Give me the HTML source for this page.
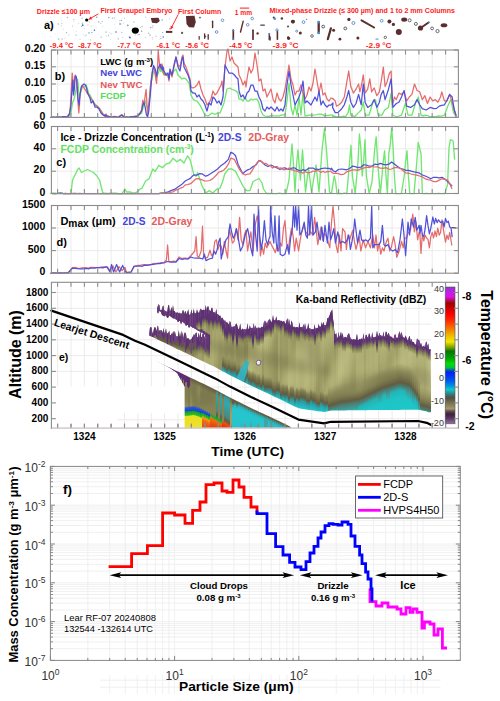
<!DOCTYPE html><html><head><meta charset="utf-8"><style>html,body{margin:0;padding:0;background:#fff;width:500px;height:701px;overflow:hidden}svg{display:block}text{font-family:"Liberation Sans",sans-serif}</style></head><body>
<svg width="500" height="701" viewBox="0 0 500 701">
<rect width="500" height="701" fill="#fff"/>
<text x="36.8" y="14.1" font-size="7.3" fill="#ff1a1a" font-weight="bold" textLength="53.2" lengthAdjust="spacingAndGlyphs" >Drizzle ≤100 µm</text>
<text x="100.4" y="13.3" font-size="7.6" fill="#ff1a1a" font-weight="bold" textLength="72.0" lengthAdjust="spacingAndGlyphs" >First Graupel Embryo</text>
<text x="178.1" y="13.5" font-size="7.5" fill="#ff1a1a" font-weight="bold" textLength="43.2" lengthAdjust="spacingAndGlyphs" >First Column</text>
<text x="234.8" y="14.9" font-size="7.6" fill="#ff1a1a" font-weight="bold" textLength="17.3" lengthAdjust="spacingAndGlyphs" >1 mm</text>
<line x1="239.8" y1="8.1" x2="249.2" y2="8.1" stroke="#ff1a1a" stroke-width="1"/>
<text x="269.4" y="13.4" font-size="7.3" fill="#ff1a1a" font-weight="bold" textLength="185.6" lengthAdjust="spacingAndGlyphs" >Mixed-phase Drizzle (≤ 300 µm) and 1 to 2 mm Columns</text>
<text x="49.8" y="47.6" font-size="7.4" fill="#ff1a1a" font-weight="bold" textLength="23.8" lengthAdjust="spacingAndGlyphs" >-9.4 °C</text>
<text x="78.0" y="47.6" font-size="7.4" fill="#ff1a1a" font-weight="bold" textLength="23.8" lengthAdjust="spacingAndGlyphs" >-8.7 °C</text>
<text x="117.6" y="47.6" font-size="7.4" fill="#ff1a1a" font-weight="bold" textLength="23.5" lengthAdjust="spacingAndGlyphs" >-7.7 °C</text>
<text x="156.6" y="47.6" font-size="7.4" fill="#ff1a1a" font-weight="bold" textLength="23.5" lengthAdjust="spacingAndGlyphs" >-6.1 °C</text>
<text x="185.2" y="47.6" font-size="7.4" fill="#ff1a1a" font-weight="bold" textLength="23.8" lengthAdjust="spacingAndGlyphs" >-5.6 °C</text>
<text x="229.2" y="47.6" font-size="7.4" fill="#ff1a1a" font-weight="bold" textLength="23.1" lengthAdjust="spacingAndGlyphs" >-4.5 °C</text>
<text x="272.6" y="47.6" font-size="7.4" fill="#ff1a1a" font-weight="bold" textLength="26.0" lengthAdjust="spacingAndGlyphs" >-3.9 °C</text>
<text x="365.8" y="47.6" font-size="7.4" fill="#ff1a1a" font-weight="bold" textLength="25.8" lengthAdjust="spacingAndGlyphs" >-2.9 °C</text>
<text x="44.0" y="28.8" font-size="11" fill="#000" font-weight="bold" >a)</text>
<line x1="98.5" y1="13.8" x2="88.6" y2="19.4" stroke="#ff1a1a" stroke-width="0.9"/>
<polygon points="88.6,19.4 90.6,16.4 92.2,19.2" fill="#ff1a1a"/>
<line x1="178.3" y1="14.3" x2="170.6" y2="29.3" stroke="#ff1a1a" stroke-width="0.9"/>
<polygon points="170.6,29.3 170.6,25.7 173.5,27.2" fill="#ff1a1a"/>
<circle cx="123.8" cy="17.6" r="0.46" fill="#c0c8d0" opacity="0.57"/>
<circle cx="55.1" cy="34.0" r="0.39" fill="#b0b8c0" opacity="0.71"/>
<circle cx="45.8" cy="22.0" r="0.62" fill="#b0b8c0" opacity="0.78"/>
<circle cx="133.7" cy="33.1" r="0.45" fill="#7fa0c8" opacity="0.79"/>
<circle cx="145.6" cy="17.1" r="0.66" fill="#9fb0c0" opacity="0.67"/>
<circle cx="61.9" cy="39.0" r="0.40" fill="#c0c8d0" opacity="0.69"/>
<circle cx="87.9" cy="24.9" r="0.71" fill="#c0c8d0" opacity="0.86"/>
<circle cx="110.6" cy="39.4" r="0.39" fill="#7fa0c8" opacity="0.65"/>
<circle cx="122.5" cy="37.4" r="0.61" fill="#c0c8d0" opacity="0.85"/>
<circle cx="47.9" cy="22.2" r="0.79" fill="#c0c8d0" opacity="0.93"/>
<circle cx="152.9" cy="25.7" r="0.64" fill="#7fa0c8" opacity="0.68"/>
<circle cx="89.4" cy="21.8" r="0.67" fill="#c0c8d0" opacity="0.84"/>
<circle cx="51.1" cy="31.6" r="0.68" fill="#b0b8c0" opacity="0.58"/>
<circle cx="90.6" cy="39.8" r="0.66" fill="#a0c0a0" opacity="0.61"/>
<circle cx="83.5" cy="34.7" r="0.45" fill="#6d8fb5" opacity="0.52"/>
<circle cx="82.4" cy="23.2" r="0.76" fill="#9fb0c0" opacity="0.78"/>
<circle cx="133.9" cy="21.9" r="0.53" fill="#7fa0c8" opacity="0.96"/>
<circle cx="100.7" cy="23.1" r="0.69" fill="#9fb0c0" opacity="0.77"/>
<circle cx="137.6" cy="26.9" r="0.53" fill="#b0b8c0" opacity="0.61"/>
<circle cx="169.7" cy="28.7" r="0.69" fill="#6d8fb5" opacity="0.93"/>
<circle cx="61.6" cy="20.7" r="0.54" fill="#a0c0a0" opacity="0.53"/>
<circle cx="90.8" cy="39.9" r="0.46" fill="#b0b8c0" opacity="0.78"/>
<circle cx="162.6" cy="32.6" r="0.66" fill="#6d8fb5" opacity="0.77"/>
<circle cx="76.2" cy="31.7" r="0.48" fill="#6d8fb5" opacity="0.58"/>
<circle cx="42.4" cy="33.6" r="0.47" fill="#a0c0a0" opacity="0.75"/>
<circle cx="64.9" cy="38.0" r="0.48" fill="#a0c0a0" opacity="0.82"/>
<circle cx="119.9" cy="20.5" r="0.59" fill="#9fb0c0" opacity="0.89"/>
<circle cx="109.9" cy="17.0" r="0.57" fill="#c0c8d0" opacity="0.56"/>
<circle cx="88.5" cy="39.7" r="0.46" fill="#c0c8d0" opacity="0.62"/>
<circle cx="114.6" cy="18.8" r="0.57" fill="#a0c0a0" opacity="0.53"/>
<circle cx="139.4" cy="34.6" r="0.65" fill="#9fb0c0" opacity="0.97"/>
<circle cx="63.1" cy="29.1" r="0.54" fill="#b0b8c0" opacity="0.61"/>
<circle cx="111.0" cy="33.8" r="0.67" fill="#9fb0c0" opacity="0.70"/>
<circle cx="128.0" cy="25.6" r="0.55" fill="#b0b8c0" opacity="0.62"/>
<circle cx="50.2" cy="17.5" r="0.45" fill="#b0b8c0" opacity="0.61"/>
<circle cx="51.1" cy="31.5" r="0.38" fill="#9fb0c0" opacity="0.52"/>
<circle cx="84.3" cy="28.8" r="0.65" fill="#c0c8d0" opacity="0.61"/>
<circle cx="58.9" cy="38.5" r="0.61" fill="#b0b8c0" opacity="0.62"/>
<circle cx="102.5" cy="26.4" r="0.39" fill="#6d8fb5" opacity="0.72"/>
<circle cx="96.2" cy="27.7" r="0.37" fill="#a0c0a0" opacity="0.83"/>
<circle cx="124.7" cy="18.4" r="0.50" fill="#a0c0a0" opacity="0.93"/>
<circle cx="73.8" cy="21.4" r="0.41" fill="#7fa0c8" opacity="0.59"/>
<circle cx="101.2" cy="37.1" r="0.55" fill="#6d8fb5" opacity="0.93"/>
<circle cx="112.4" cy="18.2" r="0.73" fill="#b0b8c0" opacity="0.98"/>
<circle cx="160.6" cy="36.5" r="0.53" fill="#9fb0c0" opacity="0.74"/>
<circle cx="152.7" cy="37.8" r="0.52" fill="#9fb0c0" opacity="0.99"/>
<circle cx="75.9" cy="35.0" r="0.48" fill="#7fa0c8" opacity="0.85"/>
<circle cx="135.5" cy="35.0" r="0.67" fill="#a0c0a0" opacity="0.58"/>
<circle cx="80.0" cy="39.3" r="0.68" fill="#b0b8c0" opacity="0.53"/>
<circle cx="82.1" cy="18.2" r="0.58" fill="#7fa0c8" opacity="0.93"/>
<circle cx="62.2" cy="39.1" r="0.73" fill="#6d8fb5" opacity="0.53"/>
<circle cx="50.7" cy="36.8" r="0.40" fill="#7fa0c8" opacity="0.95"/>
<circle cx="73.5" cy="30.7" r="0.39" fill="#b0b8c0" opacity="0.83"/>
<circle cx="114.3" cy="24.3" r="0.44" fill="#c0c8d0" opacity="0.86"/>
<circle cx="72.6" cy="26.1" r="0.64" fill="#a0c0a0" opacity="0.73"/>
<circle cx="160.9" cy="38.5" r="0.56" fill="#6d8fb5" opacity="1.00"/>
<circle cx="169.5" cy="18.7" r="0.58" fill="#9fb0c0" opacity="0.57"/>
<circle cx="86.7" cy="18.6" r="0.52" fill="#9fb0c0" opacity="0.58"/>
<circle cx="148.7" cy="33.2" r="0.79" fill="#b0b8c0" opacity="0.90"/>
<circle cx="109.7" cy="32.4" r="0.48" fill="#b0b8c0" opacity="0.83"/>
<circle cx="162.2" cy="20.1" r="0.75" fill="#6d8fb5" opacity="0.87"/>
<circle cx="61.9" cy="23.5" r="0.67" fill="#9fb0c0" opacity="0.60"/>
<circle cx="123.2" cy="23.1" r="0.46" fill="#7fa0c8" opacity="0.95"/>
<circle cx="48.5" cy="31.6" r="0.37" fill="#c0c8d0" opacity="0.67"/>
<circle cx="58.7" cy="39.5" r="0.68" fill="#9fb0c0" opacity="0.78"/>
<circle cx="96.7" cy="17.2" r="0.78" fill="#6d8fb5" opacity="0.85"/>
<circle cx="61.1" cy="17.8" r="0.61" fill="#c0c8d0" opacity="0.57"/>
<circle cx="58.3" cy="24.1" r="0.75" fill="#6d8fb5" opacity="0.61"/>
<circle cx="73.9" cy="19.4" r="0.75" fill="#b0b8c0" opacity="0.70"/>
<circle cx="121.4" cy="20.6" r="0.74" fill="#9fb0c0" opacity="0.99"/>
<circle cx="145.8" cy="37.3" r="0.43" fill="#6d8fb5" opacity="0.96"/>
<circle cx="142.1" cy="26.5" r="0.74" fill="#a0c0a0" opacity="0.91"/>
<circle cx="76.2" cy="35.1" r="0.52" fill="#6d8fb5" opacity="0.52"/>
<circle cx="102.2" cy="21.6" r="0.51" fill="#7fa0c8" opacity="0.91"/>
<circle cx="153.5" cy="22.1" r="0.44" fill="#a0c0a0" opacity="0.66"/>
<circle cx="152.6" cy="39.2" r="0.51" fill="#c0c8d0" opacity="0.75"/>
<circle cx="129.0" cy="36.4" r="0.77" fill="#c0c8d0" opacity="0.56"/>
<circle cx="166.2" cy="21.1" r="0.37" fill="#c0c8d0" opacity="0.80"/>
<circle cx="86.2" cy="35.1" r="0.62" fill="#7fa0c8" opacity="0.76"/>
<circle cx="91.3" cy="30.3" r="0.37" fill="#c0c8d0" opacity="0.72"/>
<circle cx="108.5" cy="35.5" r="0.67" fill="#a0c0a0" opacity="0.87"/>
<circle cx="127.8" cy="25.4" r="0.78" fill="#6d8fb5" opacity="0.96"/>
<circle cx="121.8" cy="32.3" r="0.67" fill="#6d8fb5" opacity="0.65"/>
<circle cx="81.6" cy="26.4" r="0.66" fill="#7fa0c8" opacity="0.78"/>
<circle cx="66.6" cy="32.3" r="0.65" fill="#7fa0c8" opacity="0.95"/>
<circle cx="120.8" cy="23.9" r="0.73" fill="#b0b8c0" opacity="0.65"/>
<circle cx="68.9" cy="35.1" r="0.64" fill="#b0b8c0" opacity="0.73"/>
<circle cx="98.6" cy="21.9" r="0.71" fill="#7fa0c8" opacity="0.98"/>
<circle cx="136.2" cy="32.2" r="0.58" fill="#c0c8d0" opacity="0.82"/>
<circle cx="84.9" cy="35.8" r="0.65" fill="#9fb0c0" opacity="0.61"/>
<circle cx="67.5" cy="17.6" r="0.79" fill="#9fb0c0" opacity="0.81"/>
<circle cx="140.4" cy="27.5" r="0.61" fill="#a0c0a0" opacity="0.86"/>
<circle cx="91.1" cy="26.2" r="0.65" fill="#9fb0c0" opacity="0.50"/>
<circle cx="138.1" cy="34.7" r="0.70" fill="#6d8fb5" opacity="0.61"/>
<circle cx="144.9" cy="33.0" r="0.37" fill="#7fa0c8" opacity="0.62"/>
<circle cx="150.6" cy="27.5" r="0.65" fill="#7fa0c8" opacity="0.99"/>
<circle cx="118.2" cy="38.9" r="0.63" fill="#7fa0c8" opacity="0.86"/>
<circle cx="106.6" cy="36.1" r="0.55" fill="#b0b8c0" opacity="0.58"/>
<circle cx="152.3" cy="27.4" r="0.73" fill="#9fb0c0" opacity="0.64"/>
<circle cx="141.5" cy="28.1" r="0.47" fill="#9fb0c0" opacity="0.54"/>
<circle cx="78.6" cy="23.2" r="0.75" fill="#c0c8d0" opacity="0.54"/>
<circle cx="61.3" cy="25.8" r="0.67" fill="#9fb0c0" opacity="0.53"/>
<circle cx="94.2" cy="29.5" r="0.38" fill="#7fa0c8" opacity="0.92"/>
<circle cx="91.9" cy="34.7" r="0.36" fill="#a0c0a0" opacity="0.94"/>
<circle cx="115.7" cy="28.0" r="0.48" fill="#c0c8d0" opacity="0.69"/>
<circle cx="156.1" cy="36.2" r="0.69" fill="#b0b8c0" opacity="0.77"/>
<circle cx="119.2" cy="22.1" r="0.47" fill="#9fb0c0" opacity="0.74"/>
<circle cx="91.8" cy="32.4" r="0.68" fill="#7fa0c8" opacity="0.92"/>
<circle cx="159.7" cy="39.6" r="0.36" fill="#b0b8c0" opacity="0.70"/>
<circle cx="114.2" cy="17.6" r="0.54" fill="#a0c0a0" opacity="0.93"/>
<circle cx="82.7" cy="25.2" r="0.9" fill="#4a7ab0"/>
<circle cx="94.4" cy="30.2" r="0.8" fill="#4a7ab0"/>
<circle cx="89" cy="32.9" r="0.7" fill="#4a7ab0"/>
<circle cx="116" cy="32" r="0.8" fill="#4a7ab0"/>
<circle cx="108.8" cy="17.6" r="0.6" fill="#4a7ab0"/>
<circle cx="106" cy="32" r="0.6" fill="#4a7ab0"/>
<circle cx="129.9" cy="37.4" r="1.0" fill="#4a7ab0"/>
<circle cx="141.6" cy="31.1" r="0.7" fill="#4a7ab0"/>
<circle cx="163.2" cy="37" r="0.8" fill="#4a7ab0"/>
<circle cx="120" cy="24" r="0.7" fill="#4a7ab0"/>
<circle cx="150" cy="35" r="0.6" fill="#4a7ab0"/>
<circle cx="86.7" cy="20" r="1.6" fill="#000"/>
<ellipse cx="135.3" cy="30.6" rx="3.6" ry="3.1" fill="#000"/>
<path d="M150.8,18 L158.5,17.8 L159.8,21 L157,23.2 L152,22.8 Z" fill="#5a2e2e"/>
<path d="M186,16 L194.5,15.8 L195.8,22 L194,27.5 L189,27.2 L186.5,24 Z" fill="#5a2e2e"/>
<rect x="165.9" y="30.9" width="6.4" height="2" fill="#5a2e2e"/>
<line x1="199.2" y1="36.5" x2="199.2" y2="39.2" stroke="#5a2e2e" stroke-width="1.2" stroke-linecap="round"/>
<line x1="204.6" y1="33.8" x2="204.6" y2="38.3" stroke="#5a2e2e" stroke-width="1.3" stroke-linecap="round"/>
<line x1="208.2" y1="34.7" x2="208.2" y2="39.2" stroke="#5a2e2e" stroke-width="1.3" stroke-linecap="round"/>
<circle cx="182.1" cy="32.9" r="1.1" fill="#555"/>
<circle cx="205.4" cy="36.5" r="0.9" fill="#555"/>
<circle cx="200" cy="17.6" r="0.9" fill="#555"/>
<line x1="212.6" y1="21.2" x2="212.6" y2="27.5" stroke="#5a2e2e" stroke-width="1.4" stroke-linecap="round"/>
<circle cx="222.5" cy="20.3" r="1.3" fill="none" stroke="#4a80c0" stroke-width="0.8"/>
<circle cx="216.6" cy="32" r="1.3" fill="none" stroke="#4a80c0" stroke-width="0.8"/>
<line x1="233.3" y1="30.2" x2="233.3" y2="39.2" stroke="#5a2e2e" stroke-width="1.7" stroke-linecap="round"/>
<circle cx="233.3" cy="30.2" r="1.0" fill="#4a90d0"/>
<circle cx="233.3" cy="39.2" r="1.0" fill="#4a90d0"/>
<line x1="243.2" y1="21.2" x2="240.5" y2="32" stroke="#5a2e2e" stroke-width="1.4" stroke-linecap="round"/>
<circle cx="247.7" cy="24.8" r="1.3" fill="none" stroke="#4a80c0" stroke-width="0.8"/>
<circle cx="252.2" cy="18.5" r="1.3" fill="none" stroke="#4a80c0" stroke-width="0.8"/>
<line x1="253" y1="30.2" x2="253" y2="39.2" stroke="#5a2e2e" stroke-width="1.7" stroke-linecap="round"/>
<rect x="260.3" y="24.4" width="4.5" height="1.6" fill="#607080"/>
<circle cx="257.6" cy="33.4" r="1.2" fill="#5a2e2e"/>
<line x1="269.3" y1="33.8" x2="269.3" y2="39.2" stroke="#5a2e2e" stroke-width="1.5" stroke-linecap="round"/>
<circle cx="269.3" cy="33.8" r="0.9" fill="#4a90d0"/>
<circle cx="269.3" cy="39.2" r="0.9" fill="#4a90d0"/>
<line x1="277.4" y1="31" x2="277.4" y2="39.2" stroke="#5a2e2e" stroke-width="1.6" stroke-linecap="round"/>
<circle cx="273.8" cy="17.6" r="1.1" fill="#444"/>
<circle cx="281.9" cy="18.5" r="1.2" fill="#444"/>
<circle cx="288.2" cy="37.4" r="1.2" fill="#5a2e2e"/>
<circle cx="293.1" cy="21.6" r="1.8" fill="#5a2e2e"/>
<circle cx="303.5" cy="22.1" r="1.4" fill="none" stroke="#4a80c0" stroke-width="0.8"/>
<circle cx="306.6" cy="19.4" r="0.7" fill="#6a8ab0"/>
<line x1="318.7" y1="22.1" x2="318.7" y2="32.9" stroke="#5a2e2e" stroke-width="2.3" stroke-linecap="round"/>
<circle cx="318.7" cy="22.1" r="1.4" fill="#4a90d0"/>
<circle cx="318.7" cy="32.9" r="1.4" fill="#4a90d0"/>
<circle cx="323.2" cy="26.6" r="1.4" fill="none" stroke="#334" stroke-width="0.8"/>
<line x1="330.9" y1="28.4" x2="327.8" y2="39.2" stroke="#5a2e2e" stroke-width="2.2" stroke-linecap="round"/>
<circle cx="333.6" cy="30.2" r="1.5" fill="#5a2e2e"/>
<circle cx="345.3" cy="28.4" r="1.4" fill="none" stroke="#334" stroke-width="0.8"/>
<circle cx="348.9" cy="19.4" r="1.6" fill="#5a2e2e"/>
<circle cx="353.4" cy="23" r="1.5" fill="none" stroke="#4a80c0" stroke-width="0.8"/>
<line x1="361.5" y1="20.3" x2="374.1" y2="27.5" stroke="#5a2e2e" stroke-width="2.0" stroke-linecap="round"/>
<circle cx="296.7" cy="31.1" r="1.0" fill="none" stroke="#4a80c0" stroke-width="0.8"/>
<circle cx="300.3" cy="32.9" r="1.5" fill="#5a2e2e"/>
<circle cx="288.6" cy="38.3" r="1.6" fill="#5a2e2e"/>
<circle cx="312" cy="36" r="1.3" fill="none" stroke="#4a4a6a" stroke-width="0.8"/>
<circle cx="339.9" cy="39.2" r="1.4" fill="#5a2e2e"/>
<circle cx="357.9" cy="37.9" r="1.5" fill="#5a2e2e"/>
<circle cx="381.7" cy="20.8" r="1.4" fill="none" stroke="#3a8ad0" stroke-width="0.8"/>
<circle cx="389.4" cy="21.6" r="2.0" fill="#5a2e2e"/>
<circle cx="393.4" cy="24.4" r="1.6" fill="#5a2e2e"/>
<ellipse cx="404.2" cy="19.6" rx="3" ry="2.2" fill="#5a2e2e"/>
<circle cx="409.6" cy="20.3" r="1.5" fill="none" stroke="#445" stroke-width="0.8"/>
<circle cx="415.9" cy="23.9" r="1.5" fill="none" stroke="#445" stroke-width="0.8"/>
<line x1="420" y1="28.5" x2="428.5" y2="22.5" stroke="#5a2e2e" stroke-width="2.0" stroke-linecap="round"/>
<circle cx="420.5" cy="28" r="2.6" fill="#5a2e2e"/>
<circle cx="429" cy="22.3" r="0.9" fill="#4a90d0"/>
<circle cx="398.8" cy="32" r="3.0" fill="#5a2e2e"/>
<circle cx="432.1" cy="28.4" r="1.4" fill="none" stroke="#445" stroke-width="0.8"/>
<circle cx="437.5" cy="31.1" r="1.6" fill="none" stroke="#445" stroke-width="0.8"/>
<ellipse cx="444" cy="25.2" rx="3.3" ry="2" fill="#5a2e2e"/>
<circle cx="385.3" cy="37.4" r="1.2" fill="none" stroke="#445" stroke-width="0.8"/>
<rect x="375.5" y="38.6" width="3" height="1" fill="#4a90d0"/>
<circle cx="274.8" cy="18.7" r="1.2" fill="#4a90d0"/>
<circle cx="292.8" cy="21.6" r="1.9" fill="#5a2e2e"/>
<circle cx="288" cy="26.4" r="1.0" fill="#444"/>
<line x1="270" y1="37" x2="270" y2="40" stroke="#5a2e2e" stroke-width="1.5" stroke-linecap="round"/>
<circle cx="277" cy="30" r="1.2" fill="none" stroke="#4a90d0" stroke-width="0.8"/>
<line x1="57.6" y1="50.0" x2="57.6" y2="117.4" stroke="#e6e6e6" stroke-width="0.8"/>
<line x1="71.0" y1="50.0" x2="71.0" y2="117.4" stroke="#e6e6e6" stroke-width="0.8"/>
<line x1="84.4" y1="50.0" x2="84.4" y2="117.4" stroke="#e6e6e6" stroke-width="0.8"/>
<line x1="97.7" y1="50.0" x2="97.7" y2="117.4" stroke="#e6e6e6" stroke-width="0.8"/>
<line x1="111.1" y1="50.0" x2="111.1" y2="117.4" stroke="#e6e6e6" stroke-width="0.8"/>
<line x1="124.5" y1="50.0" x2="124.5" y2="117.4" stroke="#e6e6e6" stroke-width="0.8"/>
<line x1="137.9" y1="50.0" x2="137.9" y2="117.4" stroke="#e6e6e6" stroke-width="0.8"/>
<line x1="151.3" y1="50.0" x2="151.3" y2="117.4" stroke="#e6e6e6" stroke-width="0.8"/>
<line x1="164.6" y1="50.0" x2="164.6" y2="117.4" stroke="#e6e6e6" stroke-width="0.8"/>
<line x1="178.0" y1="50.0" x2="178.0" y2="117.4" stroke="#e6e6e6" stroke-width="0.8"/>
<line x1="191.4" y1="50.0" x2="191.4" y2="117.4" stroke="#e6e6e6" stroke-width="0.8"/>
<line x1="204.8" y1="50.0" x2="204.8" y2="117.4" stroke="#e6e6e6" stroke-width="0.8"/>
<line x1="218.2" y1="50.0" x2="218.2" y2="117.4" stroke="#e6e6e6" stroke-width="0.8"/>
<line x1="231.5" y1="50.0" x2="231.5" y2="117.4" stroke="#e6e6e6" stroke-width="0.8"/>
<line x1="244.9" y1="50.0" x2="244.9" y2="117.4" stroke="#e6e6e6" stroke-width="0.8"/>
<line x1="258.3" y1="50.0" x2="258.3" y2="117.4" stroke="#e6e6e6" stroke-width="0.8"/>
<line x1="271.7" y1="50.0" x2="271.7" y2="117.4" stroke="#e6e6e6" stroke-width="0.8"/>
<line x1="285.1" y1="50.0" x2="285.1" y2="117.4" stroke="#e6e6e6" stroke-width="0.8"/>
<line x1="298.4" y1="50.0" x2="298.4" y2="117.4" stroke="#e6e6e6" stroke-width="0.8"/>
<line x1="311.8" y1="50.0" x2="311.8" y2="117.4" stroke="#e6e6e6" stroke-width="0.8"/>
<line x1="325.2" y1="50.0" x2="325.2" y2="117.4" stroke="#e6e6e6" stroke-width="0.8"/>
<line x1="338.6" y1="50.0" x2="338.6" y2="117.4" stroke="#e6e6e6" stroke-width="0.8"/>
<line x1="352.0" y1="50.0" x2="352.0" y2="117.4" stroke="#e6e6e6" stroke-width="0.8"/>
<line x1="365.3" y1="50.0" x2="365.3" y2="117.4" stroke="#e6e6e6" stroke-width="0.8"/>
<line x1="378.7" y1="50.0" x2="378.7" y2="117.4" stroke="#e6e6e6" stroke-width="0.8"/>
<line x1="392.1" y1="50.0" x2="392.1" y2="117.4" stroke="#e6e6e6" stroke-width="0.8"/>
<line x1="405.5" y1="50.0" x2="405.5" y2="117.4" stroke="#e6e6e6" stroke-width="0.8"/>
<line x1="418.9" y1="50.0" x2="418.9" y2="117.4" stroke="#e6e6e6" stroke-width="0.8"/>
<line x1="432.2" y1="50.0" x2="432.2" y2="117.4" stroke="#e6e6e6" stroke-width="0.8"/>
<line x1="445.6" y1="50.0" x2="445.6" y2="117.4" stroke="#e6e6e6" stroke-width="0.8"/>
<line x1="51.4" y1="66.8" x2="458.4" y2="66.8" stroke="#e6e6e6" stroke-width="0.8"/>
<line x1="51.4" y1="84.0" x2="458.4" y2="84.0" stroke="#e6e6e6" stroke-width="0.8"/>
<line x1="51.4" y1="100.9" x2="458.4" y2="100.9" stroke="#e6e6e6" stroke-width="0.8"/>
<polyline points="51.0,117.4 53.1,117.0 55.2,117.4 57.4,117.4 59.5,116.8 61.6,117.1 63.8,117.0 65.9,117.4 68.0,117.0 70.0,116.0 71.2,112.0 72.5,103.0 74.0,99.0 75.5,93.0 76.8,82.0 77.5,79.0 78.2,85.0 79.2,97.0 80.5,93.0 82.0,88.0 84.0,87.0 86.2,85.0 87.2,88.0 88.5,93.0 90.0,95.0 92.0,99.0 94.0,103.0 96.0,105.0 98.0,107.0 100.0,109.0 102.0,112.0 104.0,115.0 106.0,116.0 105.0,115.3 107.4,116.5 111.0,117.4 114.6,117.1 118.2,117.4 121.8,115.3 124.2,117.4 126.6,117.4 129.0,117.4 131.4,117.0 133.8,117.1 137.4,116.5 139.8,114.1 141.6,113.4 143.2,107.4 144.9,100.2 146.4,105.0 148.0,109.8 149.2,102.6 150.6,84.6 152.1,78.6 153.6,71.4 155.4,73.8 156.9,77.4 158.4,72.6 159.6,69.0 160.8,71.4 162.4,67.8 163.8,70.2 160.6,69.0 162.0,71.0 164.0,75.0 166.0,73.0 168.0,77.0 170.0,73.0 172.0,75.0 174.0,71.0 176.0,69.0 178.0,75.0 180.0,77.0 182.0,79.0 184.0,78.1 186.0,79.0 189.0,83.0 191.0,95.0 193.0,99.0 195.0,100.7 197.0,101.0 200.0,105.0 203.0,111.0 205.0,115.0 208.0,116.0 210.0,114.4 212.0,113.0 214.0,114.0 216.0,114.0 218.0,112.5 220.0,113.0 222.0,107.9 224.0,103.0 227.0,89.0 230.0,88.0 232.0,89.4 234.0,90.0 236.0,91.0 238.0,93.0 239.0,99.0 241.0,99.0 243.0,101.0 245.0,97.0 247.0,101.0 249.0,101.0 251.0,99.0 253.0,100.0 255.0,99.0 257.0,99.0 259.0,103.0 261.0,111.0 263.0,115.0 265.0,116.0 267.0,116.4 269.0,116.4 271.0,115.6 273.0,115.6 275.0,116.0 277.0,115.9 279.0,116.0 281.0,115.2 283.0,114.8 285.0,115.0 287.0,101.0 289.0,83.0 291.0,107.0 293.0,115.0 295.0,105.0 297.0,115.0 299.0,97.0 301.0,115.0 303.0,93.0 305.0,116.0 307.0,115.6 309.0,115.2 311.0,115.0 313.0,115.1 315.0,115.0 317.0,114.5 319.0,114.0 321.0,114.1 323.0,114.9 325.0,116.0 327.0,115.3 329.0,115.4 331.0,114.8 333.0,115.0 332.6,116.5 334.8,116.1 336.9,116.9 339.1,116.6 341.3,116.8 343.4,116.1 345.6,116.5 348.2,112.6 349.5,104.8 350.8,115.2 354.7,116.5 358.6,112.6 361.2,110.0 363.3,102.2 365.1,115.2 369.0,115.2 372.9,102.2 375.5,99.6 378.1,115.2 382.0,115.2 384.6,110.0 388.5,107.4 391.1,93.1 392.9,115.2 395.3,116.3 397.6,116.5 401.5,115.2 405.4,103.5 408.0,115.2 411.9,115.2 415.8,102.2 418.4,97.0 421.0,115.2 423.2,115.8 425.3,115.2 427.5,115.5 429.7,116.5 431.8,116.7 434.0,116.5 436.1,116.6 438.2,115.8 440.2,116.1 442.3,115.8 444.4,115.2 448.3,104.8 450.9,99.6 453.5,112.6 456.1,116.5" fill="none" stroke="#6ae46a" stroke-width="1.25" stroke-linejoin="round" stroke-linecap="round" opacity="1.0"/>
<polyline points="51.0,117.4 53.1,117.4 55.2,117.4 57.4,116.8 59.5,116.8 61.6,117.4 63.8,117.4 65.9,117.4 68.0,117.0 69.5,113.0 70.5,105.0 71.5,85.0 72.2,73.0 73.0,80.0 73.8,90.0 74.5,80.0 75.2,75.0 76.0,77.0 76.8,85.0 77.8,100.0 78.8,113.0 79.5,105.0 80.0,95.0 81.0,88.0 83.0,86.0 84.5,89.0 85.5,90.0 87.0,93.0 89.0,95.0 91.0,99.0 93.0,101.0 95.0,105.0 97.0,106.0 99.0,108.0 101.0,111.0 103.0,114.0 104.5,116.0 106.0,114.0 107.5,116.0 105.0,114.6 107.4,115.8 111.0,117.0 114.6,116.4 118.2,117.0 121.8,114.6 124.2,117.0 126.6,116.6 129.0,117.0 131.4,116.9 133.8,116.4 137.4,115.8 139.8,113.4 141.6,109.8 142.8,100.2 144.0,105.0 145.2,95.4 146.1,89.4 146.8,101.4 147.6,114.6 148.5,106.2 149.7,95.4 150.9,81.0 152.4,71.4 153.6,66.6 154.8,71.4 155.7,78.6 156.6,83.4 157.5,69.0 158.2,49.8 159.0,59.4 160.0,69.0 160.8,65.4 162.0,67.8 163.2,70.2 164.4,75.0 160.6,65.0 162.0,64.0 164.0,73.0 166.0,75.0 168.0,75.0 169.0,81.0 170.0,71.0 172.0,77.0 174.0,67.0 176.0,57.0 178.0,65.0 180.0,67.0 182.0,57.0 183.0,55.0 184.0,63.0 186.0,67.0 188.0,73.0 190.0,79.0 191.0,87.0 193.0,88.0 195.0,87.0 197.0,85.0 199.0,81.0 201.0,89.0 203.0,95.0 205.0,99.0 207.0,105.0 209.0,103.0 211.0,99.0 213.0,91.0 215.0,95.0 217.0,93.0 219.0,89.0 221.0,85.0 222.0,81.0 223.0,91.0 225.0,67.0 227.0,51.0 228.0,49.0 230.0,61.0 232.0,57.0 234.0,63.0 236.0,65.0 238.0,67.0 239.0,75.0 241.0,79.0 243.0,85.0 245.0,81.0 246.0,87.0 247.0,79.0 249.0,67.0 251.0,73.0 253.0,69.0 255.0,53.0 257.0,65.0 259.0,81.0 261.0,79.0 263.0,91.0 265.0,89.0 267.0,97.0 269.0,93.0 271.0,89.0 273.0,99.0 275.0,103.0 277.0,93.0 279.0,99.0 281.0,101.0 283.0,97.0 285.0,89.0 287.0,77.0 289.0,65.0 291.0,79.0 293.0,85.0 295.0,95.0 297.0,91.0 299.0,91.0 301.0,85.0 303.0,93.0 305.0,99.0 307.0,95.0 309.0,87.0 311.0,91.0 313.0,83.0 315.0,69.0 317.0,81.0 319.0,93.0 321.0,83.0 323.0,95.0 325.0,93.0 327.0,99.0 329.0,101.0 331.0,98.0 333.0,99.0 332.6,98.3 335.2,100.9 336.5,106.1 339.1,104.8 341.7,102.2 344.3,97.0 346.9,81.4 348.7,71.0 350.8,86.6 353.4,93.1 356.0,89.2 358.6,84.0 359.9,91.8 361.2,86.6 363.3,74.9 365.1,93.1 367.7,89.2 369.8,78.8 371.6,91.8 374.2,87.9 376.8,95.7 379.4,91.8 381.2,81.4 383.3,67.1 385.1,86.6 387.2,81.4 389.3,73.6 391.1,71.0 392.4,104.8 394.5,97.0 396.3,99.6 398.9,93.1 401.5,94.4 404.1,91.8 406.7,100.9 409.3,97.0 411.9,94.4 414.5,84.0 417.1,90.5 419.7,91.8 422.3,99.6 424.9,95.7 427.5,103.5 430.1,97.0 432.7,100.9 435.3,99.6 437.9,102.2 440.5,97.0 441.8,91.8 444.4,100.9 447.0,100.9 449.6,94.4 452.2,102.2 454.3,110.0 456.1,116.5" fill="none" stroke="#e46c6c" stroke-width="1.25" stroke-linejoin="round" stroke-linecap="round" opacity="1.0"/>
<polyline points="51.0,117.4 53.0,117.0 55.0,117.4 57.0,117.0 59.0,117.4 61.0,117.4 63.0,116.7 65.0,116.6 67.0,117.0 69.5,114.0 70.8,107.0 71.8,93.0 72.8,80.0 73.5,95.0 74.2,90.0 75.2,76.0 76.0,76.0 76.8,80.0 77.8,97.0 79.0,105.0 80.0,95.0 81.5,86.0 84.0,84.0 85.5,85.0 86.5,88.0 88.0,94.0 90.0,98.0 91.2,103.0 93.0,101.0 95.0,107.0 97.0,107.0 99.0,109.0 101.0,113.0 103.0,115.0 106.0,116.5 105.0,115.0 107.4,116.2 111.0,117.4 114.6,116.8 118.2,117.4 121.8,115.0 124.2,117.4 126.6,117.4 129.0,117.4 131.4,116.7 133.8,116.8 137.4,116.2 139.8,113.8 141.6,111.0 142.8,105.0 144.0,102.6 145.2,107.4 146.4,114.6 147.6,117.0 148.8,111.0 150.4,93.0 152.1,73.8 153.6,65.4 155.2,69.0 156.6,76.2 157.8,69.0 159.0,66.6 160.2,64.2 161.4,67.8 162.6,66.6 163.8,69.0 160.6,67.0 162.0,69.0 164.0,71.0 166.0,75.0 168.0,73.0 169.0,79.0 170.0,69.0 172.0,75.0 174.0,65.0 176.0,57.0 178.0,67.0 180.0,71.0 182.0,59.0 183.0,57.0 184.0,67.0 186.0,71.0 188.0,75.0 190.0,81.0 191.0,91.0 193.0,93.0 195.0,93.0 197.0,97.0 199.0,95.0 201.0,99.0 203.0,101.0 205.0,105.0 207.0,111.0 209.0,103.0 211.0,105.0 213.0,97.0 215.0,99.0 217.0,103.0 219.0,101.0 221.0,105.0 223.0,97.0 225.0,65.0 227.0,69.0 229.0,73.0 232.0,73.0 234.0,74.5 236.0,77.0 238.0,79.0 239.0,91.0 241.0,97.0 243.0,95.0 245.0,99.0 247.0,93.0 249.0,91.0 251.0,85.0 253.0,85.0 255.0,91.0 257.0,91.0 259.0,97.0 261.0,101.0 263.0,109.0 265.0,111.0 267.0,107.0 269.0,109.0 271.0,107.0 273.0,109.0 275.0,111.0 277.0,107.0 279.0,111.0 281.0,109.0 283.0,111.0 285.0,105.0 287.0,85.0 289.0,71.0 291.0,85.0 293.0,95.0 295.0,105.0 297.0,101.0 299.0,97.0 301.0,91.0 303.0,81.0 305.0,103.0 307.0,101.0 309.0,103.0 311.0,105.0 313.0,101.0 315.0,97.0 317.0,101.0 319.0,91.0 321.0,105.0 323.0,101.0 325.0,105.0 327.0,107.0 329.0,105.0 331.0,105.0 333.0,103.0 332.6,107.4 335.2,112.6 337.8,112.6 341.7,108.7 344.3,104.8 346.9,97.0 348.7,90.5 350.8,102.2 353.4,107.4 356.0,103.5 358.6,94.4 361.2,104.8 363.3,84.0 365.1,102.2 367.7,107.4 371.6,104.8 374.2,99.6 376.8,107.4 379.4,102.2 381.2,94.4 383.3,90.5 385.1,99.6 388.5,89.2 391.1,78.8 392.9,107.4 396.3,103.5 398.9,102.2 401.5,97.0 404.1,90.5 406.7,106.1 410.6,107.4 414.5,104.8 417.1,99.6 419.7,104.8 422.3,108.7 426.2,110.0 430.1,107.4 434.0,108.7 436.6,108.4 439.2,106.1 441.8,105.4 444.4,104.8 447.0,100.3 449.6,94.4 452.2,97.0 454.3,110.0 456.1,115.2" fill="none" stroke="#5050d8" stroke-width="1.25" stroke-linejoin="round" stroke-linecap="round" opacity="1.0"/>
<line x1="57.6" y1="50.0" x2="57.6" y2="54.5" stroke="#8c8c8c" stroke-width="1.1"/>
<line x1="57.6" y1="117.4" x2="57.6" y2="112.9" stroke="#8c8c8c" stroke-width="1.1"/>
<line x1="71.0" y1="50.0" x2="71.0" y2="54.5" stroke="#8c8c8c" stroke-width="1.1"/>
<line x1="71.0" y1="117.4" x2="71.0" y2="112.9" stroke="#8c8c8c" stroke-width="1.1"/>
<line x1="84.4" y1="50.0" x2="84.4" y2="54.5" stroke="#8c8c8c" stroke-width="1.1"/>
<line x1="84.4" y1="117.4" x2="84.4" y2="112.9" stroke="#8c8c8c" stroke-width="1.1"/>
<line x1="97.7" y1="50.0" x2="97.7" y2="54.5" stroke="#8c8c8c" stroke-width="1.1"/>
<line x1="97.7" y1="117.4" x2="97.7" y2="112.9" stroke="#8c8c8c" stroke-width="1.1"/>
<line x1="111.1" y1="50.0" x2="111.1" y2="54.5" stroke="#8c8c8c" stroke-width="1.1"/>
<line x1="111.1" y1="117.4" x2="111.1" y2="112.9" stroke="#8c8c8c" stroke-width="1.1"/>
<line x1="124.5" y1="50.0" x2="124.5" y2="54.5" stroke="#8c8c8c" stroke-width="1.1"/>
<line x1="124.5" y1="117.4" x2="124.5" y2="112.9" stroke="#8c8c8c" stroke-width="1.1"/>
<line x1="137.9" y1="50.0" x2="137.9" y2="54.5" stroke="#8c8c8c" stroke-width="1.1"/>
<line x1="137.9" y1="117.4" x2="137.9" y2="112.9" stroke="#8c8c8c" stroke-width="1.1"/>
<line x1="151.3" y1="50.0" x2="151.3" y2="54.5" stroke="#8c8c8c" stroke-width="1.1"/>
<line x1="151.3" y1="117.4" x2="151.3" y2="112.9" stroke="#8c8c8c" stroke-width="1.1"/>
<line x1="164.6" y1="50.0" x2="164.6" y2="54.5" stroke="#8c8c8c" stroke-width="1.1"/>
<line x1="164.6" y1="117.4" x2="164.6" y2="112.9" stroke="#8c8c8c" stroke-width="1.1"/>
<line x1="178.0" y1="50.0" x2="178.0" y2="54.5" stroke="#8c8c8c" stroke-width="1.1"/>
<line x1="178.0" y1="117.4" x2="178.0" y2="112.9" stroke="#8c8c8c" stroke-width="1.1"/>
<line x1="191.4" y1="50.0" x2="191.4" y2="54.5" stroke="#8c8c8c" stroke-width="1.1"/>
<line x1="191.4" y1="117.4" x2="191.4" y2="112.9" stroke="#8c8c8c" stroke-width="1.1"/>
<line x1="204.8" y1="50.0" x2="204.8" y2="54.5" stroke="#8c8c8c" stroke-width="1.1"/>
<line x1="204.8" y1="117.4" x2="204.8" y2="112.9" stroke="#8c8c8c" stroke-width="1.1"/>
<line x1="218.2" y1="50.0" x2="218.2" y2="54.5" stroke="#8c8c8c" stroke-width="1.1"/>
<line x1="218.2" y1="117.4" x2="218.2" y2="112.9" stroke="#8c8c8c" stroke-width="1.1"/>
<line x1="231.5" y1="50.0" x2="231.5" y2="54.5" stroke="#8c8c8c" stroke-width="1.1"/>
<line x1="231.5" y1="117.4" x2="231.5" y2="112.9" stroke="#8c8c8c" stroke-width="1.1"/>
<line x1="244.9" y1="50.0" x2="244.9" y2="54.5" stroke="#8c8c8c" stroke-width="1.1"/>
<line x1="244.9" y1="117.4" x2="244.9" y2="112.9" stroke="#8c8c8c" stroke-width="1.1"/>
<line x1="258.3" y1="50.0" x2="258.3" y2="54.5" stroke="#8c8c8c" stroke-width="1.1"/>
<line x1="258.3" y1="117.4" x2="258.3" y2="112.9" stroke="#8c8c8c" stroke-width="1.1"/>
<line x1="271.7" y1="50.0" x2="271.7" y2="54.5" stroke="#8c8c8c" stroke-width="1.1"/>
<line x1="271.7" y1="117.4" x2="271.7" y2="112.9" stroke="#8c8c8c" stroke-width="1.1"/>
<line x1="285.1" y1="50.0" x2="285.1" y2="54.5" stroke="#8c8c8c" stroke-width="1.1"/>
<line x1="285.1" y1="117.4" x2="285.1" y2="112.9" stroke="#8c8c8c" stroke-width="1.1"/>
<line x1="298.4" y1="50.0" x2="298.4" y2="54.5" stroke="#8c8c8c" stroke-width="1.1"/>
<line x1="298.4" y1="117.4" x2="298.4" y2="112.9" stroke="#8c8c8c" stroke-width="1.1"/>
<line x1="311.8" y1="50.0" x2="311.8" y2="54.5" stroke="#8c8c8c" stroke-width="1.1"/>
<line x1="311.8" y1="117.4" x2="311.8" y2="112.9" stroke="#8c8c8c" stroke-width="1.1"/>
<line x1="325.2" y1="50.0" x2="325.2" y2="54.5" stroke="#8c8c8c" stroke-width="1.1"/>
<line x1="325.2" y1="117.4" x2="325.2" y2="112.9" stroke="#8c8c8c" stroke-width="1.1"/>
<line x1="338.6" y1="50.0" x2="338.6" y2="54.5" stroke="#8c8c8c" stroke-width="1.1"/>
<line x1="338.6" y1="117.4" x2="338.6" y2="112.9" stroke="#8c8c8c" stroke-width="1.1"/>
<line x1="352.0" y1="50.0" x2="352.0" y2="54.5" stroke="#8c8c8c" stroke-width="1.1"/>
<line x1="352.0" y1="117.4" x2="352.0" y2="112.9" stroke="#8c8c8c" stroke-width="1.1"/>
<line x1="365.3" y1="50.0" x2="365.3" y2="54.5" stroke="#8c8c8c" stroke-width="1.1"/>
<line x1="365.3" y1="117.4" x2="365.3" y2="112.9" stroke="#8c8c8c" stroke-width="1.1"/>
<line x1="378.7" y1="50.0" x2="378.7" y2="54.5" stroke="#8c8c8c" stroke-width="1.1"/>
<line x1="378.7" y1="117.4" x2="378.7" y2="112.9" stroke="#8c8c8c" stroke-width="1.1"/>
<line x1="392.1" y1="50.0" x2="392.1" y2="54.5" stroke="#8c8c8c" stroke-width="1.1"/>
<line x1="392.1" y1="117.4" x2="392.1" y2="112.9" stroke="#8c8c8c" stroke-width="1.1"/>
<line x1="405.5" y1="50.0" x2="405.5" y2="54.5" stroke="#8c8c8c" stroke-width="1.1"/>
<line x1="405.5" y1="117.4" x2="405.5" y2="112.9" stroke="#8c8c8c" stroke-width="1.1"/>
<line x1="418.9" y1="50.0" x2="418.9" y2="54.5" stroke="#8c8c8c" stroke-width="1.1"/>
<line x1="418.9" y1="117.4" x2="418.9" y2="112.9" stroke="#8c8c8c" stroke-width="1.1"/>
<line x1="432.2" y1="50.0" x2="432.2" y2="54.5" stroke="#8c8c8c" stroke-width="1.1"/>
<line x1="432.2" y1="117.4" x2="432.2" y2="112.9" stroke="#8c8c8c" stroke-width="1.1"/>
<line x1="445.6" y1="50.0" x2="445.6" y2="54.5" stroke="#8c8c8c" stroke-width="1.1"/>
<line x1="445.6" y1="117.4" x2="445.6" y2="112.9" stroke="#8c8c8c" stroke-width="1.1"/>
<line x1="51.4" y1="50.0" x2="55.9" y2="50.0" stroke="#8c8c8c" stroke-width="1.1"/>
<line x1="458.4" y1="50.0" x2="453.9" y2="50.0" stroke="#8c8c8c" stroke-width="1.1"/>
<line x1="51.4" y1="66.8" x2="55.9" y2="66.8" stroke="#8c8c8c" stroke-width="1.1"/>
<line x1="458.4" y1="66.8" x2="453.9" y2="66.8" stroke="#8c8c8c" stroke-width="1.1"/>
<line x1="51.4" y1="84.0" x2="55.9" y2="84.0" stroke="#8c8c8c" stroke-width="1.1"/>
<line x1="458.4" y1="84.0" x2="453.9" y2="84.0" stroke="#8c8c8c" stroke-width="1.1"/>
<line x1="51.4" y1="100.9" x2="55.9" y2="100.9" stroke="#8c8c8c" stroke-width="1.1"/>
<line x1="458.4" y1="100.9" x2="453.9" y2="100.9" stroke="#8c8c8c" stroke-width="1.1"/>
<line x1="51.4" y1="117.4" x2="55.9" y2="117.4" stroke="#8c8c8c" stroke-width="1.1"/>
<line x1="458.4" y1="117.4" x2="453.9" y2="117.4" stroke="#8c8c8c" stroke-width="1.1"/>
<rect x="51.4" y="50.0" width="407.0" height="67.4" fill="none" stroke="#8c8c8c" stroke-width="1.1"/>
<text x="45.3" y="52.2" font-size="10.5" fill="#000" font-weight="bold" text-anchor="end" >0.20</text>
<text x="45.3" y="69.0" font-size="10.5" fill="#000" font-weight="bold" text-anchor="end" >0.15</text>
<text x="45.3" y="86.2" font-size="10.5" fill="#000" font-weight="bold" text-anchor="end" >0.10</text>
<text x="45.3" y="103.1" font-size="10.5" fill="#000" font-weight="bold" text-anchor="end" >0.05</text>
<text x="45.3" y="119.6" font-size="10.5" fill="#000" font-weight="bold" text-anchor="end" >0</text>
<text x="54.8" y="79.5" font-size="11" fill="#000" font-weight="bold" >b)</text>
<text x="100.2" y="64.5" font-size="9.6" fill="#000" font-weight="bold" >LWC (g m<tspan dy="-3" font-size="6.2">-3</tspan><tspan dy="3">)</tspan></text>
<text x="100.2" y="76.2" font-size="9" fill="#4545d8" font-weight="bold" textLength="41.8" lengthAdjust="spacingAndGlyphs" >Nev LWC</text>
<text x="100.2" y="88.3" font-size="9" fill="#e45c5c" font-weight="bold" textLength="42.2" lengthAdjust="spacingAndGlyphs" >Nev TWC</text>
<text x="100.2" y="99.3" font-size="9" fill="#55dd55" font-weight="bold" textLength="25.7" lengthAdjust="spacingAndGlyphs" >FCDP</text>
<line x1="57.6" y1="126.5" x2="57.6" y2="193.5" stroke="#e6e6e6" stroke-width="0.8"/>
<line x1="71.0" y1="126.5" x2="71.0" y2="193.5" stroke="#e6e6e6" stroke-width="0.8"/>
<line x1="84.4" y1="126.5" x2="84.4" y2="193.5" stroke="#e6e6e6" stroke-width="0.8"/>
<line x1="97.7" y1="126.5" x2="97.7" y2="193.5" stroke="#e6e6e6" stroke-width="0.8"/>
<line x1="111.1" y1="126.5" x2="111.1" y2="193.5" stroke="#e6e6e6" stroke-width="0.8"/>
<line x1="124.5" y1="126.5" x2="124.5" y2="193.5" stroke="#e6e6e6" stroke-width="0.8"/>
<line x1="137.9" y1="126.5" x2="137.9" y2="193.5" stroke="#e6e6e6" stroke-width="0.8"/>
<line x1="151.3" y1="126.5" x2="151.3" y2="193.5" stroke="#e6e6e6" stroke-width="0.8"/>
<line x1="164.6" y1="126.5" x2="164.6" y2="193.5" stroke="#e6e6e6" stroke-width="0.8"/>
<line x1="178.0" y1="126.5" x2="178.0" y2="193.5" stroke="#e6e6e6" stroke-width="0.8"/>
<line x1="191.4" y1="126.5" x2="191.4" y2="193.5" stroke="#e6e6e6" stroke-width="0.8"/>
<line x1="204.8" y1="126.5" x2="204.8" y2="193.5" stroke="#e6e6e6" stroke-width="0.8"/>
<line x1="218.2" y1="126.5" x2="218.2" y2="193.5" stroke="#e6e6e6" stroke-width="0.8"/>
<line x1="231.5" y1="126.5" x2="231.5" y2="193.5" stroke="#e6e6e6" stroke-width="0.8"/>
<line x1="244.9" y1="126.5" x2="244.9" y2="193.5" stroke="#e6e6e6" stroke-width="0.8"/>
<line x1="258.3" y1="126.5" x2="258.3" y2="193.5" stroke="#e6e6e6" stroke-width="0.8"/>
<line x1="271.7" y1="126.5" x2="271.7" y2="193.5" stroke="#e6e6e6" stroke-width="0.8"/>
<line x1="285.1" y1="126.5" x2="285.1" y2="193.5" stroke="#e6e6e6" stroke-width="0.8"/>
<line x1="298.4" y1="126.5" x2="298.4" y2="193.5" stroke="#e6e6e6" stroke-width="0.8"/>
<line x1="311.8" y1="126.5" x2="311.8" y2="193.5" stroke="#e6e6e6" stroke-width="0.8"/>
<line x1="325.2" y1="126.5" x2="325.2" y2="193.5" stroke="#e6e6e6" stroke-width="0.8"/>
<line x1="338.6" y1="126.5" x2="338.6" y2="193.5" stroke="#e6e6e6" stroke-width="0.8"/>
<line x1="352.0" y1="126.5" x2="352.0" y2="193.5" stroke="#e6e6e6" stroke-width="0.8"/>
<line x1="365.3" y1="126.5" x2="365.3" y2="193.5" stroke="#e6e6e6" stroke-width="0.8"/>
<line x1="378.7" y1="126.5" x2="378.7" y2="193.5" stroke="#e6e6e6" stroke-width="0.8"/>
<line x1="392.1" y1="126.5" x2="392.1" y2="193.5" stroke="#e6e6e6" stroke-width="0.8"/>
<line x1="405.5" y1="126.5" x2="405.5" y2="193.5" stroke="#e6e6e6" stroke-width="0.8"/>
<line x1="418.9" y1="126.5" x2="418.9" y2="193.5" stroke="#e6e6e6" stroke-width="0.8"/>
<line x1="432.2" y1="126.5" x2="432.2" y2="193.5" stroke="#e6e6e6" stroke-width="0.8"/>
<line x1="445.6" y1="126.5" x2="445.6" y2="193.5" stroke="#e6e6e6" stroke-width="0.8"/>
<line x1="51.4" y1="148.8" x2="458.4" y2="148.8" stroke="#e6e6e6" stroke-width="0.8"/>
<line x1="51.4" y1="171.2" x2="458.4" y2="171.2" stroke="#e6e6e6" stroke-width="0.8"/>
<polyline points="50.9,193.5 52.9,193.2 54.9,193.1 56.9,193.4 58.9,193.1 61.0,193.1 63.0,193.4 65.0,193.6 67.0,193.6 69.0,193.6 71.0,193.5 72.5,180.0 75.5,174.0 77.6,169.5 79.1,168.0 81.5,172.5 84.5,171.0 87.5,169.5 90.5,171.0 93.5,172.5 96.5,175.5 99.5,180.0 102.5,192.0 104.0,193.5 106.0,193.2 108.0,193.6 110.0,193.2 112.0,193.1 114.0,193.1 116.0,193.2 118.0,193.6 120.0,193.6 122.0,193.5 125.0,189.0 126.5,192.0 130.0,191.8 132.4,192.8 134.8,193.0 137.2,191.8 139.6,189.4 142.0,188.2 145.6,181.0 149.2,178.6 152.8,169.0 155.2,171.4 158.8,165.4 162.4,167.8 166.0,164.2 169.6,163.0 173.2,158.2 176.8,161.8 180.4,159.4 184.0,163.0 187.6,155.8 190.0,159.4 191.9,166.6 193.6,173.8 196.0,176.2 197.7,172.6 199.6,178.6 202.0,185.8 205.6,193.0 209.2,190.6 212.8,193.0 216.4,189.4 220.0,188.2 222.4,182.2 224.8,173.8 228.4,169.0 232.0,169.0 235.6,171.4 238.0,176.2 240.4,181.0 242.8,185.8 246.4,190.6 250.0,190.6 253.0,181.5 256.0,180.0 259.0,178.5 262.0,183.0 263.5,189.0 266.5,193.5 268.7,193.3 270.8,193.6 273.0,193.6 275.2,193.6 277.3,193.6 279.5,193.1 281.7,193.6 283.8,193.6 286.0,193.5 289.0,180.0 292.0,144.0 293.5,165.0 295.0,192.0 296.5,165.0 298.0,150.0 300.4,180.0 302.5,150.0 305.5,192.0 308.5,168.0 311.5,192.0 313.8,178.5 316.0,165.0 319.0,192.0 322.0,150.0 324.4,129.0 326.5,150.0 329.5,192.0 331.4,193.6 334.2,176.0 335.6,181.6 337.0,193.6 339.5,193.3 341.9,193.6 344.4,193.2 346.8,193.6 349.6,162.0 351.0,145.2 352.4,176.0 355.2,193.6 358.0,162.0 359.4,134.0 360.8,148.0 362.2,176.0 363.6,162.0 365.0,139.6 366.4,176.0 369.2,193.6 372.0,181.6 374.8,148.0 376.2,136.8 377.6,162.0 380.4,193.6 383.2,162.0 384.6,150.8 386.0,176.0 387.4,193.6 388.8,153.6 390.2,145.2 391.6,128.4 393.0,145.2 394.4,176.0 395.8,193.6 398.6,193.6 401.4,193.6 404.2,176.0 405.6,162.0 407.0,150.8 408.4,176.0 409.8,193.6 411.9,193.6 414.0,193.6 416.8,162.0 418.2,142.4 419.6,148.0 421.0,153.6 422.4,193.6 424.4,193.6 426.5,193.4 428.5,193.6 430.6,193.6 432.6,193.6 434.6,193.6 436.7,193.6 438.7,193.5 440.7,193.6 442.8,193.6 444.8,193.6 447.6,184.4 449.0,148.0 450.4,139.6 453.2,141.0 454.6,159.2" fill="none" stroke="#72e672" stroke-width="1.35" stroke-linejoin="round" stroke-linecap="round" opacity="1.0"/>
<polyline points="51.4,193.5 53.4,193.6 55.4,193.6 57.4,193.5 59.5,193.2 61.5,193.2 63.5,193.6 65.5,193.6 67.5,193.6 69.5,193.5 71.6,193.6 73.6,193.4 75.6,193.6 77.6,193.6 79.6,193.6 81.6,193.6 83.6,193.6 85.7,193.5 87.7,193.6 89.7,193.6 91.7,193.6 93.7,193.6 95.7,193.6 97.8,193.6 99.8,193.6 101.8,193.6 103.8,193.6 105.8,193.6 107.8,193.6 109.8,193.6 111.9,193.6 113.9,193.6 115.9,193.6 117.9,193.6 119.9,193.6 121.9,193.6 124.0,193.6 126.0,193.6 128.0,193.6 130.0,193.6 132.2,193.6 134.4,193.6 136.5,193.6 138.7,193.6 140.9,193.6 143.1,193.6 145.3,193.6 147.5,193.6 149.6,193.6 151.8,193.6 154.0,193.6 156.4,193.6 158.8,193.6 161.2,193.2 163.6,193.2 166.0,192.3 168.4,191.8 170.8,190.6 174.4,189.4 178.0,187.0 181.6,184.6 185.2,181.0 187.6,179.8 190.0,178.6 193.6,175.0 197.2,175.0 199.6,173.6 202.0,173.8 205.6,176.2 208.0,175.3 210.4,173.8 214.0,171.4 217.6,169.0 221.2,165.4 224.8,163.0 228.4,159.4 230.8,152.2 233.2,153.4 235.6,155.8 238.0,164.2 240.4,169.0 242.8,173.8 245.2,171.4 247.6,169.8 250.0,169.0 253.0,166.5 256.0,165.0 259.0,160.5 262.0,162.0 265.0,165.0 268.0,166.5 271.0,165.0 274.0,166.5 277.0,168.0 280.0,169.5 283.0,168.0 285.0,167.9 287.0,169.0 289.0,169.5 291.0,168.3 293.0,167.9 295.0,168.0 297.0,169.7 299.0,170.4 301.0,171.0 303.0,169.5 305.0,170.6 307.0,169.5 309.0,168.0 311.0,168.2 313.0,168.0 315.0,169.3 317.0,169.2 319.0,169.5 321.0,168.6 323.0,168.3 325.0,168.0 327.0,168.3 329.0,168.3 331.0,169.5 331.4,168.2 333.5,171.0 335.6,171.8 338.4,169.5 341.2,169.0 344.0,169.3 346.8,169.8 349.6,168.5 352.4,166.2 355.2,166.7 358.0,167.6 360.8,167.2 363.6,164.8 366.4,165.0 369.2,166.2 372.0,166.2 374.8,164.2 377.6,164.6 380.4,163.4 383.2,164.4 386.0,164.8 388.8,164.2 391.6,162.0 394.4,164.0 397.2,166.2 400.0,168.3 402.8,169.0 405.6,170.3 408.4,170.4 411.2,171.1 414.0,171.8 416.8,172.4 419.6,173.2 422.4,175.0 425.2,176.0 428.0,177.2 430.8,178.8 433.6,177.3 436.4,177.4 439.2,177.9 442.0,177.4 444.8,179.0 447.6,181.6 449.7,183.7 451.8,185.8" fill="none" stroke="#5050d8" stroke-width="1.25" stroke-linejoin="round" stroke-linecap="round" opacity="1.0"/>
<polyline points="51.4,193.5 53.4,193.6 55.4,193.6 57.4,193.6 59.5,193.6 61.5,193.6 63.5,193.6 65.5,193.3 67.5,193.6 69.5,193.6 71.6,193.6 73.6,193.6 75.6,193.4 77.6,193.6 79.6,193.4 81.6,193.6 83.6,193.6 85.7,193.5 87.7,193.5 89.7,193.6 91.7,193.6 93.7,193.6 95.7,193.6 97.8,193.6 99.8,193.6 101.8,193.6 103.8,193.6 105.8,193.6 107.8,193.6 109.8,193.6 111.9,193.6 113.9,193.6 115.9,193.6 117.9,193.6 119.9,193.6 121.9,193.6 124.0,193.6 126.0,193.6 128.0,193.6 130.0,193.6 132.2,193.6 134.4,193.6 136.5,193.6 138.7,193.6 140.9,193.6 143.1,193.6 145.3,193.6 147.5,193.6 149.6,193.6 151.8,193.6 154.0,193.6 156.4,193.6 158.8,193.6 161.2,193.2 163.6,192.9 166.0,193.0 168.4,193.0 170.8,192.2 173.2,191.8 175.6,190.2 178.0,189.4 180.4,188.2 182.8,187.4 185.2,184.9 187.6,184.6 190.6,183.7 193.6,181.0 196.0,178.8 198.4,178.6 202.0,179.8 204.4,180.9 206.8,181.0 209.8,180.5 212.8,178.6 216.4,175.0 218.8,172.2 221.2,171.4 223.6,170.2 226.0,167.8 228.4,164.2 230.8,158.2 234.4,159.4 236.8,164.2 239.2,169.0 242.8,173.8 245.2,175.0 247.6,174.1 250.0,173.8 252.2,170.3 254.5,166.5 257.5,162.0 260.5,160.5 263.5,163.5 265.8,163.3 268.0,165.0 270.3,165.6 272.5,168.0 274.8,166.6 277.0,166.5 279.0,168.4 281.0,167.9 283.0,169.5 285.0,169.5 287.0,169.4 289.0,168.0 291.0,169.9 293.0,169.7 295.0,171.0 297.0,171.2 299.0,172.1 301.0,172.5 303.0,173.1 305.0,171.7 307.0,172.5 309.0,172.5 311.0,172.1 313.0,171.0 315.0,171.7 317.0,170.1 319.0,171.0 321.0,172.4 323.0,171.2 325.0,172.5 327.0,171.7 329.0,171.7 331.0,171.0 331.4,172.1 333.5,173.5 335.6,173.2 338.4,173.6 341.2,174.6 344.0,174.1 346.8,171.8 349.6,170.9 352.4,169.8 355.2,169.8 358.0,170.4 360.8,168.9 363.6,168.2 366.4,167.2 369.2,167.6 372.0,166.5 374.8,167.0 377.6,166.9 380.4,168.2 383.2,168.3 386.0,167.6 388.8,169.3 391.6,169.0 394.4,167.6 397.2,167.6 400.0,168.1 402.8,170.4 405.6,172.8 408.4,173.2 411.2,174.0 414.0,174.6 416.8,175.1 419.6,176.0 422.4,176.9 425.2,178.8 428.0,179.7 430.8,180.2 433.6,181.6 436.4,181.6 439.2,180.1 442.0,178.8 444.8,179.4 447.6,180.2 449.7,183.5 451.8,188.6" fill="none" stroke="#e46c6c" stroke-width="1.25" stroke-linejoin="round" stroke-linecap="round" opacity="1.0"/>
<line x1="57.6" y1="126.5" x2="57.6" y2="131.0" stroke="#8c8c8c" stroke-width="1.1"/>
<line x1="57.6" y1="193.5" x2="57.6" y2="189.0" stroke="#8c8c8c" stroke-width="1.1"/>
<line x1="71.0" y1="126.5" x2="71.0" y2="131.0" stroke="#8c8c8c" stroke-width="1.1"/>
<line x1="71.0" y1="193.5" x2="71.0" y2="189.0" stroke="#8c8c8c" stroke-width="1.1"/>
<line x1="84.4" y1="126.5" x2="84.4" y2="131.0" stroke="#8c8c8c" stroke-width="1.1"/>
<line x1="84.4" y1="193.5" x2="84.4" y2="189.0" stroke="#8c8c8c" stroke-width="1.1"/>
<line x1="97.7" y1="126.5" x2="97.7" y2="131.0" stroke="#8c8c8c" stroke-width="1.1"/>
<line x1="97.7" y1="193.5" x2="97.7" y2="189.0" stroke="#8c8c8c" stroke-width="1.1"/>
<line x1="111.1" y1="126.5" x2="111.1" y2="131.0" stroke="#8c8c8c" stroke-width="1.1"/>
<line x1="111.1" y1="193.5" x2="111.1" y2="189.0" stroke="#8c8c8c" stroke-width="1.1"/>
<line x1="124.5" y1="126.5" x2="124.5" y2="131.0" stroke="#8c8c8c" stroke-width="1.1"/>
<line x1="124.5" y1="193.5" x2="124.5" y2="189.0" stroke="#8c8c8c" stroke-width="1.1"/>
<line x1="137.9" y1="126.5" x2="137.9" y2="131.0" stroke="#8c8c8c" stroke-width="1.1"/>
<line x1="137.9" y1="193.5" x2="137.9" y2="189.0" stroke="#8c8c8c" stroke-width="1.1"/>
<line x1="151.3" y1="126.5" x2="151.3" y2="131.0" stroke="#8c8c8c" stroke-width="1.1"/>
<line x1="151.3" y1="193.5" x2="151.3" y2="189.0" stroke="#8c8c8c" stroke-width="1.1"/>
<line x1="164.6" y1="126.5" x2="164.6" y2="131.0" stroke="#8c8c8c" stroke-width="1.1"/>
<line x1="164.6" y1="193.5" x2="164.6" y2="189.0" stroke="#8c8c8c" stroke-width="1.1"/>
<line x1="178.0" y1="126.5" x2="178.0" y2="131.0" stroke="#8c8c8c" stroke-width="1.1"/>
<line x1="178.0" y1="193.5" x2="178.0" y2="189.0" stroke="#8c8c8c" stroke-width="1.1"/>
<line x1="191.4" y1="126.5" x2="191.4" y2="131.0" stroke="#8c8c8c" stroke-width="1.1"/>
<line x1="191.4" y1="193.5" x2="191.4" y2="189.0" stroke="#8c8c8c" stroke-width="1.1"/>
<line x1="204.8" y1="126.5" x2="204.8" y2="131.0" stroke="#8c8c8c" stroke-width="1.1"/>
<line x1="204.8" y1="193.5" x2="204.8" y2="189.0" stroke="#8c8c8c" stroke-width="1.1"/>
<line x1="218.2" y1="126.5" x2="218.2" y2="131.0" stroke="#8c8c8c" stroke-width="1.1"/>
<line x1="218.2" y1="193.5" x2="218.2" y2="189.0" stroke="#8c8c8c" stroke-width="1.1"/>
<line x1="231.5" y1="126.5" x2="231.5" y2="131.0" stroke="#8c8c8c" stroke-width="1.1"/>
<line x1="231.5" y1="193.5" x2="231.5" y2="189.0" stroke="#8c8c8c" stroke-width="1.1"/>
<line x1="244.9" y1="126.5" x2="244.9" y2="131.0" stroke="#8c8c8c" stroke-width="1.1"/>
<line x1="244.9" y1="193.5" x2="244.9" y2="189.0" stroke="#8c8c8c" stroke-width="1.1"/>
<line x1="258.3" y1="126.5" x2="258.3" y2="131.0" stroke="#8c8c8c" stroke-width="1.1"/>
<line x1="258.3" y1="193.5" x2="258.3" y2="189.0" stroke="#8c8c8c" stroke-width="1.1"/>
<line x1="271.7" y1="126.5" x2="271.7" y2="131.0" stroke="#8c8c8c" stroke-width="1.1"/>
<line x1="271.7" y1="193.5" x2="271.7" y2="189.0" stroke="#8c8c8c" stroke-width="1.1"/>
<line x1="285.1" y1="126.5" x2="285.1" y2="131.0" stroke="#8c8c8c" stroke-width="1.1"/>
<line x1="285.1" y1="193.5" x2="285.1" y2="189.0" stroke="#8c8c8c" stroke-width="1.1"/>
<line x1="298.4" y1="126.5" x2="298.4" y2="131.0" stroke="#8c8c8c" stroke-width="1.1"/>
<line x1="298.4" y1="193.5" x2="298.4" y2="189.0" stroke="#8c8c8c" stroke-width="1.1"/>
<line x1="311.8" y1="126.5" x2="311.8" y2="131.0" stroke="#8c8c8c" stroke-width="1.1"/>
<line x1="311.8" y1="193.5" x2="311.8" y2="189.0" stroke="#8c8c8c" stroke-width="1.1"/>
<line x1="325.2" y1="126.5" x2="325.2" y2="131.0" stroke="#8c8c8c" stroke-width="1.1"/>
<line x1="325.2" y1="193.5" x2="325.2" y2="189.0" stroke="#8c8c8c" stroke-width="1.1"/>
<line x1="338.6" y1="126.5" x2="338.6" y2="131.0" stroke="#8c8c8c" stroke-width="1.1"/>
<line x1="338.6" y1="193.5" x2="338.6" y2="189.0" stroke="#8c8c8c" stroke-width="1.1"/>
<line x1="352.0" y1="126.5" x2="352.0" y2="131.0" stroke="#8c8c8c" stroke-width="1.1"/>
<line x1="352.0" y1="193.5" x2="352.0" y2="189.0" stroke="#8c8c8c" stroke-width="1.1"/>
<line x1="365.3" y1="126.5" x2="365.3" y2="131.0" stroke="#8c8c8c" stroke-width="1.1"/>
<line x1="365.3" y1="193.5" x2="365.3" y2="189.0" stroke="#8c8c8c" stroke-width="1.1"/>
<line x1="378.7" y1="126.5" x2="378.7" y2="131.0" stroke="#8c8c8c" stroke-width="1.1"/>
<line x1="378.7" y1="193.5" x2="378.7" y2="189.0" stroke="#8c8c8c" stroke-width="1.1"/>
<line x1="392.1" y1="126.5" x2="392.1" y2="131.0" stroke="#8c8c8c" stroke-width="1.1"/>
<line x1="392.1" y1="193.5" x2="392.1" y2="189.0" stroke="#8c8c8c" stroke-width="1.1"/>
<line x1="405.5" y1="126.5" x2="405.5" y2="131.0" stroke="#8c8c8c" stroke-width="1.1"/>
<line x1="405.5" y1="193.5" x2="405.5" y2="189.0" stroke="#8c8c8c" stroke-width="1.1"/>
<line x1="418.9" y1="126.5" x2="418.9" y2="131.0" stroke="#8c8c8c" stroke-width="1.1"/>
<line x1="418.9" y1="193.5" x2="418.9" y2="189.0" stroke="#8c8c8c" stroke-width="1.1"/>
<line x1="432.2" y1="126.5" x2="432.2" y2="131.0" stroke="#8c8c8c" stroke-width="1.1"/>
<line x1="432.2" y1="193.5" x2="432.2" y2="189.0" stroke="#8c8c8c" stroke-width="1.1"/>
<line x1="445.6" y1="126.5" x2="445.6" y2="131.0" stroke="#8c8c8c" stroke-width="1.1"/>
<line x1="445.6" y1="193.5" x2="445.6" y2="189.0" stroke="#8c8c8c" stroke-width="1.1"/>
<line x1="51.4" y1="126.5" x2="55.9" y2="126.5" stroke="#8c8c8c" stroke-width="1.1"/>
<line x1="458.4" y1="126.5" x2="453.9" y2="126.5" stroke="#8c8c8c" stroke-width="1.1"/>
<line x1="51.4" y1="148.8" x2="55.9" y2="148.8" stroke="#8c8c8c" stroke-width="1.1"/>
<line x1="458.4" y1="148.8" x2="453.9" y2="148.8" stroke="#8c8c8c" stroke-width="1.1"/>
<line x1="51.4" y1="171.2" x2="55.9" y2="171.2" stroke="#8c8c8c" stroke-width="1.1"/>
<line x1="458.4" y1="171.2" x2="453.9" y2="171.2" stroke="#8c8c8c" stroke-width="1.1"/>
<line x1="51.4" y1="193.5" x2="55.9" y2="193.5" stroke="#8c8c8c" stroke-width="1.1"/>
<line x1="458.4" y1="193.5" x2="453.9" y2="193.5" stroke="#8c8c8c" stroke-width="1.1"/>
<rect x="51.4" y="126.5" width="407.0" height="67.0" fill="none" stroke="#8c8c8c" stroke-width="1.1"/>
<text x="45.3" y="128.7" font-size="10.5" fill="#000" font-weight="bold" text-anchor="end" >60</text>
<text x="45.3" y="151.0" font-size="10.5" fill="#000" font-weight="bold" text-anchor="end" >40</text>
<text x="45.3" y="173.4" font-size="10.5" fill="#000" font-weight="bold" text-anchor="end" >20</text>
<text x="45.3" y="195.7" font-size="10.5" fill="#000" font-weight="bold" text-anchor="end" >0</text>
<text x="56.3" y="166.4" font-size="11" fill="#000" font-weight="bold" >c)</text>
<text x="60.4" y="140.5" font-size="10.5" fill="#000" font-weight="bold" >Ice - Drizzle Concentration (L<tspan dy="-3.5" font-size="6.5">-1</tspan><tspan dy="3.5">)</tspan></text>
<text x="218.1" y="140.5" font-size="10.5" fill="#4545d8" font-weight="bold" textLength="23.5" lengthAdjust="spacingAndGlyphs" >2D-S</text>
<text x="248.3" y="140.5" font-size="10.5" fill="#e45c5c" font-weight="bold" textLength="40.8" lengthAdjust="spacingAndGlyphs" >2D-Gray</text>
<text x="60.4" y="152.7" font-size="10.5" fill="#66e066" font-weight="bold" >FCDP Concentration (cm<tspan dy="-3.5" font-size="6.5">-3</tspan><tspan dy="3.5">)</tspan></text>
<line x1="57.6" y1="205.5" x2="57.6" y2="273.2" stroke="#e6e6e6" stroke-width="0.8"/>
<line x1="71.0" y1="205.5" x2="71.0" y2="273.2" stroke="#e6e6e6" stroke-width="0.8"/>
<line x1="84.4" y1="205.5" x2="84.4" y2="273.2" stroke="#e6e6e6" stroke-width="0.8"/>
<line x1="97.7" y1="205.5" x2="97.7" y2="273.2" stroke="#e6e6e6" stroke-width="0.8"/>
<line x1="111.1" y1="205.5" x2="111.1" y2="273.2" stroke="#e6e6e6" stroke-width="0.8"/>
<line x1="124.5" y1="205.5" x2="124.5" y2="273.2" stroke="#e6e6e6" stroke-width="0.8"/>
<line x1="137.9" y1="205.5" x2="137.9" y2="273.2" stroke="#e6e6e6" stroke-width="0.8"/>
<line x1="151.3" y1="205.5" x2="151.3" y2="273.2" stroke="#e6e6e6" stroke-width="0.8"/>
<line x1="164.6" y1="205.5" x2="164.6" y2="273.2" stroke="#e6e6e6" stroke-width="0.8"/>
<line x1="178.0" y1="205.5" x2="178.0" y2="273.2" stroke="#e6e6e6" stroke-width="0.8"/>
<line x1="191.4" y1="205.5" x2="191.4" y2="273.2" stroke="#e6e6e6" stroke-width="0.8"/>
<line x1="204.8" y1="205.5" x2="204.8" y2="273.2" stroke="#e6e6e6" stroke-width="0.8"/>
<line x1="218.2" y1="205.5" x2="218.2" y2="273.2" stroke="#e6e6e6" stroke-width="0.8"/>
<line x1="231.5" y1="205.5" x2="231.5" y2="273.2" stroke="#e6e6e6" stroke-width="0.8"/>
<line x1="244.9" y1="205.5" x2="244.9" y2="273.2" stroke="#e6e6e6" stroke-width="0.8"/>
<line x1="258.3" y1="205.5" x2="258.3" y2="273.2" stroke="#e6e6e6" stroke-width="0.8"/>
<line x1="271.7" y1="205.5" x2="271.7" y2="273.2" stroke="#e6e6e6" stroke-width="0.8"/>
<line x1="285.1" y1="205.5" x2="285.1" y2="273.2" stroke="#e6e6e6" stroke-width="0.8"/>
<line x1="298.4" y1="205.5" x2="298.4" y2="273.2" stroke="#e6e6e6" stroke-width="0.8"/>
<line x1="311.8" y1="205.5" x2="311.8" y2="273.2" stroke="#e6e6e6" stroke-width="0.8"/>
<line x1="325.2" y1="205.5" x2="325.2" y2="273.2" stroke="#e6e6e6" stroke-width="0.8"/>
<line x1="338.6" y1="205.5" x2="338.6" y2="273.2" stroke="#e6e6e6" stroke-width="0.8"/>
<line x1="352.0" y1="205.5" x2="352.0" y2="273.2" stroke="#e6e6e6" stroke-width="0.8"/>
<line x1="365.3" y1="205.5" x2="365.3" y2="273.2" stroke="#e6e6e6" stroke-width="0.8"/>
<line x1="378.7" y1="205.5" x2="378.7" y2="273.2" stroke="#e6e6e6" stroke-width="0.8"/>
<line x1="392.1" y1="205.5" x2="392.1" y2="273.2" stroke="#e6e6e6" stroke-width="0.8"/>
<line x1="405.5" y1="205.5" x2="405.5" y2="273.2" stroke="#e6e6e6" stroke-width="0.8"/>
<line x1="418.9" y1="205.5" x2="418.9" y2="273.2" stroke="#e6e6e6" stroke-width="0.8"/>
<line x1="432.2" y1="205.5" x2="432.2" y2="273.2" stroke="#e6e6e6" stroke-width="0.8"/>
<line x1="445.6" y1="205.5" x2="445.6" y2="273.2" stroke="#e6e6e6" stroke-width="0.8"/>
<line x1="51.4" y1="228.0" x2="458.4" y2="228.0" stroke="#e6e6e6" stroke-width="0.8"/>
<line x1="51.4" y1="250.6" x2="458.4" y2="250.6" stroke="#e6e6e6" stroke-width="0.8"/>
<polyline points="50.9,272.9 53.0,272.7 55.2,272.6 57.3,273.1 59.5,272.5 61.6,272.9 63.7,272.8 65.9,272.5 68.0,272.9 70.3,270.2 72.5,267.5 75.0,267.3 77.5,268.0 80.0,268.4 82.1,267.8 84.3,267.7 86.4,267.9 88.6,268.2 90.7,267.4 92.9,267.4 95.0,267.5 97.0,267.5 99.0,267.7 101.0,267.1 103.0,266.8 105.0,267.2 107.0,266.6 110.0,270.5 113.0,266.0 116.0,272.0 119.0,266.6 122.0,270.5 125.0,267.5 126.5,272.6 128.8,272.2 131.0,272.6 134.0,266.0 136.0,266.2 138.0,265.4 140.0,265.4 142.3,264.8 144.5,264.6 146.8,264.5 149.0,264.5 151.3,264.4 153.5,263.4 155.8,263.5 158.0,263.0 160.0,262.9 162.0,262.5 164.0,262.4 166.4,260.0 167.6,245.0 168.8,261.5 171.2,261.6 173.6,261.1 176.0,261.5 179.0,257.0 182.0,258.5 184.0,258.1 186.0,258.2 188.0,258.5 191.0,255.5 194.8,251.0 196.1,236.6 197.2,255.8 198.8,257.4 201.2,251.0 202.5,226.2 203.6,254.2 205.2,258.2 207.6,257.4 210.0,250.2 211.6,255.8 213.2,254.2 214.8,241.4 216.4,239.8 218.0,249.4 219.6,244.6 221.2,246.2 222.8,254.2 224.4,241.4 226.0,251.0 227.6,258.2 229.2,228.6 230.8,235.0 232.4,243.0 234.0,241.4 236.4,228.6 238.0,239.8 239.6,217.4 241.2,239.8 242.8,244.6 244.4,235.0 246.0,230.2 247.6,251.0 249.2,241.4 250.8,231.8 253.2,251.0 254.8,227.0 257.2,215.8 258.8,223.8 260.4,255.8 262.0,246.2 263.6,254.2 265.2,243.0 266.8,247.8 268.4,244.6 270.0,241.4 270.6,243.0 272.2,246.2 273.8,249.4 275.4,252.6 277.0,246.2 278.6,251.0 280.2,243.0 281.8,246.2 283.4,228.6 285.0,220.6 286.6,243.0 288.2,251.0 289.8,238.2 291.4,228.6 293.0,235.0 294.6,251.0 296.2,238.2 298.6,251.0 300.2,239.8 301.8,231.8 304.2,225.4 305.8,231.8 308.2,235.0 310.6,231.8 313.0,235.0 314.6,217.4 316.2,230.2 317.8,244.6 319.4,235.0 321.0,227.0 322.6,239.8 324.2,233.4 325.8,235.0 327.4,239.8 329.8,247.8 331.4,223.8 333.0,206.2 334.6,223.8 336.2,246.2 337.8,252.6 339.4,235.0 341.0,251.0 342.6,228.6 345.0,231.8 346.4,249.4 348.0,235.0 349.6,239.8 351.2,235.0 352.8,230.2 354.4,241.4 356.0,249.4 357.6,243.0 359.2,236.6 360.8,251.0 363.2,239.8 365.6,247.8 368.0,241.4 370.4,247.8 372.8,235.0 374.4,247.8 376.0,235.0 377.6,251.0 379.2,243.0 380.8,254.2 382.4,247.8 384.0,251.0 386.4,241.4 388.0,238.2 389.6,251.0 391.2,247.8 393.6,236.6 395.2,244.6 396.8,257.4 399.2,251.0 401.6,241.4 403.2,247.8 404.8,238.2 406.4,238.2 408.0,233.4 410.4,230.2 412.8,214.2 414.4,231.8 416.0,222.2 417.6,239.8 419.2,231.8 420.0,235.0 421.0,253.4 422.4,233.8 423.8,240.8 425.2,235.2 426.6,238.0 428.0,239.4 429.4,247.8 430.8,236.6 432.2,232.4 433.6,238.0 435.0,231.0 436.4,236.6 437.8,228.2 439.2,235.2 440.6,232.4 442.0,219.8 444.1,233.8 445.5,242.2 446.9,235.2 448.3,239.4 449.7,232.4 451.8,245.0" fill="none" stroke="#e46c6c" stroke-width="1.25" stroke-linejoin="round" stroke-linecap="round" opacity="1.0"/>
<polyline points="50.9,273.5 53.0,273.2 55.2,273.2 57.3,273.1 59.5,273.2 61.6,273.1 63.7,273.2 65.9,273.2 68.0,273.2 70.3,270.5 72.5,268.1 75.0,268.5 77.5,268.7 80.0,269.0 82.1,268.8 84.3,268.7 86.4,268.3 88.6,268.8 90.7,268.0 92.9,268.0 95.0,268.1 97.0,267.5 99.0,267.6 101.0,267.6 103.0,267.9 105.0,267.2 107.0,267.2 110.0,272.0 111.5,264.5 113.6,272.0 116.6,264.5 119.6,272.0 122.6,265.4 125.6,272.0 127.4,272.6 131.0,272.0 134.0,266.6 136.0,266.0 138.0,266.0 140.0,266.0 142.3,266.3 144.5,265.1 146.8,265.5 149.0,265.1 151.3,264.6 153.5,264.5 155.8,263.8 158.0,263.6 160.0,263.6 162.0,263.2 164.0,263.0 167.0,261.5 169.3,261.8 171.5,262.2 173.8,262.0 176.0,262.1 179.0,258.5 182.0,259.4 184.0,258.9 186.0,258.8 188.0,259.1 191.0,257.0 193.7,258.0 196.4,258.2 199.6,258.2 202.8,259.0 204.4,254.2 206.0,260.6 209.2,259.0 212.4,258.2 214.0,251.0 215.6,254.2 217.2,249.4 218.8,241.4 220.1,238.2 221.2,259.0 223.6,247.8 226.0,239.8 228.4,236.6 230.0,223.8 231.6,231.8 233.2,238.2 234.8,235.0 236.4,228.6 238.0,236.6 240.4,251.0 242.8,246.2 245.2,235.0 247.6,228.6 249.2,236.6 250.8,247.8 252.7,255.8 254.0,214.2 255.6,235.0 257.2,251.0 258.5,206.2 259.6,235.0 261.2,249.4 262.8,239.8 264.4,220.6 266.0,239.8 267.6,244.6 269.2,238.2 270.0,236.6 270.6,206.2 272.2,231.8 273.8,243.0 274.9,215.8 276.2,243.0 277.8,251.0 279.1,215.8 280.2,254.2 282.6,255.8 285.0,254.2 287.4,244.6 289.0,254.2 290.6,238.2 292.2,230.2 293.5,206.2 294.6,227.0 295.7,206.2 297.0,230.2 298.6,206.2 299.9,235.0 301.8,231.8 304.2,222.2 305.8,235.0 307.4,238.2 308.5,206.2 309.8,235.0 311.4,206.2 313.0,235.0 315.4,231.8 317.0,222.2 318.6,235.0 320.2,239.8 321.8,227.0 323.4,241.4 325.0,225.4 327.4,243.0 329.0,222.2 330.6,239.8 332.2,235.0 333.8,228.6 335.4,243.0 337.8,231.8 340.2,243.0 342.6,241.4 345.0,243.0 347.2,239.8 348.8,235.0 350.4,249.4 352.0,241.4 353.6,231.8 354.7,219.0 356.0,230.2 357.6,243.0 360.0,230.2 361.6,239.8 363.2,241.4 365.6,239.8 368.0,241.4 370.4,238.2 371.7,206.2 372.8,247.8 374.4,244.6 376.8,244.6 379.2,244.6 380.8,241.4 382.4,225.4 384.0,244.6 385.6,246.2 388.0,244.6 390.4,249.4 392.8,251.0 395.2,249.4 397.6,252.6 400.0,239.8 402.4,219.0 404.0,235.0 405.6,255.8 408.0,222.2 409.6,235.0 411.2,219.0 413.6,227.0 415.2,217.4 416.8,230.2 419.2,225.4 420.0,233.4 421.0,225.4 422.4,235.2 423.8,236.6 425.2,228.2 426.6,215.6 428.0,225.4 429.4,233.8 430.8,228.2 432.9,217.0 434.3,224.0 435.7,218.4 437.1,222.6 438.5,219.8 440.6,222.6 442.7,221.2 444.1,226.8 445.5,218.4 446.9,222.6 448.3,221.2 449.7,226.8 451.1,228.2 452.1,236.6" fill="none" stroke="#5050d8" stroke-width="1.25" stroke-linejoin="round" stroke-linecap="round" opacity="1.0"/>
<polyline points="452.0,227.6 455.5,227.8" fill="none" stroke="#603060" stroke-width="1.3" stroke-linejoin="round" stroke-linecap="round" opacity="1.0"/>
<line x1="57.6" y1="205.5" x2="57.6" y2="210.0" stroke="#8c8c8c" stroke-width="1.1"/>
<line x1="57.6" y1="273.2" x2="57.6" y2="268.7" stroke="#8c8c8c" stroke-width="1.1"/>
<line x1="71.0" y1="205.5" x2="71.0" y2="210.0" stroke="#8c8c8c" stroke-width="1.1"/>
<line x1="71.0" y1="273.2" x2="71.0" y2="268.7" stroke="#8c8c8c" stroke-width="1.1"/>
<line x1="84.4" y1="205.5" x2="84.4" y2="210.0" stroke="#8c8c8c" stroke-width="1.1"/>
<line x1="84.4" y1="273.2" x2="84.4" y2="268.7" stroke="#8c8c8c" stroke-width="1.1"/>
<line x1="97.7" y1="205.5" x2="97.7" y2="210.0" stroke="#8c8c8c" stroke-width="1.1"/>
<line x1="97.7" y1="273.2" x2="97.7" y2="268.7" stroke="#8c8c8c" stroke-width="1.1"/>
<line x1="111.1" y1="205.5" x2="111.1" y2="210.0" stroke="#8c8c8c" stroke-width="1.1"/>
<line x1="111.1" y1="273.2" x2="111.1" y2="268.7" stroke="#8c8c8c" stroke-width="1.1"/>
<line x1="124.5" y1="205.5" x2="124.5" y2="210.0" stroke="#8c8c8c" stroke-width="1.1"/>
<line x1="124.5" y1="273.2" x2="124.5" y2="268.7" stroke="#8c8c8c" stroke-width="1.1"/>
<line x1="137.9" y1="205.5" x2="137.9" y2="210.0" stroke="#8c8c8c" stroke-width="1.1"/>
<line x1="137.9" y1="273.2" x2="137.9" y2="268.7" stroke="#8c8c8c" stroke-width="1.1"/>
<line x1="151.3" y1="205.5" x2="151.3" y2="210.0" stroke="#8c8c8c" stroke-width="1.1"/>
<line x1="151.3" y1="273.2" x2="151.3" y2="268.7" stroke="#8c8c8c" stroke-width="1.1"/>
<line x1="164.6" y1="205.5" x2="164.6" y2="210.0" stroke="#8c8c8c" stroke-width="1.1"/>
<line x1="164.6" y1="273.2" x2="164.6" y2="268.7" stroke="#8c8c8c" stroke-width="1.1"/>
<line x1="178.0" y1="205.5" x2="178.0" y2="210.0" stroke="#8c8c8c" stroke-width="1.1"/>
<line x1="178.0" y1="273.2" x2="178.0" y2="268.7" stroke="#8c8c8c" stroke-width="1.1"/>
<line x1="191.4" y1="205.5" x2="191.4" y2="210.0" stroke="#8c8c8c" stroke-width="1.1"/>
<line x1="191.4" y1="273.2" x2="191.4" y2="268.7" stroke="#8c8c8c" stroke-width="1.1"/>
<line x1="204.8" y1="205.5" x2="204.8" y2="210.0" stroke="#8c8c8c" stroke-width="1.1"/>
<line x1="204.8" y1="273.2" x2="204.8" y2="268.7" stroke="#8c8c8c" stroke-width="1.1"/>
<line x1="218.2" y1="205.5" x2="218.2" y2="210.0" stroke="#8c8c8c" stroke-width="1.1"/>
<line x1="218.2" y1="273.2" x2="218.2" y2="268.7" stroke="#8c8c8c" stroke-width="1.1"/>
<line x1="231.5" y1="205.5" x2="231.5" y2="210.0" stroke="#8c8c8c" stroke-width="1.1"/>
<line x1="231.5" y1="273.2" x2="231.5" y2="268.7" stroke="#8c8c8c" stroke-width="1.1"/>
<line x1="244.9" y1="205.5" x2="244.9" y2="210.0" stroke="#8c8c8c" stroke-width="1.1"/>
<line x1="244.9" y1="273.2" x2="244.9" y2="268.7" stroke="#8c8c8c" stroke-width="1.1"/>
<line x1="258.3" y1="205.5" x2="258.3" y2="210.0" stroke="#8c8c8c" stroke-width="1.1"/>
<line x1="258.3" y1="273.2" x2="258.3" y2="268.7" stroke="#8c8c8c" stroke-width="1.1"/>
<line x1="271.7" y1="205.5" x2="271.7" y2="210.0" stroke="#8c8c8c" stroke-width="1.1"/>
<line x1="271.7" y1="273.2" x2="271.7" y2="268.7" stroke="#8c8c8c" stroke-width="1.1"/>
<line x1="285.1" y1="205.5" x2="285.1" y2="210.0" stroke="#8c8c8c" stroke-width="1.1"/>
<line x1="285.1" y1="273.2" x2="285.1" y2="268.7" stroke="#8c8c8c" stroke-width="1.1"/>
<line x1="298.4" y1="205.5" x2="298.4" y2="210.0" stroke="#8c8c8c" stroke-width="1.1"/>
<line x1="298.4" y1="273.2" x2="298.4" y2="268.7" stroke="#8c8c8c" stroke-width="1.1"/>
<line x1="311.8" y1="205.5" x2="311.8" y2="210.0" stroke="#8c8c8c" stroke-width="1.1"/>
<line x1="311.8" y1="273.2" x2="311.8" y2="268.7" stroke="#8c8c8c" stroke-width="1.1"/>
<line x1="325.2" y1="205.5" x2="325.2" y2="210.0" stroke="#8c8c8c" stroke-width="1.1"/>
<line x1="325.2" y1="273.2" x2="325.2" y2="268.7" stroke="#8c8c8c" stroke-width="1.1"/>
<line x1="338.6" y1="205.5" x2="338.6" y2="210.0" stroke="#8c8c8c" stroke-width="1.1"/>
<line x1="338.6" y1="273.2" x2="338.6" y2="268.7" stroke="#8c8c8c" stroke-width="1.1"/>
<line x1="352.0" y1="205.5" x2="352.0" y2="210.0" stroke="#8c8c8c" stroke-width="1.1"/>
<line x1="352.0" y1="273.2" x2="352.0" y2="268.7" stroke="#8c8c8c" stroke-width="1.1"/>
<line x1="365.3" y1="205.5" x2="365.3" y2="210.0" stroke="#8c8c8c" stroke-width="1.1"/>
<line x1="365.3" y1="273.2" x2="365.3" y2="268.7" stroke="#8c8c8c" stroke-width="1.1"/>
<line x1="378.7" y1="205.5" x2="378.7" y2="210.0" stroke="#8c8c8c" stroke-width="1.1"/>
<line x1="378.7" y1="273.2" x2="378.7" y2="268.7" stroke="#8c8c8c" stroke-width="1.1"/>
<line x1="392.1" y1="205.5" x2="392.1" y2="210.0" stroke="#8c8c8c" stroke-width="1.1"/>
<line x1="392.1" y1="273.2" x2="392.1" y2="268.7" stroke="#8c8c8c" stroke-width="1.1"/>
<line x1="405.5" y1="205.5" x2="405.5" y2="210.0" stroke="#8c8c8c" stroke-width="1.1"/>
<line x1="405.5" y1="273.2" x2="405.5" y2="268.7" stroke="#8c8c8c" stroke-width="1.1"/>
<line x1="418.9" y1="205.5" x2="418.9" y2="210.0" stroke="#8c8c8c" stroke-width="1.1"/>
<line x1="418.9" y1="273.2" x2="418.9" y2="268.7" stroke="#8c8c8c" stroke-width="1.1"/>
<line x1="432.2" y1="205.5" x2="432.2" y2="210.0" stroke="#8c8c8c" stroke-width="1.1"/>
<line x1="432.2" y1="273.2" x2="432.2" y2="268.7" stroke="#8c8c8c" stroke-width="1.1"/>
<line x1="445.6" y1="205.5" x2="445.6" y2="210.0" stroke="#8c8c8c" stroke-width="1.1"/>
<line x1="445.6" y1="273.2" x2="445.6" y2="268.7" stroke="#8c8c8c" stroke-width="1.1"/>
<line x1="51.4" y1="205.5" x2="55.9" y2="205.5" stroke="#8c8c8c" stroke-width="1.1"/>
<line x1="458.4" y1="205.5" x2="453.9" y2="205.5" stroke="#8c8c8c" stroke-width="1.1"/>
<line x1="51.4" y1="228.0" x2="55.9" y2="228.0" stroke="#8c8c8c" stroke-width="1.1"/>
<line x1="458.4" y1="228.0" x2="453.9" y2="228.0" stroke="#8c8c8c" stroke-width="1.1"/>
<line x1="51.4" y1="250.6" x2="55.9" y2="250.6" stroke="#8c8c8c" stroke-width="1.1"/>
<line x1="458.4" y1="250.6" x2="453.9" y2="250.6" stroke="#8c8c8c" stroke-width="1.1"/>
<line x1="51.4" y1="273.2" x2="55.9" y2="273.2" stroke="#8c8c8c" stroke-width="1.1"/>
<line x1="458.4" y1="273.2" x2="453.9" y2="273.2" stroke="#8c8c8c" stroke-width="1.1"/>
<rect x="51.4" y="205.5" width="407.0" height="67.7" fill="none" stroke="#8c8c8c" stroke-width="1.1"/>
<text x="45.3" y="207.7" font-size="10.5" fill="#000" font-weight="bold" text-anchor="end" >1500</text>
<text x="45.3" y="230.2" font-size="10.5" fill="#000" font-weight="bold" text-anchor="end" >1000</text>
<text x="45.3" y="252.8" font-size="10.5" fill="#000" font-weight="bold" text-anchor="end" >500</text>
<text x="45.3" y="275.4" font-size="10.5" fill="#000" font-weight="bold" text-anchor="end" >0</text>
<text x="56.5" y="246.4" font-size="11" fill="#000" font-weight="bold" >d)</text>
<text x="60.4" y="224.5" font-size="11" fill="#000" font-weight="bold" >D<tspan font-size="10.2" dy="2.2">max</tspan><tspan dy="-2.2"> (μm)</tspan></text>
<text x="122.5" y="224.5" font-size="10.5" fill="#4545d8" font-weight="bold" textLength="23.1" lengthAdjust="spacingAndGlyphs" >2D-S</text>
<text x="151.6" y="224.5" font-size="10.5" fill="#e45c5c" font-weight="bold" textLength="40.8" lengthAdjust="spacingAndGlyphs" >2D-Gray</text>
<line x1="57.6" y1="282.3" x2="57.6" y2="428.2" stroke="#e6e6e6" stroke-width="0.8"/>
<line x1="71.0" y1="282.3" x2="71.0" y2="428.2" stroke="#e6e6e6" stroke-width="0.8"/>
<line x1="84.4" y1="282.3" x2="84.4" y2="428.2" stroke="#e6e6e6" stroke-width="0.8"/>
<line x1="97.7" y1="282.3" x2="97.7" y2="428.2" stroke="#e6e6e6" stroke-width="0.8"/>
<line x1="111.1" y1="282.3" x2="111.1" y2="428.2" stroke="#e6e6e6" stroke-width="0.8"/>
<line x1="124.5" y1="282.3" x2="124.5" y2="428.2" stroke="#e6e6e6" stroke-width="0.8"/>
<line x1="137.9" y1="282.3" x2="137.9" y2="428.2" stroke="#e6e6e6" stroke-width="0.8"/>
<line x1="151.3" y1="282.3" x2="151.3" y2="428.2" stroke="#e6e6e6" stroke-width="0.8"/>
<line x1="164.6" y1="282.3" x2="164.6" y2="428.2" stroke="#e6e6e6" stroke-width="0.8"/>
<line x1="178.0" y1="282.3" x2="178.0" y2="428.2" stroke="#e6e6e6" stroke-width="0.8"/>
<line x1="191.4" y1="282.3" x2="191.4" y2="428.2" stroke="#e6e6e6" stroke-width="0.8"/>
<line x1="204.8" y1="282.3" x2="204.8" y2="428.2" stroke="#e6e6e6" stroke-width="0.8"/>
<line x1="218.2" y1="282.3" x2="218.2" y2="428.2" stroke="#e6e6e6" stroke-width="0.8"/>
<line x1="231.5" y1="282.3" x2="231.5" y2="428.2" stroke="#e6e6e6" stroke-width="0.8"/>
<line x1="244.9" y1="282.3" x2="244.9" y2="428.2" stroke="#e6e6e6" stroke-width="0.8"/>
<line x1="258.3" y1="282.3" x2="258.3" y2="428.2" stroke="#e6e6e6" stroke-width="0.8"/>
<line x1="271.7" y1="282.3" x2="271.7" y2="428.2" stroke="#e6e6e6" stroke-width="0.8"/>
<line x1="285.1" y1="282.3" x2="285.1" y2="428.2" stroke="#e6e6e6" stroke-width="0.8"/>
<line x1="298.4" y1="282.3" x2="298.4" y2="428.2" stroke="#e6e6e6" stroke-width="0.8"/>
<line x1="311.8" y1="282.3" x2="311.8" y2="428.2" stroke="#e6e6e6" stroke-width="0.8"/>
<line x1="325.2" y1="282.3" x2="325.2" y2="428.2" stroke="#e6e6e6" stroke-width="0.8"/>
<line x1="338.6" y1="282.3" x2="338.6" y2="428.2" stroke="#e6e6e6" stroke-width="0.8"/>
<line x1="352.0" y1="282.3" x2="352.0" y2="428.2" stroke="#e6e6e6" stroke-width="0.8"/>
<line x1="365.3" y1="282.3" x2="365.3" y2="428.2" stroke="#e6e6e6" stroke-width="0.8"/>
<line x1="378.7" y1="282.3" x2="378.7" y2="428.2" stroke="#e6e6e6" stroke-width="0.8"/>
<line x1="392.1" y1="282.3" x2="392.1" y2="428.2" stroke="#e6e6e6" stroke-width="0.8"/>
<line x1="405.5" y1="282.3" x2="405.5" y2="428.2" stroke="#e6e6e6" stroke-width="0.8"/>
<line x1="418.9" y1="282.3" x2="418.9" y2="428.2" stroke="#e6e6e6" stroke-width="0.8"/>
<line x1="432.2" y1="282.3" x2="432.2" y2="428.2" stroke="#e6e6e6" stroke-width="0.8"/>
<line x1="445.6" y1="282.3" x2="445.6" y2="428.2" stroke="#e6e6e6" stroke-width="0.8"/>
<line x1="51.4" y1="292.5" x2="458.4" y2="292.5" stroke="#e6e6e6" stroke-width="0.8"/>
<line x1="51.4" y1="308.3" x2="458.4" y2="308.3" stroke="#e6e6e6" stroke-width="0.8"/>
<line x1="51.4" y1="324.1" x2="458.4" y2="324.1" stroke="#e6e6e6" stroke-width="0.8"/>
<line x1="51.4" y1="339.8" x2="458.4" y2="339.8" stroke="#e6e6e6" stroke-width="0.8"/>
<line x1="51.4" y1="355.6" x2="458.4" y2="355.6" stroke="#e6e6e6" stroke-width="0.8"/>
<line x1="51.4" y1="371.4" x2="458.4" y2="371.4" stroke="#e6e6e6" stroke-width="0.8"/>
<line x1="51.4" y1="387.1" x2="458.4" y2="387.1" stroke="#e6e6e6" stroke-width="0.8"/>
<line x1="51.4" y1="402.9" x2="458.4" y2="402.9" stroke="#e6e6e6" stroke-width="0.8"/>
<line x1="51.4" y1="418.7" x2="458.4" y2="418.7" stroke="#e6e6e6" stroke-width="0.8"/>
<rect x="51.4" y="386.2" width="133" height="42" fill="#fff"/>
<line x1="124.5" y1="413" x2="124.5" y2="428" stroke="#e6e6e6" stroke-width="0.8"/>
<line x1="137.9" y1="413" x2="137.9" y2="428" stroke="#e6e6e6" stroke-width="0.8"/>
<line x1="151.3" y1="413" x2="151.3" y2="428" stroke="#e6e6e6" stroke-width="0.8"/>
<line x1="164.6" y1="413" x2="164.6" y2="428" stroke="#e6e6e6" stroke-width="0.8"/>
<line x1="178.0" y1="413" x2="178.0" y2="428" stroke="#e6e6e6" stroke-width="0.8"/>
<line x1="117" y1="419.8" x2="184.4" y2="419.8" stroke="#e6e6e6" stroke-width="0.8"/>
<defs>
<filter id="blur3" x="-20%" y="-20%" width="140%" height="140%"><feGaussianBlur stdDeviation="3"/></filter>
<mask id="bandmask"><rect x="0" y="0" width="500" height="701" fill="#fff"/><polygon points="51.0,299.3 54.0,300.2 57.0,301.2 60.0,302.2 63.0,303.2 66.0,304.2 69.0,305.3 72.0,306.3 75.0,307.3 78.0,308.3 81.0,309.3 84.0,310.3 87.0,311.4 90.0,312.4 93.0,313.4 96.0,314.4 99.0,315.4 102.0,316.4 105.0,317.5 108.0,318.5 111.0,319.5 114.0,320.5 117.0,321.5 120.0,322.5 123.0,323.6 126.0,325.0 129.0,326.5 132.0,328.0 135.0,329.5 138.0,330.7 141.0,331.9 144.0,333.1 147.0,334.5 150.0,335.9 153.0,337.3 156.0,338.8 159.0,340.2 162.0,341.7 165.0,343.1 168.0,344.5 171.0,346.0 174.0,347.4 177.0,348.9 180.0,350.3 183.0,351.7 186.0,353.2 189.0,354.6 192.0,356.1 195.0,357.5 198.0,358.9 201.0,360.4 204.0,361.8 207.0,363.3 210.0,364.7 213.0,366.1 216.0,367.6 219.0,369.3 222.0,370.9 225.0,372.6 228.0,374.2 231.0,375.8 234.0,377.3 237.0,378.8 240.0,380.3 243.0,381.7 246.0,383.2 249.0,384.7 252.0,386.2 255.0,387.5 258.0,388.9 261.0,390.3 264.0,391.7 267.0,393.1 270.0,394.5 273.0,395.9 276.0,397.4 279.0,398.8 282.0,400.3 285.0,401.8 288.0,403.2 291.0,404.7 294.0,406.2 297.0,407.6 300.0,408.5 303.0,409.0 306.0,409.4 309.0,409.9 312.0,410.3 315.0,410.7 318.0,411.2 321.0,411.6 324.0,412.1 327.0,411.4 330.0,410.7 333.0,410.5 336.0,410.5 339.0,410.4 342.0,410.4 345.0,410.4 348.0,410.3 351.0,410.3 354.0,410.3 357.0,410.3 360.0,410.2 363.0,410.2 366.0,410.2 369.0,410.1 372.0,410.1 375.0,410.1 378.0,410.1 381.0,410.0 384.0,410.0 387.0,410.0 390.0,410.0 393.0,409.9 396.0,409.9 399.0,409.9 402.0,409.8 405.0,409.8 408.0,409.8 411.0,409.8 414.0,409.7 417.0,409.7 420.0,410.1 423.0,410.7 426.0,411.3 429.0,412.6 432.0,411.8 432.0,430.0 431.0,430.0 428.0,430.0 425.0,430.0 422.0,430.0 419.0,430.0 416.0,430.0 413.0,430.0 410.0,430.0 407.0,430.0 404.0,430.0 401.0,430.0 398.0,430.0 395.0,430.0 392.0,430.0 389.0,430.0 386.0,430.0 383.0,430.0 380.0,430.0 377.0,430.0 374.0,430.0 371.0,430.0 368.0,430.0 365.0,430.0 362.0,430.0 359.0,430.0 356.0,430.0 353.0,430.0 350.0,430.0 347.0,430.0 344.0,430.0 341.0,430.0 338.0,430.0 335.0,430.0 332.0,430.0 329.0,430.0 326.0,430.0 323.0,430.0 320.0,430.0 317.0,430.0 314.0,430.0 311.0,430.0 308.0,430.0 305.0,430.0 302.0,430.0 299.0,430.0 296.0,430.0 293.0,430.0 290.0,426.5 287.0,425.0 284.0,423.6 281.0,422.1 278.0,420.6 275.0,419.2 272.0,417.7 269.0,416.3 266.0,414.9 263.0,413.5 260.0,412.2 257.0,410.8 254.0,409.4 251.0,408.0 248.0,406.5 245.0,405.0 242.0,403.5 239.0,402.1 236.0,400.6 233.0,399.1 230.0,397.6 227.0,396.0 224.0,394.3 221.0,392.7 218.0,391.0 215.0,389.4 212.0,388.0 209.0,386.5 206.0,385.1 203.0,383.6 200.0,382.2 197.0,380.8 194.0,379.3 191.0,377.9 188.0,376.4 185.0,375.0 182.0,373.6 179.0,372.1 176.0,370.7 173.0,369.2 170.0,367.8 167.0,366.4 164.0,364.9 161.0,363.5 158.0,362.0 155.0,360.6 152.0,359.2 149.0,357.7 146.0,356.3 143.0,355.0 140.0,353.8 137.0,352.6 134.0,351.3 131.0,349.8 128.0,348.3 125.0,346.8 122.0,345.5 119.0,344.5 116.0,343.5 113.0,342.5 110.0,341.5 107.0,340.4 104.0,339.4 101.0,338.4 98.0,337.4 95.0,336.4 92.0,335.4 89.0,334.3 86.0,333.3 83.0,332.3 80.0,331.3 77.0,330.3 74.0,329.3 71.0,328.2 68.0,327.2 65.0,326.2 62.0,325.2 59.0,324.2 56.0,323.2 53.0,322.1" fill="#000"/><rect x="431.2" y="282" width="40" height="150" fill="#000"/><rect x="51" y="386.2" width="133.4" height="45" fill="#000"/></mask>
<clipPath id="echoclip"><polygon points="157.0,305.3 157.8,308.6 158.6,304.0 159.4,305.3 160.2,310.4 161.0,309.8 161.8,310.0 162.6,306.4 163.4,305.4 164.2,310.6 165.0,310.5 165.8,311.6 166.6,311.8 167.4,310.4 168.2,305.6 169.0,304.8 169.8,311.3 170.6,310.4 171.4,307.1 172.2,311.6 173.0,305.0 173.8,311.4 174.6,310.7 175.4,312.7 176.2,312.7 177.0,312.8 177.8,312.2 178.6,313.7 179.4,312.4 180.2,313.8 181.0,313.2 181.8,313.9 182.6,310.5 183.4,310.2 184.2,314.2 185.0,311.5 185.8,311.2 186.6,314.8 187.4,312.2 188.2,309.3 189.0,315.3 189.8,314.6 190.6,313.7 191.4,309.2 192.2,313.5 193.0,313.3 193.8,308.8 194.6,313.4 195.4,313.3 196.2,313.5 197.0,309.3 197.8,312.6 198.6,312.8 199.4,312.4 200.2,308.5 201.0,310.0 201.8,309.6 202.6,310.6 203.4,309.7 204.2,309.8 205.0,310.4 205.8,305.0 206.6,310.6 207.4,307.0 208.2,306.0 209.0,309.5 209.8,310.8 210.6,311.4 211.4,308.1 212.2,307.7 213.0,311.7 213.8,312.8 214.6,312.1 215.4,313.9 216.2,308.7 217.0,314.2 217.8,314.2 218.6,315.0 219.4,316.1 220.2,315.5 221.0,317.5 221.8,318.8 222.6,317.6 223.4,319.8 224.2,320.9 225.0,320.3 225.8,322.0 226.6,322.6 227.4,322.5 228.2,323.8 229.0,325.0 229.8,321.1 230.6,322.5 231.4,326.9 232.2,327.3 233.0,326.4 233.8,326.8 234.6,326.5 235.4,325.0 236.2,323.4 237.0,324.5 237.8,328.0 238.6,329.5 239.4,328.2 240.2,323.4 241.0,330.3 241.8,329.4 242.6,328.6 243.4,329.7 244.2,329.2 245.0,328.9 245.8,329.7 246.6,329.6 247.4,323.2 248.2,328.8 249.0,329.3 249.8,325.2 250.6,327.9 251.4,328.3 252.2,327.4 253.0,328.9 253.8,323.0 254.6,329.0 255.4,325.3 256.2,328.7 257.0,327.3 257.8,328.9 258.6,327.2 259.4,327.9 260.2,327.8 261.0,328.1 261.8,326.5 262.6,327.4 263.4,325.6 264.2,320.3 265.0,324.1 265.8,320.4 266.6,323.8 267.4,323.5 268.2,319.4 269.0,321.8 269.8,318.6 270.6,321.1 271.4,321.9 272.2,321.6 273.0,315.1 273.8,320.8 274.6,320.0 275.4,320.8 276.2,316.3 277.0,319.7 277.8,321.1 278.6,319.9 279.4,320.4 280.2,320.8 281.0,321.0 281.8,320.7 282.6,321.9 283.4,321.3 284.2,321.2 285.0,322.7 285.8,323.8 286.6,320.6 287.4,318.0 288.2,324.8 289.0,318.6 289.8,324.2 290.6,326.2 291.4,320.5 292.2,322.3 293.0,327.0 293.8,326.7 294.6,326.8 295.4,327.8 296.2,326.9 297.0,327.6 297.8,327.0 298.6,328.3 299.4,322.2 300.2,327.6 301.0,326.9 301.8,327.2 302.6,327.6 303.4,324.0 304.2,327.9 305.0,323.2 305.8,327.8 306.6,329.3 307.4,328.5 308.2,323.1 309.0,328.2 309.8,328.5 310.6,328.7 311.4,329.4 312.2,329.1 313.0,329.6 313.8,329.2 314.6,324.3 315.4,328.9 316.2,328.0 317.0,328.6 317.8,327.9 318.6,323.9 319.4,326.4 320.2,326.7 321.0,326.4 321.8,322.1 322.6,325.6 323.4,321.7 324.2,325.1 325.0,325.4 325.8,325.2 326.6,322.9 327.4,317.7 328.2,319.1 329.0,316.4 329.8,315.1 330.6,312.2 331.4,311.1 332.2,309.3 333.0,318.7 333.8,324.1 334.6,334.6 335.4,334.6 336.2,333.1 337.0,337.5 337.8,337.4 338.6,332.0 339.4,337.2 340.2,335.3 341.0,331.5 341.8,337.1 342.6,332.8 343.4,337.8 344.2,337.4 345.0,337.3 345.8,336.7 346.6,338.1 347.4,335.6 348.2,333.9 349.0,333.3 349.8,335.9 350.6,338.5 351.4,339.0 352.2,339.9 353.0,338.9 353.8,339.0 354.6,339.8 355.4,340.0 356.2,338.5 357.0,333.4 357.8,339.9 358.6,339.9 359.4,338.7 360.2,340.0 361.0,338.5 361.8,338.7 362.6,339.6 363.4,333.0 364.2,339.1 365.0,338.8 365.8,334.7 366.6,334.9 367.4,337.5 368.2,337.2 369.0,333.3 369.8,334.7 370.6,338.0 371.4,338.4 372.2,332.1 373.0,337.9 373.8,336.9 374.6,336.9 375.4,337.3 376.2,335.9 377.0,330.8 377.8,335.8 378.6,336.2 379.4,332.6 380.2,335.4 381.0,335.2 381.8,336.3 382.6,336.8 383.4,331.4 384.2,336.6 385.0,336.3 385.8,331.4 386.6,331.9 387.4,336.0 388.2,332.8 389.0,333.7 389.8,336.8 390.6,336.5 391.4,336.7 392.2,337.6 393.0,338.3 393.8,338.3 394.6,334.8 395.4,334.3 396.2,338.1 397.0,337.4 397.8,338.0 398.6,334.2 399.4,330.9 400.2,336.3 401.0,332.6 401.8,332.7 402.6,336.7 403.4,337.0 404.2,338.0 405.0,337.4 405.8,335.6 406.6,338.5 407.4,339.9 408.2,340.1 409.0,336.7 409.8,336.1 410.6,341.8 411.4,338.7 412.2,341.7 413.0,341.9 413.8,342.1 414.6,343.7 415.4,344.6 416.2,344.4 417.0,338.3 417.8,339.8 418.6,340.1 419.4,340.5 420.2,345.3 421.0,342.4 421.8,346.2 422.6,346.7 423.4,346.1 424.2,345.5 425.0,347.2 425.8,342.6 426.6,341.6 427.4,346.6 428.2,343.3 429.0,349.9 429.8,349.1 430.6,349.4 431.2,412.0 431.2,428.0 184.4,428.0 184.4,386.2 181.0,380.0 177.2,373.0 170.0,368.0 157.0,361.0 149.2,336.0 149.2,333.9 150.0,327.4 150.8,327.3 151.6,327.5 152.4,333.3 153.2,332.6 154.0,328.6 154.8,327.0 155.6,327.7 156.4,331.5 157.2,326.9 158.0,325.5 158.8,331.8 159.6,330.3 160.4,330.6 161.2,330.3 162.0,330.8 162.8,333.3 163.6,327.9 164.4,333.2 165.2,332.2 166.0,328.2 166.8,334.2 167.6,332.9 168.4,332.9 169.2,330.6 170.0,335.5 170.8,335.0 171.6,333.4 172.4,334.1 173.2,331.0 174.0,334.4 174.8,330.7 175.6,334.8 176.4,336.6 177.2,336.5 178.0,336.6 178.8,330.2 179.6,336.6 180.4,336.5 181.2,330.6 182.0,337.1 182.8,332.1 183.6,338.7 184.4,333.0 185.2,332.5 186.0,334.1 186.8,339.7 187.6,338.0 188.4,338.3 189.2,339.4 190.0,339.9 190.8,339.5 191.6,339.1 192.4,336.9 193.2,336.3 194.0,334.1 194.8,335.6 195.6,333.2 196.4,332.4 197.2,337.3 198.0,337.8 198.8,332.8 199.6,337.9 200.4,331.5 201.2,337.5 202.0,336.8 202.8,333.5 203.6,333.5 204.4,337.6 205.2,339.6 206.0,334.4 206.8,340.1 207.6,336.3 208.4,337.0 209.0,339.6 208.0,338.4 207.0,336.8 206.0,338.9 205.0,334.7 204.0,333.7 203.0,332.7 202.0,332.5 201.0,332.2 200.0,331.4 199.0,330.9 198.0,330.4 197.0,330.0 196.0,329.2 195.0,328.7 194.0,328.0 193.0,327.7 192.0,327.0 191.0,326.3 190.0,326.0 189.0,328.0 188.0,325.1 187.0,324.4 186.0,326.0 185.0,323.4 184.0,322.9 183.0,322.1 182.0,322.1 181.0,324.1 180.0,320.9 179.0,320.7 178.0,322.2 177.0,319.9 176.0,319.4 175.0,318.5 174.0,318.3 173.0,318.2 172.0,317.4 171.0,316.5 170.0,316.1 169.0,315.8 168.0,317.7 167.0,317.7 166.0,314.5 165.0,316.0 164.0,316.2 163.0,315.4 162.0,314.9 161.0,311.5 160.0,311.6 159.0,310.5 158.0,313.8 157.0,310.9"/></clipPath>
<linearGradient id="c0" gradientUnits="userSpaceOnUse" x1="0" y1="300.0" x2="0" y2="430.0"><stop offset="0.036" stop-color="#625d42"/><stop offset="0.085" stop-color="#625d42"/><stop offset="0.217" stop-color="#625d42"/><stop offset="0.275" stop-color="#878454"/><stop offset="0.325" stop-color="#625d42"/><stop offset="0.363" stop-color="#878454"/></linearGradient>
<linearGradient id="c1" gradientUnits="userSpaceOnUse" x1="0" y1="300.0" x2="0" y2="430.0"><stop offset="0.036" stop-color="#625d42"/><stop offset="0.085" stop-color="#625d42"/><stop offset="0.213" stop-color="#625d42"/><stop offset="0.282" stop-color="#878454"/><stop offset="0.321" stop-color="#625d42"/><stop offset="0.359" stop-color="#878454"/><stop offset="0.451" stop-color="#62307a"/><stop offset="0.474" stop-color="#62307a"/><stop offset="0.498" stop-color="#878454"/><stop offset="0.498" stop-color="#8d8a59"/><stop offset="0.544" stop-color="#878454"/><stop offset="0.590" stop-color="#878454"/><stop offset="0.636" stop-color="#878454"/><stop offset="0.682" stop-color="#878454"/><stop offset="0.728" stop-color="#878454"/><stop offset="0.774" stop-color="#878454"/><stop offset="0.819" stop-color="#878454"/><stop offset="0.831" stop-color="#2a5ad8"/><stop offset="0.854" stop-color="#1a40e0"/><stop offset="0.862" stop-color="#10a030"/><stop offset="0.888" stop-color="#30c020"/><stop offset="0.896" stop-color="#e8e020"/><stop offset="0.992" stop-color="#f0e030"/></linearGradient>
<linearGradient id="c2" gradientUnits="userSpaceOnUse" x1="0" y1="300.0" x2="0" y2="430.0"><stop offset="0.036" stop-color="#625d42"/><stop offset="0.085" stop-color="#625d42"/><stop offset="0.209" stop-color="#625d42"/><stop offset="0.290" stop-color="#878454"/><stop offset="0.316" stop-color="#625d42"/><stop offset="0.355" stop-color="#878454"/><stop offset="0.459" stop-color="#62307a"/><stop offset="0.482" stop-color="#62307a"/><stop offset="0.505" stop-color="#878454"/><stop offset="0.505" stop-color="#878454"/><stop offset="0.551" stop-color="#878454"/><stop offset="0.597" stop-color="#878454"/><stop offset="0.643" stop-color="#878454"/><stop offset="0.690" stop-color="#878454"/><stop offset="0.736" stop-color="#878454"/><stop offset="0.782" stop-color="#878454"/><stop offset="0.819" stop-color="#878454"/><stop offset="0.831" stop-color="#2a5ad8"/><stop offset="0.854" stop-color="#1a40e0"/><stop offset="0.862" stop-color="#10a030"/><stop offset="0.888" stop-color="#30c020"/><stop offset="0.896" stop-color="#e8e020"/><stop offset="0.992" stop-color="#f0e030"/></linearGradient>
<linearGradient id="c3" gradientUnits="userSpaceOnUse" x1="0" y1="300.0" x2="0" y2="430.0"><stop offset="0.036" stop-color="#625d42"/><stop offset="0.085" stop-color="#625d42"/><stop offset="0.204" stop-color="#625d42"/><stop offset="0.297" stop-color="#878454"/><stop offset="0.312" stop-color="#625d42"/><stop offset="0.350" stop-color="#878454"/><stop offset="0.466" stop-color="#62307a"/><stop offset="0.489" stop-color="#62307a"/><stop offset="0.512" stop-color="#878454"/><stop offset="0.512" stop-color="#878454"/><stop offset="0.558" stop-color="#878454"/><stop offset="0.605" stop-color="#878454"/><stop offset="0.651" stop-color="#878454"/><stop offset="0.697" stop-color="#878454"/><stop offset="0.743" stop-color="#878454"/><stop offset="0.789" stop-color="#878454"/><stop offset="0.819" stop-color="#878454"/><stop offset="0.831" stop-color="#2a5ad8"/><stop offset="0.854" stop-color="#1a40e0"/><stop offset="0.862" stop-color="#10a030"/><stop offset="0.888" stop-color="#30c020"/><stop offset="0.896" stop-color="#e8e020"/><stop offset="0.992" stop-color="#f0e030"/></linearGradient>
<linearGradient id="c4" gradientUnits="userSpaceOnUse" x1="0" y1="300.0" x2="0" y2="430.0"><stop offset="0.036" stop-color="#625d42"/><stop offset="0.085" stop-color="#625d42"/><stop offset="0.200" stop-color="#625d42"/><stop offset="0.304" stop-color="#878454"/><stop offset="0.307" stop-color="#625d42"/><stop offset="0.346" stop-color="#878454"/><stop offset="0.474" stop-color="#62307a"/><stop offset="0.497" stop-color="#62307a"/><stop offset="0.520" stop-color="#878454"/><stop offset="0.520" stop-color="#878454"/><stop offset="0.566" stop-color="#878454"/><stop offset="0.612" stop-color="#878454"/><stop offset="0.658" stop-color="#878454"/><stop offset="0.704" stop-color="#878454"/><stop offset="0.750" stop-color="#918e5c"/><stop offset="0.797" stop-color="#9d9b67"/><stop offset="0.819" stop-color="#9d9b67"/><stop offset="0.831" stop-color="#2a5ad8"/><stop offset="0.854" stop-color="#1a40e0"/><stop offset="0.862" stop-color="#10a030"/><stop offset="0.888" stop-color="#30c020"/><stop offset="0.896" stop-color="#e8e020"/><stop offset="0.992" stop-color="#f0e030"/></linearGradient>
<linearGradient id="c5" gradientUnits="userSpaceOnUse" x1="0" y1="300.0" x2="0" y2="430.0"><stop offset="0.040" stop-color="#625d42"/><stop offset="0.086" stop-color="#625d42"/><stop offset="0.195" stop-color="#625d42"/><stop offset="0.303" stop-color="#625d42"/><stop offset="0.312" stop-color="#878454"/><stop offset="0.342" stop-color="#878454"/><stop offset="0.481" stop-color="#62307a"/><stop offset="0.504" stop-color="#62307a"/><stop offset="0.527" stop-color="#878454"/><stop offset="0.527" stop-color="#878454"/><stop offset="0.573" stop-color="#878454"/><stop offset="0.619" stop-color="#878454"/><stop offset="0.666" stop-color="#878454"/><stop offset="0.712" stop-color="#878454"/><stop offset="0.758" stop-color="#878454"/><stop offset="0.804" stop-color="#918e5c"/><stop offset="0.819" stop-color="#918e5c"/><stop offset="0.831" stop-color="#2a5ad8"/><stop offset="0.854" stop-color="#1a40e0"/><stop offset="0.862" stop-color="#10a030"/><stop offset="0.888" stop-color="#30c020"/><stop offset="0.896" stop-color="#e8e020"/><stop offset="0.992" stop-color="#f0e030"/></linearGradient>
<linearGradient id="c6" gradientUnits="userSpaceOnUse" x1="0" y1="300.0" x2="0" y2="430.0"><stop offset="0.045" stop-color="#625d42"/><stop offset="0.094" stop-color="#625d42"/><stop offset="0.202" stop-color="#625d42"/><stop offset="0.309" stop-color="#625d42"/><stop offset="0.319" stop-color="#878454"/><stop offset="0.348" stop-color="#878454"/><stop offset="0.488" stop-color="#62307a"/><stop offset="0.511" stop-color="#62307a"/><stop offset="0.534" stop-color="#878454"/><stop offset="0.534" stop-color="#878454"/><stop offset="0.581" stop-color="#878454"/><stop offset="0.627" stop-color="#878454"/><stop offset="0.673" stop-color="#878454"/><stop offset="0.719" stop-color="#928f5d"/><stop offset="0.765" stop-color="#9c9a65"/><stop offset="0.811" stop-color="#a09e69"/><stop offset="0.819" stop-color="#a09e69"/><stop offset="0.831" stop-color="#2a5ad8"/><stop offset="0.854" stop-color="#1a40e0"/><stop offset="0.862" stop-color="#10a030"/><stop offset="0.888" stop-color="#30c020"/><stop offset="0.896" stop-color="#e8e020"/><stop offset="0.992" stop-color="#f0e030"/></linearGradient>
<linearGradient id="c7" gradientUnits="userSpaceOnUse" x1="0" y1="300.0" x2="0" y2="430.0"><stop offset="0.052" stop-color="#625d42"/><stop offset="0.102" stop-color="#625d42"/><stop offset="0.208" stop-color="#625d42"/><stop offset="0.315" stop-color="#625d42"/><stop offset="0.326" stop-color="#878454"/><stop offset="0.354" stop-color="#878454"/><stop offset="0.496" stop-color="#62307a"/><stop offset="0.519" stop-color="#62307a"/><stop offset="0.542" stop-color="#878454"/><stop offset="0.542" stop-color="#878454"/><stop offset="0.588" stop-color="#878454"/><stop offset="0.634" stop-color="#878454"/><stop offset="0.680" stop-color="#918e5c"/><stop offset="0.726" stop-color="#9b9864"/><stop offset="0.773" stop-color="#9f9d68"/><stop offset="0.819" stop-color="#9b9965"/><stop offset="0.819" stop-color="#9b9965"/><stop offset="0.831" stop-color="#2a5ad8"/><stop offset="0.854" stop-color="#1a40e0"/><stop offset="0.862" stop-color="#10a030"/><stop offset="0.888" stop-color="#30c020"/><stop offset="0.896" stop-color="#e8e020"/><stop offset="0.992" stop-color="#f0e030"/></linearGradient>
<linearGradient id="c8" gradientUnits="userSpaceOnUse" x1="0" y1="300.0" x2="0" y2="430.0"><stop offset="0.052" stop-color="#625d42"/><stop offset="0.109" stop-color="#625d42"/><stop offset="0.214" stop-color="#625d42"/><stop offset="0.322" stop-color="#625d42"/><stop offset="0.334" stop-color="#878454"/><stop offset="0.360" stop-color="#878454"/><stop offset="0.503" stop-color="#62307a"/><stop offset="0.526" stop-color="#62307a"/><stop offset="0.549" stop-color="#878454"/><stop offset="0.549" stop-color="#878454"/><stop offset="0.595" stop-color="#878454"/><stop offset="0.642" stop-color="#8a8757"/><stop offset="0.688" stop-color="#94925f"/><stop offset="0.734" stop-color="#999763"/><stop offset="0.780" stop-color="#969360"/><stop offset="0.819" stop-color="#969360"/><stop offset="0.831" stop-color="#2a5ad8"/><stop offset="0.854" stop-color="#1a40e0"/><stop offset="0.862" stop-color="#10a030"/><stop offset="0.888" stop-color="#30c020"/><stop offset="0.896" stop-color="#e8e020"/><stop offset="0.992" stop-color="#f0e030"/></linearGradient>
<linearGradient id="c9" gradientUnits="userSpaceOnUse" x1="0" y1="300.0" x2="0" y2="430.0"><stop offset="0.052" stop-color="#625d42"/><stop offset="0.117" stop-color="#625d42"/><stop offset="0.218" stop-color="#625d42"/><stop offset="0.326" stop-color="#625d42"/><stop offset="0.341" stop-color="#878454"/><stop offset="0.365" stop-color="#878454"/><stop offset="0.510" stop-color="#62307a"/><stop offset="0.534" stop-color="#62307a"/><stop offset="0.557" stop-color="#878454"/><stop offset="0.557" stop-color="#878454"/><stop offset="0.603" stop-color="#8b8857"/><stop offset="0.649" stop-color="#959360"/><stop offset="0.695" stop-color="#9a9864"/><stop offset="0.741" stop-color="#979562"/><stop offset="0.787" stop-color="#8e8b5a"/><stop offset="0.819" stop-color="#8e8b5a"/><stop offset="0.831" stop-color="#2a5ad8"/><stop offset="0.854" stop-color="#1a40e0"/><stop offset="0.862" stop-color="#10a030"/><stop offset="0.888" stop-color="#30c020"/><stop offset="0.896" stop-color="#e8e020"/><stop offset="0.992" stop-color="#f0e030"/></linearGradient>
<linearGradient id="c10" gradientUnits="userSpaceOnUse" x1="0" y1="300.0" x2="0" y2="430.0"><stop offset="0.052" stop-color="#625d42"/><stop offset="0.125" stop-color="#625d42"/><stop offset="0.222" stop-color="#625d42"/><stop offset="0.329" stop-color="#625d42"/><stop offset="0.349" stop-color="#878454"/><stop offset="0.368" stop-color="#878454"/><stop offset="0.518" stop-color="#62307a"/><stop offset="0.541" stop-color="#62307a"/><stop offset="0.564" stop-color="#878454"/><stop offset="0.564" stop-color="#959360"/><stop offset="0.610" stop-color="#a09e69"/><stop offset="0.656" stop-color="#a5a36d"/><stop offset="0.702" stop-color="#a2a06b"/><stop offset="0.749" stop-color="#999763"/><stop offset="0.795" stop-color="#8c8958"/><stop offset="0.819" stop-color="#8c8958"/><stop offset="0.831" stop-color="#2a5ad8"/><stop offset="0.854" stop-color="#1a40e0"/><stop offset="0.862" stop-color="#10a030"/><stop offset="0.888" stop-color="#30c020"/><stop offset="0.896" stop-color="#e8e020"/><stop offset="0.992" stop-color="#f0e030"/></linearGradient>
<linearGradient id="c11" gradientUnits="userSpaceOnUse" x1="0" y1="300.0" x2="0" y2="430.0"><stop offset="0.052" stop-color="#625d42"/><stop offset="0.132" stop-color="#625d42"/><stop offset="0.225" stop-color="#625d42"/><stop offset="0.332" stop-color="#625d42"/><stop offset="0.356" stop-color="#878454"/><stop offset="0.371" stop-color="#878454"/><stop offset="0.525" stop-color="#62307a"/><stop offset="0.548" stop-color="#62307a"/><stop offset="0.571" stop-color="#878454"/><stop offset="0.571" stop-color="#8d8a59"/><stop offset="0.618" stop-color="#93905e"/><stop offset="0.664" stop-color="#908e5c"/><stop offset="0.710" stop-color="#878454"/><stop offset="0.756" stop-color="#878454"/><stop offset="0.802" stop-color="#878454"/><stop offset="0.819" stop-color="#878454"/><stop offset="0.831" stop-color="#2a5ad8"/><stop offset="0.854" stop-color="#1a40e0"/><stop offset="0.862" stop-color="#10a030"/><stop offset="0.888" stop-color="#30c020"/><stop offset="0.896" stop-color="#e8e020"/><stop offset="0.992" stop-color="#f0e030"/></linearGradient>
<linearGradient id="c12" gradientUnits="userSpaceOnUse" x1="0" y1="300.0" x2="0" y2="430.0"><stop offset="0.052" stop-color="#625d42"/><stop offset="0.140" stop-color="#625d42"/><stop offset="0.228" stop-color="#625d42"/><stop offset="0.335" stop-color="#625d42"/><stop offset="0.363" stop-color="#878454"/><stop offset="0.374" stop-color="#878454"/><stop offset="0.533" stop-color="#62307a"/><stop offset="0.556" stop-color="#62307a"/><stop offset="0.579" stop-color="#878454"/><stop offset="0.579" stop-color="#a5a36c"/><stop offset="0.625" stop-color="#a3a16b"/><stop offset="0.671" stop-color="#9a9764"/><stop offset="0.717" stop-color="#8d8a59"/><stop offset="0.763" stop-color="#878454"/><stop offset="0.810" stop-color="#878454"/><stop offset="0.819" stop-color="#878454"/><stop offset="0.831" stop-color="#2a5ad8"/><stop offset="0.854" stop-color="#1a40e0"/><stop offset="0.862" stop-color="#10a030"/><stop offset="0.888" stop-color="#30c020"/><stop offset="0.896" stop-color="#e8e020"/><stop offset="0.992" stop-color="#f0e030"/></linearGradient>
<linearGradient id="c13" gradientUnits="userSpaceOnUse" x1="0" y1="300.0" x2="0" y2="430.0"><stop offset="0.058" stop-color="#625d42"/><stop offset="0.147" stop-color="#625d42"/><stop offset="0.231" stop-color="#625d42"/><stop offset="0.338" stop-color="#625d42"/><stop offset="0.371" stop-color="#878454"/><stop offset="0.377" stop-color="#878454"/><stop offset="0.540" stop-color="#62307a"/><stop offset="0.563" stop-color="#62307a"/><stop offset="0.586" stop-color="#878454"/><stop offset="0.586" stop-color="#918f5c"/><stop offset="0.632" stop-color="#888655"/><stop offset="0.678" stop-color="#878454"/><stop offset="0.725" stop-color="#878454"/><stop offset="0.771" stop-color="#878454"/><stop offset="0.817" stop-color="#878454"/><stop offset="0.819" stop-color="#878454"/><stop offset="0.831" stop-color="#2a5ad8"/><stop offset="0.854" stop-color="#1a40e0"/><stop offset="0.862" stop-color="#10a030"/><stop offset="0.888" stop-color="#30c020"/><stop offset="0.896" stop-color="#e8e020"/><stop offset="0.992" stop-color="#f0e030"/></linearGradient>
<linearGradient id="c14" gradientUnits="userSpaceOnUse" x1="0" y1="300.0" x2="0" y2="430.0"><stop offset="0.065" stop-color="#625d42"/><stop offset="0.154" stop-color="#625d42"/><stop offset="0.234" stop-color="#625d42"/><stop offset="0.342" stop-color="#625d42"/><stop offset="0.378" stop-color="#878454"/><stop offset="0.380" stop-color="#878454"/><stop offset="0.547" stop-color="#62307a"/><stop offset="0.570" stop-color="#62307a"/><stop offset="0.594" stop-color="#878454"/><stop offset="0.594" stop-color="#908e5c"/><stop offset="0.640" stop-color="#878454"/><stop offset="0.686" stop-color="#878454"/><stop offset="0.732" stop-color="#878454"/><stop offset="0.778" stop-color="#878454"/><stop offset="0.819" stop-color="#878454"/><stop offset="0.831" stop-color="#2a5ad8"/><stop offset="0.854" stop-color="#1a40e0"/><stop offset="0.862" stop-color="#10a030"/><stop offset="0.888" stop-color="#30c020"/><stop offset="0.896" stop-color="#e8e020"/><stop offset="0.992" stop-color="#f0e030"/></linearGradient>
<linearGradient id="c15" gradientUnits="userSpaceOnUse" x1="0" y1="300.0" x2="0" y2="430.0"><stop offset="0.071" stop-color="#625d42"/><stop offset="0.161" stop-color="#625d42"/><stop offset="0.237" stop-color="#625d42"/><stop offset="0.345" stop-color="#625d42"/><stop offset="0.383" stop-color="#878454"/><stop offset="0.386" stop-color="#878454"/><stop offset="0.555" stop-color="#62307a"/><stop offset="0.578" stop-color="#62307a"/><stop offset="0.601" stop-color="#878454"/><stop offset="0.601" stop-color="#878454"/><stop offset="0.647" stop-color="#878454"/><stop offset="0.693" stop-color="#878454"/><stop offset="0.739" stop-color="#878454"/><stop offset="0.786" stop-color="#878454"/><stop offset="0.819" stop-color="#878454"/><stop offset="0.831" stop-color="#2a5ad8"/><stop offset="0.854" stop-color="#1a40e0"/><stop offset="0.862" stop-color="#10a030"/><stop offset="0.888" stop-color="#30c020"/><stop offset="0.896" stop-color="#e8e020"/><stop offset="0.992" stop-color="#f0e030"/></linearGradient>
<linearGradient id="c16" gradientUnits="userSpaceOnUse" x1="0" y1="300.0" x2="0" y2="430.0"><stop offset="0.075" stop-color="#625d42"/><stop offset="0.168" stop-color="#625d42"/><stop offset="0.241" stop-color="#625d42"/><stop offset="0.349" stop-color="#625d42"/><stop offset="0.388" stop-color="#878454"/><stop offset="0.393" stop-color="#878454"/><stop offset="0.562" stop-color="#62307a"/><stop offset="0.585" stop-color="#62307a"/><stop offset="0.608" stop-color="#878454"/><stop offset="0.608" stop-color="#878454"/><stop offset="0.654" stop-color="#878454"/><stop offset="0.701" stop-color="#878454"/><stop offset="0.747" stop-color="#878454"/><stop offset="0.793" stop-color="#878454"/><stop offset="0.819" stop-color="#878454"/><stop offset="0.831" stop-color="#2a5ad8"/><stop offset="0.854" stop-color="#1a40e0"/><stop offset="0.862" stop-color="#10a030"/><stop offset="0.888" stop-color="#30c020"/><stop offset="0.896" stop-color="#e8e020"/><stop offset="0.992" stop-color="#f0e030"/></linearGradient>
<linearGradient id="c17" gradientUnits="userSpaceOnUse" x1="0" y1="300.0" x2="0" y2="430.0"><stop offset="0.078" stop-color="#625d42"/><stop offset="0.175" stop-color="#625d42"/><stop offset="0.247" stop-color="#625d42"/><stop offset="0.355" stop-color="#625d42"/><stop offset="0.393" stop-color="#878454"/><stop offset="0.400" stop-color="#878454"/><stop offset="0.570" stop-color="#62307a"/><stop offset="0.593" stop-color="#62307a"/><stop offset="0.616" stop-color="#878454"/><stop offset="0.616" stop-color="#878454"/><stop offset="0.662" stop-color="#878454"/><stop offset="0.708" stop-color="#878454"/><stop offset="0.754" stop-color="#878454"/><stop offset="0.800" stop-color="#878454"/><stop offset="0.819" stop-color="#878454"/><stop offset="0.831" stop-color="#2a5ad8"/><stop offset="0.854" stop-color="#1a40e0"/><stop offset="0.862" stop-color="#10a030"/><stop offset="0.888" stop-color="#30c020"/><stop offset="0.896" stop-color="#e8e020"/><stop offset="0.992" stop-color="#f0e030"/></linearGradient>
<linearGradient id="c18" gradientUnits="userSpaceOnUse" x1="0" y1="300.0" x2="0" y2="430.0"><stop offset="0.082" stop-color="#625d42"/><stop offset="0.182" stop-color="#625d42"/><stop offset="0.253" stop-color="#625d42"/><stop offset="0.361" stop-color="#625d42"/><stop offset="0.399" stop-color="#878454"/><stop offset="0.408" stop-color="#878454"/><stop offset="0.577" stop-color="#62307a"/><stop offset="0.600" stop-color="#62307a"/><stop offset="0.623" stop-color="#878454"/><stop offset="0.623" stop-color="#878454"/><stop offset="0.669" stop-color="#878454"/><stop offset="0.715" stop-color="#878454"/><stop offset="0.762" stop-color="#898655"/><stop offset="0.808" stop-color="#92905d"/><stop offset="0.819" stop-color="#92905d"/><stop offset="0.831" stop-color="#2a5ad8"/><stop offset="0.854" stop-color="#1a40e0"/><stop offset="0.862" stop-color="#10a030"/><stop offset="0.888" stop-color="#30c020"/><stop offset="0.896" stop-color="#e8e020"/><stop offset="0.992" stop-color="#f0e030"/></linearGradient>
<linearGradient id="c19" gradientUnits="userSpaceOnUse" x1="0" y1="300.0" x2="0" y2="430.0"><stop offset="0.085" stop-color="#625d42"/><stop offset="0.188" stop-color="#625d42"/><stop offset="0.259" stop-color="#625d42"/><stop offset="0.366" stop-color="#625d42"/><stop offset="0.405" stop-color="#878454"/><stop offset="0.415" stop-color="#878454"/><stop offset="0.584" stop-color="#62307a"/><stop offset="0.607" stop-color="#62307a"/><stop offset="0.630" stop-color="#878454"/><stop offset="0.630" stop-color="#878454"/><stop offset="0.677" stop-color="#878454"/><stop offset="0.723" stop-color="#878454"/><stop offset="0.769" stop-color="#8c8a58"/><stop offset="0.815" stop-color="#959360"/><stop offset="0.818" stop-color="#959360"/><stop offset="0.830" stop-color="#2a5ad8"/><stop offset="0.853" stop-color="#1a40e0"/><stop offset="0.861" stop-color="#10a030"/><stop offset="0.887" stop-color="#30c020"/><stop offset="0.895" stop-color="#e8e020"/><stop offset="0.992" stop-color="#f0e030"/></linearGradient>
<linearGradient id="c20" gradientUnits="userSpaceOnUse" x1="0" y1="300.0" x2="0" y2="430.0"><stop offset="0.081" stop-color="#625d42"/><stop offset="0.197" stop-color="#625d42"/><stop offset="0.264" stop-color="#625d42"/><stop offset="0.372" stop-color="#625d42"/><stop offset="0.411" stop-color="#878454"/><stop offset="0.422" stop-color="#878454"/><stop offset="0.592" stop-color="#625d42"/><stop offset="0.638" stop-color="#878454"/><stop offset="0.684" stop-color="#878454"/><stop offset="0.730" stop-color="#878454"/><stop offset="0.776" stop-color="#878454"/><stop offset="0.816" stop-color="#878454"/><stop offset="0.828" stop-color="#2a5ad8"/><stop offset="0.851" stop-color="#1a40e0"/><stop offset="0.859" stop-color="#10a030"/><stop offset="0.886" stop-color="#30c020"/><stop offset="0.893" stop-color="#e8e020"/><stop offset="0.992" stop-color="#f0e030"/></linearGradient>
<linearGradient id="c21" gradientUnits="userSpaceOnUse" x1="0" y1="300.0" x2="0" y2="430.0"><stop offset="0.077" stop-color="#625d42"/><stop offset="0.206" stop-color="#625d42"/><stop offset="0.270" stop-color="#625d42"/><stop offset="0.378" stop-color="#625d42"/><stop offset="0.416" stop-color="#878454"/><stop offset="0.430" stop-color="#878454"/><stop offset="0.599" stop-color="#625d42"/><stop offset="0.645" stop-color="#878454"/><stop offset="0.691" stop-color="#8c8958"/><stop offset="0.738" stop-color="#95925f"/><stop offset="0.784" stop-color="#9b9864"/><stop offset="0.814" stop-color="#9b9864"/><stop offset="0.826" stop-color="#2a5ad8"/><stop offset="0.849" stop-color="#1a40e0"/><stop offset="0.857" stop-color="#10a030"/><stop offset="0.884" stop-color="#30c020"/><stop offset="0.891" stop-color="#e8e020"/><stop offset="0.992" stop-color="#f0e030"/></linearGradient>
<linearGradient id="c22" gradientUnits="userSpaceOnUse" x1="0" y1="300.0" x2="0" y2="430.0"><stop offset="0.073" stop-color="#625d42"/><stop offset="0.215" stop-color="#625d42"/><stop offset="0.265" stop-color="#625d42"/><stop offset="0.373" stop-color="#625d42"/><stop offset="0.411" stop-color="#878454"/><stop offset="0.437" stop-color="#878454"/><stop offset="0.606" stop-color="#625d42"/><stop offset="0.653" stop-color="#878454"/><stop offset="0.699" stop-color="#878454"/><stop offset="0.745" stop-color="#8c8a58"/><stop offset="0.791" stop-color="#8d8b59"/><stop offset="0.812" stop-color="#8d8b59"/><stop offset="0.824" stop-color="#2a5ad8"/><stop offset="0.847" stop-color="#1a40e0"/><stop offset="0.855" stop-color="#10a030"/><stop offset="0.882" stop-color="#30c020"/><stop offset="0.889" stop-color="#e8e020"/><stop offset="0.992" stop-color="#f0e030"/></linearGradient>
<linearGradient id="c23" gradientUnits="userSpaceOnUse" x1="0" y1="300.0" x2="0" y2="430.0"><stop offset="0.069" stop-color="#625d42"/><stop offset="0.224" stop-color="#625d42"/><stop offset="0.258" stop-color="#625d42"/><stop offset="0.366" stop-color="#625d42"/><stop offset="0.404" stop-color="#878454"/><stop offset="0.443" stop-color="#969460"/><stop offset="0.445" stop-color="#969460"/><stop offset="0.614" stop-color="#625d42"/><stop offset="0.660" stop-color="#878454"/><stop offset="0.706" stop-color="#888555"/><stop offset="0.752" stop-color="#898656"/><stop offset="0.798" stop-color="#878454"/><stop offset="0.814" stop-color="#878454"/><stop offset="0.826" stop-color="#2a5ad8"/><stop offset="0.849" stop-color="#1a40e0"/><stop offset="0.856" stop-color="#10a030"/><stop offset="0.883" stop-color="#30c020"/><stop offset="0.891" stop-color="#e8e020"/><stop offset="0.992" stop-color="#f0e030"/></linearGradient>
<linearGradient id="c24" gradientUnits="userSpaceOnUse" x1="0" y1="300.0" x2="0" y2="430.0"><stop offset="0.065" stop-color="#5c3270"/><stop offset="0.167" stop-color="#5c3270"/><stop offset="0.186" stop-color="#6a5a62"/><stop offset="0.206" stop-color="#878454"/><stop offset="0.225" stop-color="#878454"/><stop offset="0.232" stop-color="#5c3270"/><stop offset="0.344" stop-color="#5c3270"/><stop offset="0.375" stop-color="#6a5a62"/><stop offset="0.398" stop-color="#878454"/><stop offset="0.429" stop-color="#9b9963"/><stop offset="0.450" stop-color="#9b9963"/><stop offset="0.621" stop-color="#625d42"/><stop offset="0.667" stop-color="#908e5c"/><stop offset="0.714" stop-color="#928f5d"/><stop offset="0.760" stop-color="#8d8b59"/><stop offset="0.806" stop-color="#878454"/><stop offset="0.819" stop-color="#878454"/><stop offset="0.831" stop-color="#2a5ad8"/><stop offset="0.854" stop-color="#1a40e0"/><stop offset="0.862" stop-color="#10a030"/><stop offset="0.888" stop-color="#30c020"/><stop offset="0.896" stop-color="#e8e020"/><stop offset="0.992" stop-color="#f0e030"/></linearGradient>
<linearGradient id="c25" gradientUnits="userSpaceOnUse" x1="0" y1="300.0" x2="0" y2="430.0"><stop offset="0.060" stop-color="#5c3270"/><stop offset="0.155" stop-color="#5c3270"/><stop offset="0.174" stop-color="#6a5a62"/><stop offset="0.193" stop-color="#878454"/><stop offset="0.224" stop-color="#afae74"/><stop offset="0.232" stop-color="#afae74"/><stop offset="0.240" stop-color="#5c3270"/><stop offset="0.337" stop-color="#5c3270"/><stop offset="0.368" stop-color="#6a5a62"/><stop offset="0.391" stop-color="#878454"/><stop offset="0.422" stop-color="#a1a068"/><stop offset="0.457" stop-color="#a1a068"/><stop offset="0.629" stop-color="#625d42"/><stop offset="0.675" stop-color="#9c9a66"/><stop offset="0.721" stop-color="#989662"/><stop offset="0.767" stop-color="#908d5b"/><stop offset="0.813" stop-color="#878454"/><stop offset="0.824" stop-color="#878454"/><stop offset="0.836" stop-color="#2a5ad8"/><stop offset="0.859" stop-color="#1a40e0"/><stop offset="0.867" stop-color="#10a030"/><stop offset="0.894" stop-color="#30c020"/><stop offset="0.901" stop-color="#e8e020"/><stop offset="0.992" stop-color="#f0e030"/></linearGradient>
<linearGradient id="c26" gradientUnits="userSpaceOnUse" x1="0" y1="300.0" x2="0" y2="430.0"><stop offset="0.052" stop-color="#5c3270"/><stop offset="0.179" stop-color="#5c3270"/><stop offset="0.198" stop-color="#6a5a62"/><stop offset="0.218" stop-color="#878454"/><stop offset="0.240" stop-color="#878454"/><stop offset="0.248" stop-color="#5c3270"/><stop offset="0.331" stop-color="#5c3270"/><stop offset="0.362" stop-color="#6a5a62"/><stop offset="0.385" stop-color="#878454"/><stop offset="0.415" stop-color="#9f9e67"/><stop offset="0.462" stop-color="#a4a26a"/><stop offset="0.464" stop-color="#a4a26a"/><stop offset="0.636" stop-color="#625d42"/><stop offset="0.682" stop-color="#918f5c"/><stop offset="0.728" stop-color="#898656"/><stop offset="0.774" stop-color="#878454"/><stop offset="0.821" stop-color="#878454"/><stop offset="0.831" stop-color="#878454"/><stop offset="0.842" stop-color="#2a5ad8"/><stop offset="0.865" stop-color="#1a40e0"/><stop offset="0.873" stop-color="#10a030"/><stop offset="0.900" stop-color="#30c020"/><stop offset="0.908" stop-color="#e8e020"/><stop offset="0.992" stop-color="#f0e030"/></linearGradient>
<linearGradient id="c27" gradientUnits="userSpaceOnUse" x1="0" y1="300.0" x2="0" y2="430.0"><stop offset="0.045" stop-color="#5c3270"/><stop offset="0.141" stop-color="#5c3270"/><stop offset="0.160" stop-color="#6a5a62"/><stop offset="0.179" stop-color="#878454"/><stop offset="0.210" stop-color="#9b9a64"/><stop offset="0.248" stop-color="#9b9a64"/><stop offset="0.255" stop-color="#5c3270"/><stop offset="0.341" stop-color="#5c3270"/><stop offset="0.372" stop-color="#6a5a62"/><stop offset="0.395" stop-color="#878454"/><stop offset="0.426" stop-color="#9a9862"/><stop offset="0.472" stop-color="#9f9d67"/><stop offset="0.472" stop-color="#9f9d67"/><stop offset="0.643" stop-color="#625d42"/><stop offset="0.690" stop-color="#878454"/><stop offset="0.736" stop-color="#878454"/><stop offset="0.782" stop-color="#878454"/><stop offset="0.828" stop-color="#878454"/><stop offset="0.838" stop-color="#878454"/><stop offset="0.850" stop-color="#2a5ad8"/><stop offset="0.865" stop-color="#1a40e0"/><stop offset="0.873" stop-color="#10a030"/><stop offset="0.892" stop-color="#30c020"/><stop offset="0.900" stop-color="#f0a020"/><stop offset="0.923" stop-color="#f07010"/><stop offset="0.992" stop-color="#e84010"/></linearGradient>
<linearGradient id="c28" gradientUnits="userSpaceOnUse" x1="0" y1="300.0" x2="0" y2="430.0"><stop offset="0.043" stop-color="#5c3270"/><stop offset="0.134" stop-color="#5c3270"/><stop offset="0.153" stop-color="#6a5a62"/><stop offset="0.173" stop-color="#878454"/><stop offset="0.203" stop-color="#a7a66d"/><stop offset="0.249" stop-color="#a3a26a"/><stop offset="0.262" stop-color="#a3a26a"/><stop offset="0.270" stop-color="#5c3270"/><stop offset="0.351" stop-color="#5c3270"/><stop offset="0.382" stop-color="#6a5a62"/><stop offset="0.405" stop-color="#878454"/><stop offset="0.436" stop-color="#adac72"/><stop offset="0.479" stop-color="#adac72"/><stop offset="0.651" stop-color="#625d42"/><stop offset="0.697" stop-color="#8b8857"/><stop offset="0.743" stop-color="#878454"/><stop offset="0.789" stop-color="#878454"/><stop offset="0.835" stop-color="#878454"/><stop offset="0.846" stop-color="#878454"/><stop offset="0.858" stop-color="#2a5ad8"/><stop offset="0.873" stop-color="#1a40e0"/><stop offset="0.881" stop-color="#10a030"/><stop offset="0.900" stop-color="#30c020"/><stop offset="0.908" stop-color="#f0a020"/><stop offset="0.931" stop-color="#f07010"/><stop offset="0.992" stop-color="#e84010"/></linearGradient>
<linearGradient id="c29" gradientUnits="userSpaceOnUse" x1="0" y1="300.0" x2="0" y2="430.0"><stop offset="0.044" stop-color="#5c3270"/><stop offset="0.146" stop-color="#5c3270"/><stop offset="0.165" stop-color="#6a5a62"/><stop offset="0.184" stop-color="#878454"/><stop offset="0.215" stop-color="#989661"/><stop offset="0.261" stop-color="#989661"/><stop offset="0.282" stop-color="#989661"/><stop offset="0.289" stop-color="#5c3270"/><stop offset="0.362" stop-color="#5c3270"/><stop offset="0.392" stop-color="#6a5a62"/><stop offset="0.415" stop-color="#878454"/><stop offset="0.446" stop-color="#a9a86f"/><stop offset="0.487" stop-color="#a9a86f"/><stop offset="0.658" stop-color="#625d42"/><stop offset="0.704" stop-color="#878454"/><stop offset="0.750" stop-color="#878454"/><stop offset="0.797" stop-color="#878454"/><stop offset="0.843" stop-color="#878454"/><stop offset="0.854" stop-color="#878454"/><stop offset="0.866" stop-color="#2a5ad8"/><stop offset="0.881" stop-color="#1a40e0"/><stop offset="0.889" stop-color="#10a030"/><stop offset="0.908" stop-color="#30c020"/><stop offset="0.916" stop-color="#f0a020"/><stop offset="0.939" stop-color="#f07010"/><stop offset="0.992" stop-color="#e84010"/></linearGradient>
<linearGradient id="c30" gradientUnits="userSpaceOnUse" x1="0" y1="300.0" x2="0" y2="430.0"><stop offset="0.046" stop-color="#5c3270"/><stop offset="0.164" stop-color="#5c3270"/><stop offset="0.183" stop-color="#6a5a62"/><stop offset="0.202" stop-color="#878454"/><stop offset="0.233" stop-color="#95935f"/><stop offset="0.279" stop-color="#999762"/><stop offset="0.301" stop-color="#999762"/><stop offset="0.308" stop-color="#5c3270"/><stop offset="0.372" stop-color="#5c3270"/><stop offset="0.403" stop-color="#6a5a62"/><stop offset="0.426" stop-color="#878454"/><stop offset="0.456" stop-color="#aaa96f"/><stop offset="0.494" stop-color="#aaa96f"/><stop offset="0.666" stop-color="#625d42"/><stop offset="0.712" stop-color="#878454"/><stop offset="0.758" stop-color="#878454"/><stop offset="0.804" stop-color="#878454"/><stop offset="0.850" stop-color="#878454"/><stop offset="0.863" stop-color="#878454"/><stop offset="0.875" stop-color="#2a5ad8"/><stop offset="0.890" stop-color="#1a40e0"/><stop offset="0.898" stop-color="#10a030"/><stop offset="0.917" stop-color="#30c020"/><stop offset="0.925" stop-color="#f0a020"/><stop offset="0.948" stop-color="#f07010"/><stop offset="0.992" stop-color="#e84010"/></linearGradient>
<linearGradient id="c31" gradientUnits="userSpaceOnUse" x1="0" y1="300.0" x2="0" y2="430.0"><stop offset="0.053" stop-color="#5c3270"/><stop offset="0.149" stop-color="#5c3270"/><stop offset="0.168" stop-color="#6a5a62"/><stop offset="0.187" stop-color="#878454"/><stop offset="0.218" stop-color="#9b9964"/><stop offset="0.264" stop-color="#9f9e67"/><stop offset="0.310" stop-color="#a5a36b"/><stop offset="0.357" stop-color="#aaa96f"/><stop offset="0.403" stop-color="#acab71"/><stop offset="0.449" stop-color="#adac72"/><stop offset="0.495" stop-color="#acab70"/><stop offset="0.501" stop-color="#acab70"/><stop offset="0.673" stop-color="#625d42"/><stop offset="0.719" stop-color="#878454"/><stop offset="0.765" stop-color="#878454"/><stop offset="0.811" stop-color="#878454"/><stop offset="0.858" stop-color="#878454"/><stop offset="0.872" stop-color="#878454"/><stop offset="0.884" stop-color="#20a040"/><stop offset="0.899" stop-color="#40b020"/><stop offset="0.907" stop-color="#f07010"/><stop offset="0.992" stop-color="#e83010"/></linearGradient>
<linearGradient id="c32" gradientUnits="userSpaceOnUse" x1="0" y1="300.0" x2="0" y2="430.0"><stop offset="0.061" stop-color="#5c3270"/><stop offset="0.168" stop-color="#5c3270"/><stop offset="0.188" stop-color="#6a5a62"/><stop offset="0.207" stop-color="#878454"/><stop offset="0.238" stop-color="#a5a36b"/><stop offset="0.284" stop-color="#aaa96f"/><stop offset="0.330" stop-color="#adac72"/><stop offset="0.376" stop-color="#afae74"/><stop offset="0.422" stop-color="#afae74"/><stop offset="0.468" stop-color="#aead72"/><stop offset="0.509" stop-color="#aead72"/><stop offset="0.680" stop-color="#625d42"/><stop offset="0.726" stop-color="#878454"/><stop offset="0.773" stop-color="#878454"/><stop offset="0.819" stop-color="#878454"/><stop offset="0.865" stop-color="#878454"/><stop offset="0.882" stop-color="#878454"/><stop offset="0.893" stop-color="#20a040"/><stop offset="0.908" stop-color="#40b020"/><stop offset="0.916" stop-color="#f07010"/><stop offset="0.992" stop-color="#e83010"/></linearGradient>
<linearGradient id="c33" gradientUnits="userSpaceOnUse" x1="0" y1="300.0" x2="0" y2="430.0"><stop offset="0.069" stop-color="#5c3270"/><stop offset="0.153" stop-color="#5c3270"/><stop offset="0.172" stop-color="#6a5a62"/><stop offset="0.192" stop-color="#878454"/><stop offset="0.222" stop-color="#a09f67"/><stop offset="0.268" stop-color="#a5a46b"/><stop offset="0.315" stop-color="#aaa96f"/><stop offset="0.361" stop-color="#abaa70"/><stop offset="0.407" stop-color="#aaa96f"/><stop offset="0.453" stop-color="#a7a66d"/><stop offset="0.499" stop-color="#a2a069"/><stop offset="0.516" stop-color="#a2a069"/><stop offset="0.688" stop-color="#625d42"/><stop offset="0.734" stop-color="#878454"/><stop offset="0.780" stop-color="#878454"/><stop offset="0.826" stop-color="#878454"/><stop offset="0.872" stop-color="#878454"/><stop offset="0.891" stop-color="#878454"/><stop offset="0.902" stop-color="#20a040"/><stop offset="0.918" stop-color="#40b020"/><stop offset="0.925" stop-color="#f07010"/><stop offset="0.992" stop-color="#e83010"/></linearGradient>
<linearGradient id="c34" gradientUnits="userSpaceOnUse" x1="0" y1="300.0" x2="0" y2="430.0"><stop offset="0.077" stop-color="#5c3270"/><stop offset="0.164" stop-color="#5c3270"/><stop offset="0.183" stop-color="#6a5a62"/><stop offset="0.203" stop-color="#878454"/><stop offset="0.233" stop-color="#a5a46b"/><stop offset="0.280" stop-color="#a9a86e"/><stop offset="0.326" stop-color="#abaa70"/><stop offset="0.372" stop-color="#aaa96f"/><stop offset="0.418" stop-color="#a6a56c"/><stop offset="0.464" stop-color="#a1a068"/><stop offset="0.510" stop-color="#9c9a64"/><stop offset="0.525" stop-color="#9c9a64"/><stop offset="0.696" stop-color="#625d42"/><stop offset="0.711" stop-color="#3a9a9a"/><stop offset="0.758" stop-color="#30a8b0"/><stop offset="0.854" stop-color="#4a8a80"/><stop offset="0.885" stop-color="#625d42"/><stop offset="0.912" stop-color="#20a040"/><stop offset="0.927" stop-color="#40b020"/><stop offset="0.935" stop-color="#f07010"/><stop offset="0.992" stop-color="#e83010"/></linearGradient>
<linearGradient id="c35" gradientUnits="userSpaceOnUse" x1="0" y1="300.0" x2="0" y2="430.0"><stop offset="0.085" stop-color="#5c3270"/><stop offset="0.157" stop-color="#5c3270"/><stop offset="0.176" stop-color="#6a5a62"/><stop offset="0.195" stop-color="#878454"/><stop offset="0.226" stop-color="#a4a26a"/><stop offset="0.272" stop-color="#a7a56c"/><stop offset="0.318" stop-color="#a7a56c"/><stop offset="0.365" stop-color="#a4a26a"/><stop offset="0.411" stop-color="#9f9d66"/><stop offset="0.457" stop-color="#999762"/><stop offset="0.503" stop-color="#94925e"/><stop offset="0.533" stop-color="#94925e"/><stop offset="0.705" stop-color="#625d42"/><stop offset="0.751" stop-color="#878454"/><stop offset="0.797" stop-color="#878454"/><stop offset="0.843" stop-color="#878454"/><stop offset="0.889" stop-color="#878454"/><stop offset="0.909" stop-color="#878454"/><stop offset="0.921" stop-color="#20a040"/><stop offset="0.936" stop-color="#40b020"/><stop offset="0.944" stop-color="#f07010"/><stop offset="0.992" stop-color="#e83010"/></linearGradient>
<linearGradient id="c36" gradientUnits="userSpaceOnUse" x1="0" y1="300.0" x2="0" y2="430.0"><stop offset="0.100" stop-color="#5c3270"/><stop offset="0.179" stop-color="#5c3270"/><stop offset="0.198" stop-color="#6a5a62"/><stop offset="0.217" stop-color="#878454"/><stop offset="0.248" stop-color="#a7a66d"/><stop offset="0.294" stop-color="#a6a56c"/><stop offset="0.340" stop-color="#a3a169"/><stop offset="0.386" stop-color="#9d9c65"/><stop offset="0.433" stop-color="#989661"/><stop offset="0.479" stop-color="#94915e"/><stop offset="0.525" stop-color="#918f5c"/><stop offset="0.541" stop-color="#918f5c"/><stop offset="0.713" stop-color="#625d42"/><stop offset="0.728" stop-color="#3a9a9a"/><stop offset="0.774" stop-color="#30a8b0"/><stop offset="0.872" stop-color="#4a8a80"/><stop offset="0.903" stop-color="#625d42"/><stop offset="0.930" stop-color="#20a040"/><stop offset="0.945" stop-color="#40b020"/><stop offset="0.953" stop-color="#f07010"/><stop offset="0.992" stop-color="#e83010"/></linearGradient>
<linearGradient id="c37" gradientUnits="userSpaceOnUse" x1="0" y1="300.0" x2="0" y2="430.0"><stop offset="0.115" stop-color="#5c3270"/><stop offset="0.213" stop-color="#5c3270"/><stop offset="0.233" stop-color="#6a5a62"/><stop offset="0.252" stop-color="#878454"/><stop offset="0.283" stop-color="#abaa70"/><stop offset="0.329" stop-color="#a7a56c"/><stop offset="0.375" stop-color="#a1a068"/><stop offset="0.421" stop-color="#9c9a64"/><stop offset="0.425" stop-color="#9c9a64"/><stop offset="0.456" stop-color="#878454"/><stop offset="0.502" stop-color="#625d42"/><stop offset="0.533" stop-color="#2a9ea4"/><stop offset="0.550" stop-color="#22c4c8"/><stop offset="0.721" stop-color="#625d42"/><stop offset="0.767" stop-color="#878454"/><stop offset="0.814" stop-color="#878454"/><stop offset="0.860" stop-color="#878454"/><stop offset="0.906" stop-color="#878454"/><stop offset="0.928" stop-color="#878454"/><stop offset="0.939" stop-color="#f05010"/><stop offset="0.992" stop-color="#e02010"/></linearGradient>
<linearGradient id="c38" gradientUnits="userSpaceOnUse" x1="0" y1="300.0" x2="0" y2="430.0"><stop offset="0.131" stop-color="#5c3270"/><stop offset="0.255" stop-color="#5c3270"/><stop offset="0.274" stop-color="#6a5a62"/><stop offset="0.294" stop-color="#878454"/><stop offset="0.324" stop-color="#a2a169"/><stop offset="0.370" stop-color="#9d9b65"/><stop offset="0.417" stop-color="#999762"/><stop offset="0.437" stop-color="#999762"/><stop offset="0.468" stop-color="#878454"/><stop offset="0.514" stop-color="#625d42"/><stop offset="0.545" stop-color="#2a9ea4"/><stop offset="0.558" stop-color="#22c4c8"/><stop offset="0.730" stop-color="#625d42"/><stop offset="0.745" stop-color="#3a9a9a"/><stop offset="0.791" stop-color="#30a8b0"/><stop offset="0.892" stop-color="#4a8a80"/><stop offset="0.923" stop-color="#625d42"/><stop offset="0.950" stop-color="#f05010"/><stop offset="0.992" stop-color="#e02010"/></linearGradient>
<linearGradient id="c39" gradientUnits="userSpaceOnUse" x1="0" y1="300.0" x2="0" y2="430.0"><stop offset="0.143" stop-color="#5c3270"/><stop offset="0.268" stop-color="#5c3270"/><stop offset="0.288" stop-color="#6a5a62"/><stop offset="0.307" stop-color="#878454"/><stop offset="0.338" stop-color="#9c9a64"/><stop offset="0.384" stop-color="#989661"/><stop offset="0.430" stop-color="#969460"/><stop offset="0.452" stop-color="#969460"/><stop offset="0.483" stop-color="#878454"/><stop offset="0.529" stop-color="#625d42"/><stop offset="0.560" stop-color="#2a9ea4"/><stop offset="0.567" stop-color="#22c4c8"/><stop offset="0.738" stop-color="#625d42"/><stop offset="0.754" stop-color="#3a9a9a"/><stop offset="0.800" stop-color="#30a8b0"/><stop offset="0.903" stop-color="#4a8a80"/><stop offset="0.934" stop-color="#625d42"/><stop offset="0.961" stop-color="#f05010"/><stop offset="0.992" stop-color="#e02010"/></linearGradient>
<linearGradient id="c40" gradientUnits="userSpaceOnUse" x1="0" y1="300.0" x2="0" y2="430.0"><stop offset="0.155" stop-color="#5c3270"/><stop offset="0.243" stop-color="#5c3270"/><stop offset="0.262" stop-color="#6a5a62"/><stop offset="0.281" stop-color="#878454"/><stop offset="0.312" stop-color="#9f9d66"/><stop offset="0.358" stop-color="#9b9964"/><stop offset="0.404" stop-color="#9b9963"/><stop offset="0.447" stop-color="#9b9963"/><stop offset="0.478" stop-color="#878454"/><stop offset="0.524" stop-color="#625d42"/><stop offset="0.555" stop-color="#2a9ea4"/><stop offset="0.575" stop-color="#22c4c8"/><stop offset="0.747" stop-color="#625d42"/><stop offset="0.762" stop-color="#3a9a9a"/><stop offset="0.808" stop-color="#30a8b0"/><stop offset="0.914" stop-color="#4a8a80"/><stop offset="0.945" stop-color="#625d42"/><stop offset="0.972" stop-color="#f05010"/><stop offset="0.992" stop-color="#e02010"/></linearGradient>
<linearGradient id="c41" gradientUnits="userSpaceOnUse" x1="0" y1="300.0" x2="0" y2="430.0"><stop offset="0.167" stop-color="#5c3270"/><stop offset="0.252" stop-color="#5c3270"/><stop offset="0.271" stop-color="#6a5a62"/><stop offset="0.290" stop-color="#878454"/><stop offset="0.321" stop-color="#989561"/><stop offset="0.367" stop-color="#979560"/><stop offset="0.413" stop-color="#969460"/><stop offset="0.460" stop-color="#95935f"/><stop offset="0.462" stop-color="#95935f"/><stop offset="0.492" stop-color="#878454"/><stop offset="0.539" stop-color="#625d42"/><stop offset="0.569" stop-color="#2a9ea4"/><stop offset="0.583" stop-color="#22c4c8"/><stop offset="0.755" stop-color="#625d42"/><stop offset="0.801" stop-color="#8a8857"/><stop offset="0.847" stop-color="#999763"/><stop offset="0.893" stop-color="#a19f69"/><stop offset="0.939" stop-color="#9f9d68"/><stop offset="0.970" stop-color="#9f9d68"/><stop offset="0.982" stop-color="#f05010"/><stop offset="0.992" stop-color="#e02010"/></linearGradient>
<linearGradient id="c42" gradientUnits="userSpaceOnUse" x1="0" y1="300.0" x2="0" y2="430.0"><stop offset="0.175" stop-color="#5c3270"/><stop offset="0.298" stop-color="#5c3270"/><stop offset="0.317" stop-color="#6a5a62"/><stop offset="0.336" stop-color="#878454"/><stop offset="0.367" stop-color="#989661"/><stop offset="0.413" stop-color="#979560"/><stop offset="0.459" stop-color="#95935f"/><stop offset="0.462" stop-color="#95935f"/><stop offset="0.493" stop-color="#878454"/><stop offset="0.539" stop-color="#625d42"/><stop offset="0.569" stop-color="#2a9ea4"/><stop offset="0.591" stop-color="#22c4c8"/><stop offset="0.762" stop-color="#625d42"/><stop offset="0.791" stop-color="#625d42"/><stop offset="0.814" stop-color="#2ab0b8"/><stop offset="0.837" stop-color="#26c4cc"/><stop offset="0.883" stop-color="#26c4cc"/><stop offset="0.929" stop-color="#26c4cc"/><stop offset="0.975" stop-color="#26c4cc"/><stop offset="0.992" stop-color="#2ab8c0"/></linearGradient>
<linearGradient id="c43" gradientUnits="userSpaceOnUse" x1="0" y1="300.0" x2="0" y2="430.0"><stop offset="0.180" stop-color="#5c3270"/><stop offset="0.251" stop-color="#5c3270"/><stop offset="0.271" stop-color="#6a5a62"/><stop offset="0.290" stop-color="#878454"/><stop offset="0.321" stop-color="#a1a068"/><stop offset="0.367" stop-color="#a09f67"/><stop offset="0.413" stop-color="#9f9d66"/><stop offset="0.459" stop-color="#9d9c65"/><stop offset="0.461" stop-color="#9d9c65"/><stop offset="0.492" stop-color="#878454"/><stop offset="0.538" stop-color="#625d42"/><stop offset="0.568" stop-color="#2a9ea4"/><stop offset="0.598" stop-color="#22c4c8"/><stop offset="0.770" stop-color="#625d42"/><stop offset="0.785" stop-color="#625d42"/><stop offset="0.808" stop-color="#2ab0b8"/><stop offset="0.831" stop-color="#26c4cc"/><stop offset="0.877" stop-color="#26c4cc"/><stop offset="0.923" stop-color="#26c4cc"/><stop offset="0.969" stop-color="#26c4cc"/><stop offset="0.992" stop-color="#2ab8c0"/></linearGradient>
<linearGradient id="c44" gradientUnits="userSpaceOnUse" x1="0" y1="300.0" x2="0" y2="430.0"><stop offset="0.185" stop-color="#5c3270"/><stop offset="0.322" stop-color="#5c3270"/><stop offset="0.341" stop-color="#6a5a62"/><stop offset="0.360" stop-color="#878454"/><stop offset="0.391" stop-color="#989661"/><stop offset="0.437" stop-color="#969460"/><stop offset="0.483" stop-color="#96935f"/><stop offset="0.484" stop-color="#96935f"/><stop offset="0.515" stop-color="#878454"/><stop offset="0.561" stop-color="#625d42"/><stop offset="0.592" stop-color="#2a9ea4"/><stop offset="0.606" stop-color="#22c4c8"/><stop offset="0.777" stop-color="#625d42"/><stop offset="0.799" stop-color="#625d42"/><stop offset="0.822" stop-color="#2ab0b8"/><stop offset="0.845" stop-color="#26c4cc"/><stop offset="0.891" stop-color="#26c4cc"/><stop offset="0.937" stop-color="#26c4cc"/><stop offset="0.984" stop-color="#26c4cc"/><stop offset="0.992" stop-color="#2ab8c0"/></linearGradient>
<linearGradient id="c45" gradientUnits="userSpaceOnUse" x1="0" y1="300.0" x2="0" y2="430.0"><stop offset="0.190" stop-color="#5c3270"/><stop offset="0.263" stop-color="#5c3270"/><stop offset="0.283" stop-color="#6a5a62"/><stop offset="0.302" stop-color="#878454"/><stop offset="0.333" stop-color="#979561"/><stop offset="0.379" stop-color="#969460"/><stop offset="0.425" stop-color="#95935f"/><stop offset="0.471" stop-color="#94925e"/><stop offset="0.484" stop-color="#94925e"/><stop offset="0.515" stop-color="#878454"/><stop offset="0.561" stop-color="#625d42"/><stop offset="0.592" stop-color="#2a9ea4"/><stop offset="0.614" stop-color="#22c4c8"/><stop offset="0.785" stop-color="#625d42"/><stop offset="0.793" stop-color="#625d42"/><stop offset="0.816" stop-color="#2ab0b8"/><stop offset="0.839" stop-color="#26c4cc"/><stop offset="0.885" stop-color="#26c4cc"/><stop offset="0.931" stop-color="#26c4cc"/><stop offset="0.977" stop-color="#26c4cc"/><stop offset="0.992" stop-color="#2ab8c0"/></linearGradient>
<linearGradient id="c46" gradientUnits="userSpaceOnUse" x1="0" y1="300.0" x2="0" y2="430.0"><stop offset="0.195" stop-color="#5c3270"/><stop offset="0.267" stop-color="#5c3270"/><stop offset="0.286" stop-color="#6a5a62"/><stop offset="0.306" stop-color="#878454"/><stop offset="0.336" stop-color="#999762"/><stop offset="0.383" stop-color="#989661"/><stop offset="0.429" stop-color="#979561"/><stop offset="0.475" stop-color="#999762"/><stop offset="0.505" stop-color="#999762"/><stop offset="0.536" stop-color="#878454"/><stop offset="0.582" stop-color="#625d42"/><stop offset="0.613" stop-color="#2a9ea4"/><stop offset="0.621" stop-color="#22c4c8"/><stop offset="0.793" stop-color="#625d42"/><stop offset="0.800" stop-color="#625d42"/><stop offset="0.823" stop-color="#2ab0b8"/><stop offset="0.847" stop-color="#26c4cc"/><stop offset="0.893" stop-color="#26c4cc"/><stop offset="0.939" stop-color="#26c4cc"/><stop offset="0.992" stop-color="#2ab8c0"/></linearGradient>
<linearGradient id="c47" gradientUnits="userSpaceOnUse" x1="0" y1="300.0" x2="0" y2="430.0"><stop offset="0.195" stop-color="#5c3270"/><stop offset="0.277" stop-color="#5c3270"/><stop offset="0.297" stop-color="#6a5a62"/><stop offset="0.316" stop-color="#878454"/><stop offset="0.347" stop-color="#999762"/><stop offset="0.393" stop-color="#989661"/><stop offset="0.439" stop-color="#999862"/><stop offset="0.485" stop-color="#a09e67"/><stop offset="0.518" stop-color="#a09e67"/><stop offset="0.548" stop-color="#878454"/><stop offset="0.595" stop-color="#625d42"/><stop offset="0.625" stop-color="#2a9ea4"/><stop offset="0.629" stop-color="#22c4c8"/><stop offset="0.800" stop-color="#625d42"/><stop offset="0.808" stop-color="#625d42"/><stop offset="0.831" stop-color="#2ab0b8"/><stop offset="0.854" stop-color="#26c4cc"/><stop offset="0.900" stop-color="#26c4cc"/><stop offset="0.946" stop-color="#26c4cc"/><stop offset="0.992" stop-color="#2ab8c0"/></linearGradient>
<linearGradient id="c48" gradientUnits="userSpaceOnUse" x1="0" y1="300.0" x2="0" y2="430.0"><stop offset="0.193" stop-color="#5c3270"/><stop offset="0.268" stop-color="#5c3270"/><stop offset="0.287" stop-color="#6a5a62"/><stop offset="0.306" stop-color="#878454"/><stop offset="0.337" stop-color="#8e8b59"/><stop offset="0.383" stop-color="#8e8b59"/><stop offset="0.429" stop-color="#92905d"/><stop offset="0.475" stop-color="#9a9863"/><stop offset="0.521" stop-color="#a4a26a"/><stop offset="0.524" stop-color="#a4a26a"/><stop offset="0.555" stop-color="#878454"/><stop offset="0.601" stop-color="#625d42"/><stop offset="0.631" stop-color="#2a9ea4"/><stop offset="0.636" stop-color="#22c4c8"/><stop offset="0.808" stop-color="#625d42"/><stop offset="0.816" stop-color="#625d42"/><stop offset="0.839" stop-color="#2ab0b8"/><stop offset="0.862" stop-color="#26c4cc"/><stop offset="0.908" stop-color="#26c4cc"/><stop offset="0.954" stop-color="#26c4cc"/><stop offset="0.992" stop-color="#2ab8c0"/></linearGradient>
<linearGradient id="c49" gradientUnits="userSpaceOnUse" x1="0" y1="300.0" x2="0" y2="430.0"><stop offset="0.190" stop-color="#5c3270"/><stop offset="0.260" stop-color="#5c3270"/><stop offset="0.279" stop-color="#6a5a62"/><stop offset="0.299" stop-color="#878454"/><stop offset="0.329" stop-color="#8d8a59"/><stop offset="0.376" stop-color="#908d5b"/><stop offset="0.422" stop-color="#979460"/><stop offset="0.468" stop-color="#a09e67"/><stop offset="0.508" stop-color="#a09e67"/><stop offset="0.538" stop-color="#878454"/><stop offset="0.585" stop-color="#625d42"/><stop offset="0.615" stop-color="#2a9ea4"/><stop offset="0.644" stop-color="#22c4c8"/><stop offset="0.816" stop-color="#625d42"/><stop offset="0.823" stop-color="#625d42"/><stop offset="0.846" stop-color="#2ab0b8"/><stop offset="0.869" stop-color="#26c4cc"/><stop offset="0.916" stop-color="#26c4cc"/><stop offset="0.962" stop-color="#26c4cc"/><stop offset="0.992" stop-color="#2ab8c0"/></linearGradient>
<linearGradient id="c50" gradientUnits="userSpaceOnUse" x1="0" y1="300.0" x2="0" y2="430.0"><stop offset="0.187" stop-color="#5c3270"/><stop offset="0.262" stop-color="#5c3270"/><stop offset="0.282" stop-color="#6a5a62"/><stop offset="0.301" stop-color="#878454"/><stop offset="0.332" stop-color="#9d9b65"/><stop offset="0.378" stop-color="#a4a26a"/><stop offset="0.424" stop-color="#acab71"/><stop offset="0.470" stop-color="#b1b076"/><stop offset="0.516" stop-color="#b6b57a"/><stop offset="0.535" stop-color="#b6b57a"/><stop offset="0.565" stop-color="#878454"/><stop offset="0.611" stop-color="#625d42"/><stop offset="0.642" stop-color="#2a9ea4"/><stop offset="0.652" stop-color="#22c4c8"/><stop offset="0.823" stop-color="#625d42"/><stop offset="0.831" stop-color="#625d42"/><stop offset="0.854" stop-color="#2ab0b8"/><stop offset="0.877" stop-color="#26c4cc"/><stop offset="0.923" stop-color="#26c4cc"/><stop offset="0.969" stop-color="#26c4cc"/><stop offset="0.992" stop-color="#2ab8c0"/></linearGradient>
<linearGradient id="c51" gradientUnits="userSpaceOnUse" x1="0" y1="300.0" x2="0" y2="430.0"><stop offset="0.185" stop-color="#5c3270"/><stop offset="0.268" stop-color="#5c3270"/><stop offset="0.287" stop-color="#6a5a62"/><stop offset="0.307" stop-color="#878454"/><stop offset="0.337" stop-color="#a2a069"/><stop offset="0.383" stop-color="#aaa96f"/><stop offset="0.430" stop-color="#b0af75"/><stop offset="0.476" stop-color="#b5b47a"/><stop offset="0.522" stop-color="#b8b77c"/><stop offset="0.546" stop-color="#b8b77c"/><stop offset="0.577" stop-color="#878454"/><stop offset="0.623" stop-color="#625d42"/><stop offset="0.654" stop-color="#2a9ea4"/><stop offset="0.659" stop-color="#22c4c8"/><stop offset="0.831" stop-color="#625d42"/><stop offset="0.838" stop-color="#625d42"/><stop offset="0.862" stop-color="#2ab0b8"/><stop offset="0.885" stop-color="#26c4cc"/><stop offset="0.931" stop-color="#26c4cc"/><stop offset="0.977" stop-color="#4aa09a"/><stop offset="0.992" stop-color="#2ab8c0"/></linearGradient>
<linearGradient id="c52" gradientUnits="userSpaceOnUse" x1="0" y1="300.0" x2="0" y2="430.0"><stop offset="0.185" stop-color="#5c3270"/><stop offset="0.318" stop-color="#5c3270"/><stop offset="0.337" stop-color="#6a5a62"/><stop offset="0.357" stop-color="#878454"/><stop offset="0.387" stop-color="#abaa70"/><stop offset="0.434" stop-color="#b0af75"/><stop offset="0.480" stop-color="#b3b277"/><stop offset="0.526" stop-color="#b3b277"/><stop offset="0.543" stop-color="#b3b277"/><stop offset="0.574" stop-color="#878454"/><stop offset="0.620" stop-color="#625d42"/><stop offset="0.650" stop-color="#2a9ea4"/><stop offset="0.666" stop-color="#22c4c8"/><stop offset="0.838" stop-color="#625d42"/><stop offset="0.846" stop-color="#625d42"/><stop offset="0.869" stop-color="#2ab0b8"/><stop offset="0.892" stop-color="#26c4cc"/><stop offset="0.938" stop-color="#26c4cc"/><stop offset="0.984" stop-color="#26c4cc"/><stop offset="0.992" stop-color="#2ab8c0"/></linearGradient>
<linearGradient id="c53" gradientUnits="userSpaceOnUse" x1="0" y1="300.0" x2="0" y2="430.0"><stop offset="0.185" stop-color="#5c3270"/><stop offset="0.258" stop-color="#5c3270"/><stop offset="0.277" stop-color="#6a5a62"/><stop offset="0.296" stop-color="#878454"/><stop offset="0.327" stop-color="#a2a169"/><stop offset="0.373" stop-color="#abaa70"/><stop offset="0.419" stop-color="#afae74"/><stop offset="0.465" stop-color="#b1b075"/><stop offset="0.512" stop-color="#afae74"/><stop offset="0.555" stop-color="#afae74"/><stop offset="0.586" stop-color="#878454"/><stop offset="0.632" stop-color="#625d42"/><stop offset="0.663" stop-color="#2a9ea4"/><stop offset="0.673" stop-color="#22c4c8"/><stop offset="0.845" stop-color="#625d42"/><stop offset="0.853" stop-color="#625d42"/><stop offset="0.876" stop-color="#2ab0b8"/><stop offset="0.899" stop-color="#26c4cc"/><stop offset="0.945" stop-color="#26c4cc"/><stop offset="0.992" stop-color="#2ab8c0"/></linearGradient>
<linearGradient id="c54" gradientUnits="userSpaceOnUse" x1="0" y1="300.0" x2="0" y2="430.0"><stop offset="0.185" stop-color="#5c3270"/><stop offset="0.286" stop-color="#5c3270"/><stop offset="0.305" stop-color="#6a5a62"/><stop offset="0.324" stop-color="#878454"/><stop offset="0.355" stop-color="#afae73"/><stop offset="0.401" stop-color="#b2b176"/><stop offset="0.447" stop-color="#b2b177"/><stop offset="0.493" stop-color="#b0af74"/><stop offset="0.540" stop-color="#acab71"/><stop offset="0.568" stop-color="#acab71"/><stop offset="0.599" stop-color="#878454"/><stop offset="0.645" stop-color="#625d42"/><stop offset="0.676" stop-color="#2a9ea4"/><stop offset="0.681" stop-color="#22c4c8"/><stop offset="0.852" stop-color="#625d42"/><stop offset="0.860" stop-color="#625d42"/><stop offset="0.883" stop-color="#2ab0b8"/><stop offset="0.906" stop-color="#26c4cc"/><stop offset="0.952" stop-color="#26c4cc"/><stop offset="0.992" stop-color="#2ab8c0"/></linearGradient>
<linearGradient id="c55" gradientUnits="userSpaceOnUse" x1="0" y1="300.0" x2="0" y2="430.0"><stop offset="0.185" stop-color="#5c3270"/><stop offset="0.290" stop-color="#5c3270"/><stop offset="0.310" stop-color="#6a5a62"/><stop offset="0.329" stop-color="#878454"/><stop offset="0.360" stop-color="#b7b67b"/><stop offset="0.406" stop-color="#b7b67b"/><stop offset="0.452" stop-color="#b5b479"/><stop offset="0.498" stop-color="#b1b076"/><stop offset="0.544" stop-color="#adac71"/><stop offset="0.565" stop-color="#adac71"/><stop offset="0.595" stop-color="#878454"/><stop offset="0.641" stop-color="#625d42"/><stop offset="0.672" stop-color="#2a9ea4"/><stop offset="0.688" stop-color="#22c4c8"/><stop offset="0.859" stop-color="#625d42"/><stop offset="0.867" stop-color="#625d42"/><stop offset="0.890" stop-color="#2ab0b8"/><stop offset="0.913" stop-color="#26c4cc"/><stop offset="0.959" stop-color="#26c4cc"/><stop offset="0.992" stop-color="#2ab8c0"/></linearGradient>
<linearGradient id="c56" gradientUnits="userSpaceOnUse" x1="0" y1="300.0" x2="0" y2="430.0"><stop offset="0.183" stop-color="#5c3270"/><stop offset="0.274" stop-color="#5c3270"/><stop offset="0.293" stop-color="#6a5a62"/><stop offset="0.312" stop-color="#878454"/><stop offset="0.343" stop-color="#b9b87d"/><stop offset="0.389" stop-color="#b8b77c"/><stop offset="0.435" stop-color="#b5b479"/><stop offset="0.481" stop-color="#b1b075"/><stop offset="0.527" stop-color="#acab71"/><stop offset="0.574" stop-color="#a8a76e"/><stop offset="0.587" stop-color="#a8a76e"/><stop offset="0.618" stop-color="#878454"/><stop offset="0.664" stop-color="#625d42"/><stop offset="0.695" stop-color="#22c4c8"/><stop offset="0.695" stop-color="#2a9ea4"/><stop offset="0.866" stop-color="#625d42"/><stop offset="0.874" stop-color="#625d42"/><stop offset="0.897" stop-color="#2ab0b8"/><stop offset="0.920" stop-color="#26c4cc"/><stop offset="0.966" stop-color="#26c4cc"/><stop offset="0.992" stop-color="#2ab8c0"/></linearGradient>
<linearGradient id="c57" gradientUnits="userSpaceOnUse" x1="0" y1="300.0" x2="0" y2="430.0"><stop offset="0.172" stop-color="#5c3270"/><stop offset="0.273" stop-color="#5c3270"/><stop offset="0.292" stop-color="#6a5a62"/><stop offset="0.311" stop-color="#878454"/><stop offset="0.342" stop-color="#b0af75"/><stop offset="0.388" stop-color="#adac72"/><stop offset="0.434" stop-color="#a9a86e"/><stop offset="0.480" stop-color="#a1a068"/><stop offset="0.526" stop-color="#9b9964"/><stop offset="0.568" stop-color="#9b9964"/><stop offset="0.599" stop-color="#878454"/><stop offset="0.645" stop-color="#625d42"/><stop offset="0.676" stop-color="#2a9ea4"/><stop offset="0.702" stop-color="#22c4c8"/><stop offset="0.873" stop-color="#625d42"/><stop offset="0.881" stop-color="#625d42"/><stop offset="0.904" stop-color="#2ab0b8"/><stop offset="0.927" stop-color="#26c4cc"/><stop offset="0.973" stop-color="#26c4cc"/><stop offset="0.992" stop-color="#2ab8c0"/></linearGradient>
<linearGradient id="c58" gradientUnits="userSpaceOnUse" x1="0" y1="300.0" x2="0" y2="430.0"><stop offset="0.160" stop-color="#5c3270"/><stop offset="0.227" stop-color="#5c3270"/><stop offset="0.246" stop-color="#6a5a62"/><stop offset="0.265" stop-color="#878454"/><stop offset="0.296" stop-color="#b9b87d"/><stop offset="0.342" stop-color="#b6b57b"/><stop offset="0.389" stop-color="#b2b177"/><stop offset="0.435" stop-color="#aead73"/><stop offset="0.481" stop-color="#aaa96f"/><stop offset="0.527" stop-color="#a5a46c"/><stop offset="0.573" stop-color="#a5a36b"/><stop offset="0.590" stop-color="#a5a36b"/><stop offset="0.621" stop-color="#878454"/><stop offset="0.667" stop-color="#625d42"/><stop offset="0.698" stop-color="#2a9ea4"/><stop offset="0.709" stop-color="#22c4c8"/><stop offset="0.881" stop-color="#625d42"/><stop offset="0.888" stop-color="#625d42"/><stop offset="0.911" stop-color="#2ab0b8"/><stop offset="0.934" stop-color="#4aa09a"/><stop offset="0.981" stop-color="#4aa09a"/><stop offset="0.992" stop-color="#2ab8c0"/></linearGradient>
<linearGradient id="c59" gradientUnits="userSpaceOnUse" x1="0" y1="300.0" x2="0" y2="430.0"><stop offset="0.149" stop-color="#5c3270"/><stop offset="0.219" stop-color="#5c3270"/><stop offset="0.239" stop-color="#6a5a62"/><stop offset="0.258" stop-color="#878454"/><stop offset="0.289" stop-color="#b7b67c"/><stop offset="0.335" stop-color="#b4b378"/><stop offset="0.381" stop-color="#b0af74"/><stop offset="0.427" stop-color="#abaa70"/><stop offset="0.473" stop-color="#a7a66c"/><stop offset="0.519" stop-color="#a5a36b"/><stop offset="0.565" stop-color="#a5a36b"/><stop offset="0.592" stop-color="#a5a36b"/><stop offset="0.622" stop-color="#878454"/><stop offset="0.668" stop-color="#625d42"/><stop offset="0.699" stop-color="#2a9ea4"/><stop offset="0.716" stop-color="#22c4c8"/><stop offset="0.888" stop-color="#625d42"/><stop offset="0.895" stop-color="#625d42"/><stop offset="0.918" stop-color="#2ab0b8"/><stop offset="0.941" stop-color="#4aa09a"/><stop offset="0.992" stop-color="#2ab8c0"/></linearGradient>
<linearGradient id="c60" gradientUnits="userSpaceOnUse" x1="0" y1="300.0" x2="0" y2="430.0"><stop offset="0.142" stop-color="#5c3270"/><stop offset="0.214" stop-color="#5c3270"/><stop offset="0.233" stop-color="#6a5a62"/><stop offset="0.252" stop-color="#878454"/><stop offset="0.283" stop-color="#b3b278"/><stop offset="0.329" stop-color="#afae74"/><stop offset="0.375" stop-color="#aaa96f"/><stop offset="0.421" stop-color="#a5a36b"/><stop offset="0.468" stop-color="#a1a068"/><stop offset="0.514" stop-color="#a1a068"/><stop offset="0.560" stop-color="#a1a068"/><stop offset="0.590" stop-color="#a1a068"/><stop offset="0.620" stop-color="#878454"/><stop offset="0.667" stop-color="#625d42"/><stop offset="0.697" stop-color="#2a9ea4"/><stop offset="0.723" stop-color="#22c4c8"/><stop offset="0.895" stop-color="#625d42"/><stop offset="0.902" stop-color="#625d42"/><stop offset="0.925" stop-color="#2ab0b8"/><stop offset="0.949" stop-color="#26c4cc"/><stop offset="0.992" stop-color="#2ab8c0"/></linearGradient>
<linearGradient id="c61" gradientUnits="userSpaceOnUse" x1="0" y1="300.0" x2="0" y2="430.0"><stop offset="0.136" stop-color="#5c3270"/><stop offset="0.225" stop-color="#5c3270"/><stop offset="0.244" stop-color="#6a5a62"/><stop offset="0.263" stop-color="#878454"/><stop offset="0.294" stop-color="#adac71"/><stop offset="0.340" stop-color="#a7a66d"/><stop offset="0.386" stop-color="#a19f68"/><stop offset="0.432" stop-color="#9e9c66"/><stop offset="0.478" stop-color="#9e9c65"/><stop offset="0.525" stop-color="#9e9c65"/><stop offset="0.571" stop-color="#9e9c66"/><stop offset="0.596" stop-color="#9e9c66"/><stop offset="0.627" stop-color="#878454"/><stop offset="0.673" stop-color="#625d42"/><stop offset="0.704" stop-color="#2a9ea4"/><stop offset="0.730" stop-color="#22c4c8"/><stop offset="0.902" stop-color="#625d42"/><stop offset="0.910" stop-color="#625d42"/><stop offset="0.933" stop-color="#2ab0b8"/><stop offset="0.956" stop-color="#4aa09a"/><stop offset="0.992" stop-color="#2ab8c0"/></linearGradient>
<linearGradient id="c62" gradientUnits="userSpaceOnUse" x1="0" y1="300.0" x2="0" y2="430.0"><stop offset="0.130" stop-color="#5c3270"/><stop offset="0.202" stop-color="#5c3270"/><stop offset="0.221" stop-color="#6a5a62"/><stop offset="0.241" stop-color="#878454"/><stop offset="0.271" stop-color="#a8a76e"/><stop offset="0.318" stop-color="#a1a068"/><stop offset="0.364" stop-color="#9c9a64"/><stop offset="0.410" stop-color="#9a9863"/><stop offset="0.456" stop-color="#9a9863"/><stop offset="0.502" stop-color="#9a9863"/><stop offset="0.548" stop-color="#9a9863"/><stop offset="0.595" stop-color="#9a9863"/><stop offset="0.617" stop-color="#9a9863"/><stop offset="0.648" stop-color="#878454"/><stop offset="0.694" stop-color="#625d42"/><stop offset="0.725" stop-color="#2a9ea4"/><stop offset="0.738" stop-color="#22c4c8"/><stop offset="0.909" stop-color="#625d42"/><stop offset="0.917" stop-color="#625d42"/><stop offset="0.940" stop-color="#2ab0b8"/><stop offset="0.963" stop-color="#26c4cc"/><stop offset="0.992" stop-color="#2ab8c0"/></linearGradient>
<linearGradient id="c63" gradientUnits="userSpaceOnUse" x1="0" y1="300.0" x2="0" y2="430.0"><stop offset="0.124" stop-color="#5c3270"/><stop offset="0.166" stop-color="#5c3270"/><stop offset="0.185" stop-color="#6a5a62"/><stop offset="0.204" stop-color="#878454"/><stop offset="0.235" stop-color="#a3a26a"/><stop offset="0.281" stop-color="#9c9a64"/><stop offset="0.327" stop-color="#979560"/><stop offset="0.373" stop-color="#95935f"/><stop offset="0.420" stop-color="#95935f"/><stop offset="0.466" stop-color="#95935f"/><stop offset="0.512" stop-color="#95935f"/><stop offset="0.558" stop-color="#95935f"/><stop offset="0.604" stop-color="#95935f"/><stop offset="0.626" stop-color="#95935f"/><stop offset="0.657" stop-color="#878454"/><stop offset="0.703" stop-color="#625d42"/><stop offset="0.734" stop-color="#2a9ea4"/><stop offset="0.745" stop-color="#22c4c8"/><stop offset="0.917" stop-color="#625d42"/><stop offset="0.924" stop-color="#625d42"/><stop offset="0.947" stop-color="#2ab0b8"/><stop offset="0.971" stop-color="#26c4cc"/><stop offset="0.992" stop-color="#2ab8c0"/></linearGradient>
<linearGradient id="c64" gradientUnits="userSpaceOnUse" x1="0" y1="300.0" x2="0" y2="430.0"><stop offset="0.126" stop-color="#5c3270"/><stop offset="0.178" stop-color="#5c3270"/><stop offset="0.197" stop-color="#6a5a62"/><stop offset="0.217" stop-color="#878454"/><stop offset="0.247" stop-color="#9b9963"/><stop offset="0.293" stop-color="#96935f"/><stop offset="0.340" stop-color="#94925e"/><stop offset="0.386" stop-color="#94925e"/><stop offset="0.432" stop-color="#94925e"/><stop offset="0.478" stop-color="#94925e"/><stop offset="0.524" stop-color="#94925e"/><stop offset="0.570" stop-color="#94925e"/><stop offset="0.612" stop-color="#94925e"/><stop offset="0.643" stop-color="#878454"/><stop offset="0.689" stop-color="#625d42"/><stop offset="0.720" stop-color="#2a9ea4"/><stop offset="0.753" stop-color="#22c4c8"/><stop offset="0.924" stop-color="#625d42"/><stop offset="0.932" stop-color="#625d42"/><stop offset="0.955" stop-color="#2ab0b8"/><stop offset="0.978" stop-color="#26c4cc"/><stop offset="0.992" stop-color="#2ab8c0"/></linearGradient>
<linearGradient id="c65" gradientUnits="userSpaceOnUse" x1="0" y1="300.0" x2="0" y2="430.0"><stop offset="0.129" stop-color="#5c3270"/><stop offset="0.185" stop-color="#5c3270"/><stop offset="0.204" stop-color="#6a5a62"/><stop offset="0.223" stop-color="#878454"/><stop offset="0.254" stop-color="#a7a66d"/><stop offset="0.300" stop-color="#a6a46c"/><stop offset="0.346" stop-color="#a6a46c"/><stop offset="0.393" stop-color="#a6a46c"/><stop offset="0.439" stop-color="#a6a46c"/><stop offset="0.485" stop-color="#a6a56c"/><stop offset="0.531" stop-color="#a6a56c"/><stop offset="0.577" stop-color="#a6a56c"/><stop offset="0.618" stop-color="#a6a56c"/><stop offset="0.648" stop-color="#878454"/><stop offset="0.694" stop-color="#625d42"/><stop offset="0.725" stop-color="#2a9ea4"/><stop offset="0.760" stop-color="#22c4c8"/><stop offset="0.932" stop-color="#625d42"/><stop offset="0.939" stop-color="#625d42"/><stop offset="0.962" stop-color="#2ab0b8"/><stop offset="0.992" stop-color="#2ab8c0"/></linearGradient>
<linearGradient id="c66" gradientUnits="userSpaceOnUse" x1="0" y1="300.0" x2="0" y2="430.0"><stop offset="0.132" stop-color="#5c3270"/><stop offset="0.200" stop-color="#5c3270"/><stop offset="0.219" stop-color="#6a5a62"/><stop offset="0.238" stop-color="#878454"/><stop offset="0.269" stop-color="#9a9863"/><stop offset="0.315" stop-color="#9a9863"/><stop offset="0.361" stop-color="#9a9863"/><stop offset="0.407" stop-color="#9a9863"/><stop offset="0.453" stop-color="#9a9863"/><stop offset="0.500" stop-color="#9a9863"/><stop offset="0.546" stop-color="#9a9863"/><stop offset="0.592" stop-color="#9e9c66"/><stop offset="0.638" stop-color="#a5a36b"/><stop offset="0.648" stop-color="#a5a36b"/><stop offset="0.678" stop-color="#878454"/><stop offset="0.725" stop-color="#625d42"/><stop offset="0.755" stop-color="#2a9ea4"/><stop offset="0.768" stop-color="#22c4c8"/><stop offset="0.939" stop-color="#625d42"/><stop offset="0.947" stop-color="#625d42"/><stop offset="0.970" stop-color="#2ab0b8"/><stop offset="0.992" stop-color="#2ab8c0"/></linearGradient>
<linearGradient id="c67" gradientUnits="userSpaceOnUse" x1="0" y1="300.0" x2="0" y2="430.0"><stop offset="0.135" stop-color="#5c3270"/><stop offset="0.180" stop-color="#5c3270"/><stop offset="0.199" stop-color="#6a5a62"/><stop offset="0.218" stop-color="#878454"/><stop offset="0.249" stop-color="#9e9d66"/><stop offset="0.295" stop-color="#9e9d66"/><stop offset="0.341" stop-color="#9e9d66"/><stop offset="0.387" stop-color="#9e9d66"/><stop offset="0.434" stop-color="#9e9d66"/><stop offset="0.480" stop-color="#9e9d66"/><stop offset="0.526" stop-color="#9f9e67"/><stop offset="0.572" stop-color="#a4a36b"/><stop offset="0.618" stop-color="#abaa70"/><stop offset="0.642" stop-color="#abaa70"/><stop offset="0.673" stop-color="#878454"/><stop offset="0.719" stop-color="#625d42"/><stop offset="0.750" stop-color="#2a9ea4"/><stop offset="0.775" stop-color="#22c4c8"/><stop offset="0.947" stop-color="#625d42"/><stop offset="0.954" stop-color="#625d42"/><stop offset="0.977" stop-color="#2ab0b8"/><stop offset="0.992" stop-color="#2ab8c0"/></linearGradient>
<linearGradient id="c68" gradientUnits="userSpaceOnUse" x1="0" y1="300.0" x2="0" y2="430.0"><stop offset="0.142" stop-color="#5c3270"/><stop offset="0.223" stop-color="#5c3270"/><stop offset="0.242" stop-color="#6a5a62"/><stop offset="0.262" stop-color="#878454"/><stop offset="0.292" stop-color="#9d9b65"/><stop offset="0.339" stop-color="#9d9b65"/><stop offset="0.385" stop-color="#9d9b65"/><stop offset="0.431" stop-color="#9d9b65"/><stop offset="0.477" stop-color="#9d9b65"/><stop offset="0.523" stop-color="#a1a068"/><stop offset="0.569" stop-color="#a8a76e"/><stop offset="0.616" stop-color="#aead73"/><stop offset="0.648" stop-color="#aead73"/><stop offset="0.679" stop-color="#878454"/><stop offset="0.725" stop-color="#625d42"/><stop offset="0.756" stop-color="#2a9ea4"/><stop offset="0.783" stop-color="#22c4c8"/><stop offset="0.954" stop-color="#625d42"/><stop offset="0.962" stop-color="#625d42"/><stop offset="0.985" stop-color="#2ab0b8"/><stop offset="0.992" stop-color="#2ab8c0"/></linearGradient>
<linearGradient id="c69" gradientUnits="userSpaceOnUse" x1="0" y1="300.0" x2="0" y2="430.0"><stop offset="0.150" stop-color="#5c3270"/><stop offset="0.223" stop-color="#5c3270"/><stop offset="0.243" stop-color="#6a5a62"/><stop offset="0.262" stop-color="#878454"/><stop offset="0.293" stop-color="#9c9a64"/><stop offset="0.339" stop-color="#9c9a64"/><stop offset="0.385" stop-color="#9c9a64"/><stop offset="0.431" stop-color="#9c9a64"/><stop offset="0.477" stop-color="#9f9e67"/><stop offset="0.523" stop-color="#a6a56c"/><stop offset="0.570" stop-color="#adac71"/><stop offset="0.616" stop-color="#b2b176"/><stop offset="0.647" stop-color="#b2b176"/><stop offset="0.677" stop-color="#878454"/><stop offset="0.724" stop-color="#625d42"/><stop offset="0.754" stop-color="#2a9ea4"/><stop offset="0.790" stop-color="#22c4c8"/><stop offset="0.962" stop-color="#625d42"/><stop offset="0.969" stop-color="#625d42"/><stop offset="0.992" stop-color="#2ab8c0"/><stop offset="0.993" stop-color="#2ab0b8"/></linearGradient>
<linearGradient id="c70" gradientUnits="userSpaceOnUse" x1="0" y1="300.0" x2="0" y2="430.0"><stop offset="0.158" stop-color="#5c3270"/><stop offset="0.237" stop-color="#5c3270"/><stop offset="0.256" stop-color="#6a5a62"/><stop offset="0.276" stop-color="#878454"/><stop offset="0.306" stop-color="#a3a26a"/><stop offset="0.353" stop-color="#a3a26a"/><stop offset="0.399" stop-color="#a3a26a"/><stop offset="0.445" stop-color="#a7a66d"/><stop offset="0.491" stop-color="#acab71"/><stop offset="0.537" stop-color="#b1b076"/><stop offset="0.583" stop-color="#b6b57b"/><stop offset="0.629" stop-color="#bab97e"/><stop offset="0.676" stop-color="#bbba7f"/><stop offset="0.676" stop-color="#bbba7f"/><stop offset="0.707" stop-color="#878454"/><stop offset="0.753" stop-color="#625d42"/><stop offset="0.783" stop-color="#2a9ea4"/><stop offset="0.798" stop-color="#22c4c8"/><stop offset="0.969" stop-color="#625d42"/><stop offset="0.977" stop-color="#625d42"/><stop offset="0.992" stop-color="#2ab8c0"/><stop offset="1.000" stop-color="#2ab0b8"/></linearGradient>
<linearGradient id="c71" gradientUnits="userSpaceOnUse" x1="0" y1="300.0" x2="0" y2="430.0"><stop offset="0.165" stop-color="#5c3270"/><stop offset="0.246" stop-color="#5c3270"/><stop offset="0.265" stop-color="#6a5a62"/><stop offset="0.284" stop-color="#878454"/><stop offset="0.315" stop-color="#9f9d66"/><stop offset="0.361" stop-color="#9f9e67"/><stop offset="0.407" stop-color="#a3a169"/><stop offset="0.454" stop-color="#aaa96f"/><stop offset="0.500" stop-color="#afae74"/><stop offset="0.546" stop-color="#b4b378"/><stop offset="0.592" stop-color="#b7b67b"/><stop offset="0.638" stop-color="#b8b77c"/><stop offset="0.656" stop-color="#b8b77c"/><stop offset="0.687" stop-color="#878454"/><stop offset="0.733" stop-color="#625d42"/><stop offset="0.764" stop-color="#2a9ea4"/><stop offset="0.805" stop-color="#22c4c8"/><stop offset="0.977" stop-color="#625d42"/><stop offset="0.984" stop-color="#625d42"/><stop offset="0.992" stop-color="#2ab8c0"/><stop offset="1.000" stop-color="#2ab0b8"/></linearGradient>
<linearGradient id="c72" gradientUnits="userSpaceOnUse" x1="0" y1="300.0" x2="0" y2="430.0"><stop offset="0.173" stop-color="#5c3270"/><stop offset="0.220" stop-color="#5c3270"/><stop offset="0.240" stop-color="#6a5a62"/><stop offset="0.259" stop-color="#878454"/><stop offset="0.290" stop-color="#999762"/><stop offset="0.336" stop-color="#9a9863"/><stop offset="0.382" stop-color="#9e9d66"/><stop offset="0.428" stop-color="#a6a56c"/><stop offset="0.474" stop-color="#adac72"/><stop offset="0.520" stop-color="#b1b076"/><stop offset="0.566" stop-color="#b4b379"/><stop offset="0.613" stop-color="#b5b479"/><stop offset="0.659" stop-color="#b4b379"/><stop offset="0.659" stop-color="#b4b379"/><stop offset="0.690" stop-color="#878454"/><stop offset="0.736" stop-color="#625d42"/><stop offset="0.767" stop-color="#2a9ea4"/><stop offset="0.813" stop-color="#22c4c8"/></linearGradient>
<linearGradient id="c73" gradientUnits="userSpaceOnUse" x1="0" y1="300.0" x2="0" y2="430.0"><stop offset="0.175" stop-color="#5c3270"/><stop offset="0.238" stop-color="#5c3270"/><stop offset="0.257" stop-color="#6a5a62"/><stop offset="0.276" stop-color="#878454"/><stop offset="0.307" stop-color="#989661"/><stop offset="0.353" stop-color="#9d9c65"/><stop offset="0.399" stop-color="#a5a46b"/><stop offset="0.445" stop-color="#acab71"/><stop offset="0.491" stop-color="#b1b075"/><stop offset="0.538" stop-color="#b3b278"/><stop offset="0.584" stop-color="#b3b278"/><stop offset="0.630" stop-color="#b3b277"/><stop offset="0.676" stop-color="#b2b177"/><stop offset="0.686" stop-color="#b2b177"/><stop offset="0.717" stop-color="#878454"/><stop offset="0.763" stop-color="#625d42"/><stop offset="0.793" stop-color="#2a9ea4"/><stop offset="0.820" stop-color="#22c4c8"/></linearGradient>
<linearGradient id="c74" gradientUnits="userSpaceOnUse" x1="0" y1="300.0" x2="0" y2="430.0"><stop offset="0.178" stop-color="#5c3270"/><stop offset="0.250" stop-color="#5c3270"/><stop offset="0.270" stop-color="#6a5a62"/><stop offset="0.289" stop-color="#878454"/><stop offset="0.320" stop-color="#a6a56c"/><stop offset="0.366" stop-color="#acab71"/><stop offset="0.412" stop-color="#b2b176"/><stop offset="0.458" stop-color="#b6b57a"/><stop offset="0.504" stop-color="#b8b77c"/><stop offset="0.550" stop-color="#b8b77c"/><stop offset="0.597" stop-color="#b8b77c"/><stop offset="0.643" stop-color="#b7b67b"/><stop offset="0.667" stop-color="#b7b67b"/><stop offset="0.698" stop-color="#878454"/><stop offset="0.744" stop-color="#625d42"/><stop offset="0.775" stop-color="#2a9ea4"/><stop offset="0.828" stop-color="#22c4c8"/></linearGradient>
<linearGradient id="c75" gradientUnits="userSpaceOnUse" x1="0" y1="300.0" x2="0" y2="430.0"><stop offset="0.180" stop-color="#5c3270"/><stop offset="0.255" stop-color="#5c3270"/><stop offset="0.275" stop-color="#6a5a62"/><stop offset="0.294" stop-color="#878454"/><stop offset="0.325" stop-color="#a8a76d"/><stop offset="0.371" stop-color="#aead73"/><stop offset="0.417" stop-color="#b2b177"/><stop offset="0.463" stop-color="#b5b479"/><stop offset="0.509" stop-color="#b5b479"/><stop offset="0.555" stop-color="#b5b479"/><stop offset="0.602" stop-color="#b4b378"/><stop offset="0.648" stop-color="#b3b278"/><stop offset="0.678" stop-color="#b3b278"/><stop offset="0.709" stop-color="#878454"/><stop offset="0.755" stop-color="#625d42"/><stop offset="0.786" stop-color="#2a9ea4"/><stop offset="0.834" stop-color="#22c4c8"/></linearGradient>
<linearGradient id="c76" gradientUnits="userSpaceOnUse" x1="0" y1="300.0" x2="0" y2="430.0"><stop offset="0.183" stop-color="#5c3270"/><stop offset="0.226" stop-color="#5c3270"/><stop offset="0.245" stop-color="#6a5a62"/><stop offset="0.264" stop-color="#878454"/><stop offset="0.295" stop-color="#a5a46b"/><stop offset="0.341" stop-color="#acab71"/><stop offset="0.387" stop-color="#b1b075"/><stop offset="0.433" stop-color="#b3b277"/><stop offset="0.479" stop-color="#b3b277"/><stop offset="0.526" stop-color="#b2b177"/><stop offset="0.572" stop-color="#b1b076"/><stop offset="0.618" stop-color="#b1b075"/><stop offset="0.664" stop-color="#b0af75"/><stop offset="0.668" stop-color="#b0af75"/><stop offset="0.698" stop-color="#878454"/><stop offset="0.744" stop-color="#625d42"/><stop offset="0.775" stop-color="#2a9ea4"/><stop offset="0.836" stop-color="#22c4c8"/></linearGradient>
<linearGradient id="c77" gradientUnits="userSpaceOnUse" x1="0" y1="300.0" x2="0" y2="430.0"><stop offset="0.185" stop-color="#5c3270"/><stop offset="0.239" stop-color="#5c3270"/><stop offset="0.258" stop-color="#6a5a62"/><stop offset="0.277" stop-color="#878454"/><stop offset="0.308" stop-color="#afae73"/><stop offset="0.354" stop-color="#b3b277"/><stop offset="0.401" stop-color="#b5b479"/><stop offset="0.447" stop-color="#b5b479"/><stop offset="0.493" stop-color="#b4b378"/><stop offset="0.539" stop-color="#b3b278"/><stop offset="0.585" stop-color="#b3b277"/><stop offset="0.631" stop-color="#b2b177"/><stop offset="0.671" stop-color="#b2b177"/><stop offset="0.702" stop-color="#878454"/><stop offset="0.748" stop-color="#625d42"/><stop offset="0.779" stop-color="#2a9ea4"/><stop offset="0.838" stop-color="#22c4c8"/></linearGradient>
<linearGradient id="c78" gradientUnits="userSpaceOnUse" x1="0" y1="300.0" x2="0" y2="430.0"><stop offset="0.188" stop-color="#5c3270"/><stop offset="0.251" stop-color="#5c3270"/><stop offset="0.270" stop-color="#6a5a62"/><stop offset="0.289" stop-color="#878454"/><stop offset="0.320" stop-color="#b6b57b"/><stop offset="0.366" stop-color="#b8b77c"/><stop offset="0.412" stop-color="#b8b77c"/><stop offset="0.459" stop-color="#b7b67c"/><stop offset="0.505" stop-color="#b7b67b"/><stop offset="0.551" stop-color="#b6b57a"/><stop offset="0.597" stop-color="#b5b47a"/><stop offset="0.643" stop-color="#b5b479"/><stop offset="0.677" stop-color="#b5b479"/><stop offset="0.707" stop-color="#878454"/><stop offset="0.754" stop-color="#625d42"/><stop offset="0.784" stop-color="#2a9ea4"/><stop offset="0.841" stop-color="#22c4c8"/></linearGradient>
<linearGradient id="c79" gradientUnits="userSpaceOnUse" x1="0" y1="300.0" x2="0" y2="430.0"><stop offset="0.191" stop-color="#5c3270"/><stop offset="0.244" stop-color="#5c3270"/><stop offset="0.263" stop-color="#6a5a62"/><stop offset="0.282" stop-color="#878454"/><stop offset="0.313" stop-color="#bbba7f"/><stop offset="0.359" stop-color="#bbba7f"/><stop offset="0.405" stop-color="#bbba7f"/><stop offset="0.451" stop-color="#bab97e"/><stop offset="0.498" stop-color="#b9b87d"/><stop offset="0.544" stop-color="#b9b87d"/><stop offset="0.590" stop-color="#b8b77d"/><stop offset="0.636" stop-color="#b8b77c"/><stop offset="0.682" stop-color="#b6b57a"/><stop offset="0.695" stop-color="#b6b57a"/><stop offset="0.726" stop-color="#878454"/><stop offset="0.772" stop-color="#625d42"/><stop offset="0.803" stop-color="#2a9ea4"/><stop offset="0.843" stop-color="#22c4c8"/></linearGradient>
<linearGradient id="c80" gradientUnits="userSpaceOnUse" x1="0" y1="300.0" x2="0" y2="430.0"><stop offset="0.193" stop-color="#5c3270"/><stop offset="0.256" stop-color="#5c3270"/><stop offset="0.275" stop-color="#6a5a62"/><stop offset="0.294" stop-color="#878454"/><stop offset="0.325" stop-color="#b8b77d"/><stop offset="0.371" stop-color="#b8b77c"/><stop offset="0.418" stop-color="#b7b67c"/><stop offset="0.464" stop-color="#b7b67b"/><stop offset="0.510" stop-color="#b6b57a"/><stop offset="0.556" stop-color="#b6b57a"/><stop offset="0.602" stop-color="#b5b479"/><stop offset="0.648" stop-color="#b3b277"/><stop offset="0.694" stop-color="#afae74"/><stop offset="0.699" stop-color="#afae74"/><stop offset="0.730" stop-color="#878454"/><stop offset="0.776" stop-color="#625d42"/><stop offset="0.806" stop-color="#2a9ea4"/><stop offset="0.845" stop-color="#22c4c8"/></linearGradient>
<linearGradient id="c81" gradientUnits="userSpaceOnUse" x1="0" y1="300.0" x2="0" y2="430.0"><stop offset="0.196" stop-color="#5c3270"/><stop offset="0.249" stop-color="#5c3270"/><stop offset="0.269" stop-color="#6a5a62"/><stop offset="0.288" stop-color="#878454"/><stop offset="0.319" stop-color="#b5b479"/><stop offset="0.365" stop-color="#b4b378"/><stop offset="0.411" stop-color="#b3b278"/><stop offset="0.457" stop-color="#b3b277"/><stop offset="0.503" stop-color="#b2b177"/><stop offset="0.549" stop-color="#b2b176"/><stop offset="0.596" stop-color="#b0af75"/><stop offset="0.642" stop-color="#adac72"/><stop offset="0.681" stop-color="#adac72"/><stop offset="0.712" stop-color="#878454"/><stop offset="0.758" stop-color="#625d42"/><stop offset="0.789" stop-color="#2a9ea4"/><stop offset="0.847" stop-color="#22c4c8"/></linearGradient>
<linearGradient id="c82" gradientUnits="userSpaceOnUse" x1="0" y1="300.0" x2="0" y2="430.0"><stop offset="0.194" stop-color="#5c3270"/><stop offset="0.256" stop-color="#5c3270"/><stop offset="0.275" stop-color="#6a5a62"/><stop offset="0.294" stop-color="#878454"/><stop offset="0.325" stop-color="#b9b87d"/><stop offset="0.371" stop-color="#b8b77c"/><stop offset="0.417" stop-color="#b7b67c"/><stop offset="0.463" stop-color="#b7b67b"/><stop offset="0.510" stop-color="#b7b67b"/><stop offset="0.556" stop-color="#b5b479"/><stop offset="0.602" stop-color="#b2b176"/><stop offset="0.648" stop-color="#aead73"/><stop offset="0.693" stop-color="#aead73"/><stop offset="0.724" stop-color="#878454"/><stop offset="0.770" stop-color="#625d42"/><stop offset="0.801" stop-color="#2a9ea4"/><stop offset="0.850" stop-color="#22c4c8"/></linearGradient>
<linearGradient id="c83" gradientUnits="userSpaceOnUse" x1="0" y1="300.0" x2="0" y2="430.0"><stop offset="0.189" stop-color="#5c3270"/><stop offset="0.286" stop-color="#5c3270"/><stop offset="0.306" stop-color="#6a5a62"/><stop offset="0.325" stop-color="#878454"/><stop offset="0.356" stop-color="#b6b57a"/><stop offset="0.402" stop-color="#b5b47a"/><stop offset="0.448" stop-color="#b5b479"/><stop offset="0.494" stop-color="#b4b379"/><stop offset="0.540" stop-color="#b2b176"/><stop offset="0.586" stop-color="#aead73"/><stop offset="0.632" stop-color="#aaa96f"/><stop offset="0.679" stop-color="#a5a46b"/><stop offset="0.698" stop-color="#a5a46b"/><stop offset="0.729" stop-color="#878454"/><stop offset="0.775" stop-color="#625d42"/><stop offset="0.806" stop-color="#2a9ea4"/><stop offset="0.852" stop-color="#22c4c8"/></linearGradient>
<linearGradient id="c84" gradientUnits="userSpaceOnUse" x1="0" y1="300.0" x2="0" y2="430.0"><stop offset="0.184" stop-color="#5c3270"/><stop offset="0.247" stop-color="#5c3270"/><stop offset="0.266" stop-color="#6a5a62"/><stop offset="0.285" stop-color="#878454"/><stop offset="0.316" stop-color="#b1b076"/><stop offset="0.362" stop-color="#b0af75"/><stop offset="0.408" stop-color="#b0af75"/><stop offset="0.455" stop-color="#afae74"/><stop offset="0.501" stop-color="#adac72"/><stop offset="0.547" stop-color="#a9a86e"/><stop offset="0.593" stop-color="#a3a169"/><stop offset="0.639" stop-color="#9d9b65"/><stop offset="0.685" stop-color="#9a9863"/><stop offset="0.716" stop-color="#9a9863"/><stop offset="0.746" stop-color="#878454"/><stop offset="0.792" stop-color="#625d42"/><stop offset="0.823" stop-color="#2a9ea4"/><stop offset="0.854" stop-color="#22c4c8"/></linearGradient>
<linearGradient id="c85" gradientUnits="userSpaceOnUse" x1="0" y1="300.0" x2="0" y2="430.0"><stop offset="0.179" stop-color="#5c3270"/><stop offset="0.234" stop-color="#5c3270"/><stop offset="0.253" stop-color="#6a5a62"/><stop offset="0.272" stop-color="#878454"/><stop offset="0.303" stop-color="#afae74"/><stop offset="0.349" stop-color="#afae74"/><stop offset="0.396" stop-color="#afae73"/><stop offset="0.442" stop-color="#adac72"/><stop offset="0.488" stop-color="#aaa96f"/><stop offset="0.534" stop-color="#a4a26a"/><stop offset="0.580" stop-color="#9e9c65"/><stop offset="0.626" stop-color="#999762"/><stop offset="0.672" stop-color="#989661"/><stop offset="0.718" stop-color="#989661"/><stop offset="0.749" stop-color="#878454"/><stop offset="0.795" stop-color="#625d42"/><stop offset="0.826" stop-color="#2a9ea4"/><stop offset="0.856" stop-color="#22c4c8"/></linearGradient>
<linearGradient id="c86" gradientUnits="userSpaceOnUse" x1="0" y1="300.0" x2="0" y2="430.0"><stop offset="0.174" stop-color="#5c3270"/><stop offset="0.255" stop-color="#5c3270"/><stop offset="0.274" stop-color="#6a5a62"/><stop offset="0.293" stop-color="#878454"/><stop offset="0.324" stop-color="#b2b176"/><stop offset="0.370" stop-color="#b1b076"/><stop offset="0.416" stop-color="#afae74"/><stop offset="0.463" stop-color="#acab71"/><stop offset="0.509" stop-color="#a6a56c"/><stop offset="0.555" stop-color="#a19f68"/><stop offset="0.601" stop-color="#9d9b65"/><stop offset="0.647" stop-color="#9d9b65"/><stop offset="0.693" stop-color="#a09f68"/><stop offset="0.698" stop-color="#a09f68"/><stop offset="0.729" stop-color="#878454"/><stop offset="0.775" stop-color="#625d42"/><stop offset="0.806" stop-color="#2a9ea4"/><stop offset="0.859" stop-color="#22c4c8"/></linearGradient>
<linearGradient id="c87" gradientUnits="userSpaceOnUse" x1="0" y1="300.0" x2="0" y2="430.0"><stop offset="0.169" stop-color="#5c3270"/><stop offset="0.227" stop-color="#5c3270"/><stop offset="0.246" stop-color="#6a5a62"/><stop offset="0.266" stop-color="#878454"/><stop offset="0.296" stop-color="#b4b378"/><stop offset="0.343" stop-color="#b3b277"/><stop offset="0.389" stop-color="#b1b075"/><stop offset="0.435" stop-color="#adac72"/><stop offset="0.481" stop-color="#a9a76e"/><stop offset="0.527" stop-color="#a3a26a"/><stop offset="0.573" stop-color="#a09e67"/><stop offset="0.619" stop-color="#a09f68"/><stop offset="0.666" stop-color="#a5a46b"/><stop offset="0.707" stop-color="#a5a46b"/><stop offset="0.738" stop-color="#878454"/><stop offset="0.784" stop-color="#625d42"/><stop offset="0.815" stop-color="#2a9ea4"/><stop offset="0.861" stop-color="#22c4c8"/></linearGradient>
<linearGradient id="c88" gradientUnits="userSpaceOnUse" x1="0" y1="300.0" x2="0" y2="430.0"><stop offset="0.164" stop-color="#5c3270"/><stop offset="0.233" stop-color="#5c3270"/><stop offset="0.252" stop-color="#6a5a62"/><stop offset="0.271" stop-color="#878454"/><stop offset="0.302" stop-color="#afae74"/><stop offset="0.348" stop-color="#adac71"/><stop offset="0.394" stop-color="#a9a76e"/><stop offset="0.441" stop-color="#a2a169"/><stop offset="0.487" stop-color="#9c9b64"/><stop offset="0.533" stop-color="#999762"/><stop offset="0.579" stop-color="#999762"/><stop offset="0.625" stop-color="#9d9c65"/><stop offset="0.671" stop-color="#a4a36a"/><stop offset="0.717" stop-color="#abaa70"/><stop offset="0.721" stop-color="#abaa70"/><stop offset="0.751" stop-color="#878454"/><stop offset="0.798" stop-color="#625d42"/><stop offset="0.828" stop-color="#2a9ea4"/><stop offset="0.861" stop-color="#22c4c8"/></linearGradient>
<linearGradient id="c89" gradientUnits="userSpaceOnUse" x1="0" y1="300.0" x2="0" y2="430.0"><stop offset="0.143" stop-color="#5c3270"/><stop offset="0.200" stop-color="#5c3270"/><stop offset="0.219" stop-color="#6a5a62"/><stop offset="0.238" stop-color="#878454"/><stop offset="0.269" stop-color="#afae74"/><stop offset="0.315" stop-color="#adac72"/><stop offset="0.361" stop-color="#a9a86e"/><stop offset="0.407" stop-color="#a3a169"/><stop offset="0.453" stop-color="#9d9b65"/><stop offset="0.500" stop-color="#9a9863"/><stop offset="0.546" stop-color="#9b9963"/><stop offset="0.592" stop-color="#9f9e67"/><stop offset="0.638" stop-color="#a6a56c"/><stop offset="0.684" stop-color="#acab71"/><stop offset="0.716" stop-color="#acab71"/><stop offset="0.747" stop-color="#878454"/><stop offset="0.793" stop-color="#625d42"/><stop offset="0.824" stop-color="#2a9ea4"/><stop offset="0.857" stop-color="#22c4c8"/></linearGradient>
<linearGradient id="c90" gradientUnits="userSpaceOnUse" x1="0" y1="300.0" x2="0" y2="430.0"><stop offset="0.103" stop-color="#5c3270"/><stop offset="0.194" stop-color="#5c3270"/><stop offset="0.213" stop-color="#6a5a62"/><stop offset="0.232" stop-color="#878454"/><stop offset="0.263" stop-color="#b0af74"/><stop offset="0.309" stop-color="#acab71"/><stop offset="0.356" stop-color="#a8a66d"/><stop offset="0.402" stop-color="#a2a068"/><stop offset="0.448" stop-color="#9d9c65"/><stop offset="0.494" stop-color="#9d9b65"/><stop offset="0.540" stop-color="#a09f67"/><stop offset="0.586" stop-color="#a6a56c"/><stop offset="0.632" stop-color="#acab71"/><stop offset="0.667" stop-color="#acab71"/><stop offset="0.759" stop-color="#878454"/><stop offset="0.813" stop-color="#625d42"/><stop offset="0.844" stop-color="#4a8277"/><stop offset="0.862" stop-color="#1cc8c8"/><stop offset="0.875" stop-color="#24b4b6"/><stop offset="0.928" stop-color="#1ec4c6"/></linearGradient>
<linearGradient id="c91" gradientUnits="userSpaceOnUse" x1="0" y1="300.0" x2="0" y2="430.0"><stop offset="0.054" stop-color="#5c3270"/><stop offset="0.152" stop-color="#5c3270"/><stop offset="0.171" stop-color="#6a5a62"/><stop offset="0.190" stop-color="#878454"/><stop offset="0.221" stop-color="#b2b176"/><stop offset="0.267" stop-color="#afae73"/><stop offset="0.313" stop-color="#abaa70"/><stop offset="0.359" stop-color="#a5a46b"/><stop offset="0.405" stop-color="#a19f68"/><stop offset="0.452" stop-color="#a09e67"/><stop offset="0.498" stop-color="#a3a169"/><stop offset="0.544" stop-color="#a9a86e"/><stop offset="0.590" stop-color="#aead72"/><stop offset="0.636" stop-color="#b2b176"/><stop offset="0.662" stop-color="#b2b176"/><stop offset="0.754" stop-color="#878454"/><stop offset="0.808" stop-color="#625d42"/><stop offset="0.839" stop-color="#4a8277"/><stop offset="0.862" stop-color="#1cc8c8"/><stop offset="0.870" stop-color="#24b4b6"/><stop offset="0.924" stop-color="#1ec4c6"/></linearGradient>
<linearGradient id="c92" gradientUnits="userSpaceOnUse" x1="0" y1="300.0" x2="0" y2="430.0"><stop offset="0.115" stop-color="#5c3270"/><stop offset="0.175" stop-color="#5c3270"/><stop offset="0.194" stop-color="#6a5a62"/><stop offset="0.213" stop-color="#878454"/><stop offset="0.244" stop-color="#aead73"/><stop offset="0.290" stop-color="#aaa96f"/><stop offset="0.336" stop-color="#a4a36b"/><stop offset="0.383" stop-color="#a19f68"/><stop offset="0.429" stop-color="#a19f68"/><stop offset="0.475" stop-color="#a5a36b"/><stop offset="0.521" stop-color="#abaa70"/><stop offset="0.567" stop-color="#afae74"/><stop offset="0.613" stop-color="#b3b278"/><stop offset="0.657" stop-color="#b3b278"/><stop offset="0.750" stop-color="#878454"/><stop offset="0.804" stop-color="#625d42"/><stop offset="0.834" stop-color="#4a8277"/><stop offset="0.862" stop-color="#1cc8c8"/><stop offset="0.865" stop-color="#24b4b6"/><stop offset="0.919" stop-color="#1ec4c6"/></linearGradient>
<linearGradient id="c93" gradientUnits="userSpaceOnUse" x1="0" y1="300.0" x2="0" y2="430.0"><stop offset="0.257" stop-color="#5c3270"/><stop offset="0.318" stop-color="#5c3270"/><stop offset="0.337" stop-color="#6a5a62"/><stop offset="0.356" stop-color="#878454"/><stop offset="0.387" stop-color="#9a9863"/><stop offset="0.433" stop-color="#9e9c66"/><stop offset="0.479" stop-color="#a4a36a"/><stop offset="0.525" stop-color="#abaa70"/><stop offset="0.571" stop-color="#afae74"/><stop offset="0.618" stop-color="#b2b176"/><stop offset="0.653" stop-color="#b2b176"/><stop offset="0.745" stop-color="#878454"/><stop offset="0.799" stop-color="#625d42"/><stop offset="0.830" stop-color="#4a8277"/><stop offset="0.860" stop-color="#24b4b6"/><stop offset="0.862" stop-color="#1cc8c8"/><stop offset="0.914" stop-color="#1ec4c6"/></linearGradient>
<linearGradient id="c94" gradientUnits="userSpaceOnUse" x1="0" y1="300.0" x2="0" y2="430.0"><stop offset="0.253" stop-color="#5c3270"/><stop offset="0.308" stop-color="#5c3270"/><stop offset="0.327" stop-color="#6a5a62"/><stop offset="0.346" stop-color="#878454"/><stop offset="0.377" stop-color="#a09e67"/><stop offset="0.423" stop-color="#a5a46c"/><stop offset="0.469" stop-color="#acab71"/><stop offset="0.515" stop-color="#b0af75"/><stop offset="0.561" stop-color="#b3b278"/><stop offset="0.608" stop-color="#b5b479"/><stop offset="0.648" stop-color="#b5b479"/><stop offset="0.740" stop-color="#878454"/><stop offset="0.794" stop-color="#625d42"/><stop offset="0.825" stop-color="#4a8277"/><stop offset="0.856" stop-color="#24b4b6"/><stop offset="0.862" stop-color="#1cc8c8"/><stop offset="0.909" stop-color="#1ec4c6"/></linearGradient>
<linearGradient id="c95" gradientUnits="userSpaceOnUse" x1="0" y1="300.0" x2="0" y2="430.0"><stop offset="0.250" stop-color="#5c3270"/><stop offset="0.307" stop-color="#5c3270"/><stop offset="0.327" stop-color="#6a5a62"/><stop offset="0.346" stop-color="#878454"/><stop offset="0.377" stop-color="#adac71"/><stop offset="0.423" stop-color="#b1b075"/><stop offset="0.469" stop-color="#b5b47a"/><stop offset="0.515" stop-color="#b9b87d"/><stop offset="0.561" stop-color="#bbba7f"/><stop offset="0.607" stop-color="#bbba7f"/><stop offset="0.643" stop-color="#bbba7f"/><stop offset="0.736" stop-color="#878454"/><stop offset="0.789" stop-color="#625d42"/><stop offset="0.820" stop-color="#4a8277"/><stop offset="0.851" stop-color="#3f9a96"/><stop offset="0.862" stop-color="#1cc8c8"/><stop offset="0.905" stop-color="#1ec4c6"/></linearGradient>
<linearGradient id="c96" gradientUnits="userSpaceOnUse" x1="0" y1="300.0" x2="0" y2="430.0"><stop offset="0.247" stop-color="#5c3270"/><stop offset="0.302" stop-color="#5c3270"/><stop offset="0.321" stop-color="#6a5a62"/><stop offset="0.340" stop-color="#878454"/><stop offset="0.371" stop-color="#b0af75"/><stop offset="0.417" stop-color="#b5b479"/><stop offset="0.463" stop-color="#b9b87d"/><stop offset="0.509" stop-color="#bcbb80"/><stop offset="0.556" stop-color="#bcbb80"/><stop offset="0.602" stop-color="#bab97e"/><stop offset="0.638" stop-color="#bab97e"/><stop offset="0.731" stop-color="#878454"/><stop offset="0.785" stop-color="#625d42"/><stop offset="0.815" stop-color="#4a8277"/><stop offset="0.846" stop-color="#3f9a96"/><stop offset="0.862" stop-color="#1cc8c8"/><stop offset="0.900" stop-color="#1ec4c6"/></linearGradient>
<linearGradient id="c97" gradientUnits="userSpaceOnUse" x1="0" y1="300.0" x2="0" y2="430.0"><stop offset="0.252" stop-color="#5c3270"/><stop offset="0.326" stop-color="#5c3270"/><stop offset="0.345" stop-color="#6a5a62"/><stop offset="0.364" stop-color="#878454"/><stop offset="0.395" stop-color="#b4b378"/><stop offset="0.441" stop-color="#b8b77c"/><stop offset="0.487" stop-color="#bab97e"/><stop offset="0.533" stop-color="#b9b87d"/><stop offset="0.579" stop-color="#b7b67b"/><stop offset="0.626" stop-color="#b5b479"/><stop offset="0.636" stop-color="#b5b479"/><stop offset="0.728" stop-color="#878454"/><stop offset="0.782" stop-color="#625d42"/><stop offset="0.813" stop-color="#4a8277"/><stop offset="0.844" stop-color="#3f9a96"/><stop offset="0.862" stop-color="#1cc8c8"/><stop offset="0.898" stop-color="#1ec4c6"/></linearGradient>
<linearGradient id="c98" gradientUnits="userSpaceOnUse" x1="0" y1="300.0" x2="0" y2="430.0"><stop offset="0.257" stop-color="#5c3270"/><stop offset="0.330" stop-color="#5c3270"/><stop offset="0.349" stop-color="#6a5a62"/><stop offset="0.368" stop-color="#878454"/><stop offset="0.399" stop-color="#b6b57b"/><stop offset="0.445" stop-color="#b8b77d"/><stop offset="0.491" stop-color="#b8b77c"/><stop offset="0.538" stop-color="#b6b57b"/><stop offset="0.584" stop-color="#b4b378"/><stop offset="0.630" stop-color="#b1b076"/><stop offset="0.634" stop-color="#b1b076"/><stop offset="0.726" stop-color="#878454"/><stop offset="0.780" stop-color="#625d42"/><stop offset="0.811" stop-color="#4a8277"/><stop offset="0.841" stop-color="#3f9a96"/><stop offset="0.862" stop-color="#1cc8c8"/><stop offset="0.895" stop-color="#1ec4c6"/></linearGradient>
<linearGradient id="c99" gradientUnits="userSpaceOnUse" x1="0" y1="300.0" x2="0" y2="430.0"><stop offset="0.262" stop-color="#5c3270"/><stop offset="0.310" stop-color="#5c3270"/><stop offset="0.330" stop-color="#6a5a62"/><stop offset="0.349" stop-color="#878454"/><stop offset="0.380" stop-color="#b7b67b"/><stop offset="0.426" stop-color="#b8b77d"/><stop offset="0.472" stop-color="#b8b77c"/><stop offset="0.518" stop-color="#b5b47a"/><stop offset="0.564" stop-color="#b3b277"/><stop offset="0.610" stop-color="#b0af75"/><stop offset="0.631" stop-color="#b0af75"/><stop offset="0.723" stop-color="#878454"/><stop offset="0.777" stop-color="#625d42"/><stop offset="0.808" stop-color="#4a8277"/><stop offset="0.839" stop-color="#3f9a96"/><stop offset="0.862" stop-color="#1cc8c8"/><stop offset="0.893" stop-color="#1ec4c6"/></linearGradient>
<linearGradient id="c100" gradientUnits="userSpaceOnUse" x1="0" y1="300.0" x2="0" y2="430.0"><stop offset="0.267" stop-color="#5c3270"/><stop offset="0.312" stop-color="#5c3270"/><stop offset="0.332" stop-color="#6a5a62"/><stop offset="0.351" stop-color="#878454"/><stop offset="0.382" stop-color="#b7b67b"/><stop offset="0.428" stop-color="#b6b57a"/><stop offset="0.474" stop-color="#b4b379"/><stop offset="0.520" stop-color="#b1b076"/><stop offset="0.566" stop-color="#afae73"/><stop offset="0.612" stop-color="#acab71"/><stop offset="0.629" stop-color="#acab71"/><stop offset="0.721" stop-color="#878454"/><stop offset="0.775" stop-color="#625d42"/><stop offset="0.806" stop-color="#4a8277"/><stop offset="0.836" stop-color="#3f9a96"/><stop offset="0.862" stop-color="#1cc8c8"/><stop offset="0.890" stop-color="#1ec4c6"/></linearGradient>
<linearGradient id="c101" gradientUnits="userSpaceOnUse" x1="0" y1="300.0" x2="0" y2="430.0"><stop offset="0.271" stop-color="#5c3270"/><stop offset="0.323" stop-color="#5c3270"/><stop offset="0.342" stop-color="#6a5a62"/><stop offset="0.361" stop-color="#878454"/><stop offset="0.392" stop-color="#b2b176"/><stop offset="0.438" stop-color="#b0af74"/><stop offset="0.484" stop-color="#adac72"/><stop offset="0.530" stop-color="#aaa96f"/><stop offset="0.576" stop-color="#a6a56c"/><stop offset="0.623" stop-color="#a5a36b"/><stop offset="0.626" stop-color="#a5a36b"/><stop offset="0.719" stop-color="#878454"/><stop offset="0.772" stop-color="#625d42"/><stop offset="0.803" stop-color="#4a8277"/><stop offset="0.834" stop-color="#3f9a96"/><stop offset="0.862" stop-color="#1cc8c8"/><stop offset="0.888" stop-color="#1ec4c6"/></linearGradient>
<linearGradient id="c102" gradientUnits="userSpaceOnUse" x1="0" y1="300.0" x2="0" y2="430.0"><stop offset="0.270" stop-color="#5c3270"/><stop offset="0.345" stop-color="#5c3270"/><stop offset="0.364" stop-color="#6a5a62"/><stop offset="0.383" stop-color="#878454"/><stop offset="0.414" stop-color="#aead72"/><stop offset="0.460" stop-color="#abaa70"/><stop offset="0.506" stop-color="#a7a66d"/><stop offset="0.552" stop-color="#a4a26a"/><stop offset="0.599" stop-color="#a3a169"/><stop offset="0.624" stop-color="#a3a169"/><stop offset="0.716" stop-color="#878454"/><stop offset="0.770" stop-color="#625d42"/><stop offset="0.801" stop-color="#4a8277"/><stop offset="0.832" stop-color="#3f9a96"/><stop offset="0.862" stop-color="#1cc8c8"/><stop offset="0.885" stop-color="#1ec4c6"/></linearGradient>
<linearGradient id="c103" gradientUnits="userSpaceOnUse" x1="0" y1="300.0" x2="0" y2="430.0"><stop offset="0.270" stop-color="#5c3270"/><stop offset="0.341" stop-color="#5c3270"/><stop offset="0.360" stop-color="#6a5a62"/><stop offset="0.379" stop-color="#878454"/><stop offset="0.410" stop-color="#abaa70"/><stop offset="0.456" stop-color="#a8a76d"/><stop offset="0.502" stop-color="#a4a36a"/><stop offset="0.548" stop-color="#a2a169"/><stop offset="0.594" stop-color="#a3a169"/><stop offset="0.621" stop-color="#a3a169"/><stop offset="0.714" stop-color="#878454"/><stop offset="0.768" stop-color="#625d42"/><stop offset="0.798" stop-color="#4a8277"/><stop offset="0.829" stop-color="#3f9a96"/><stop offset="0.862" stop-color="#1cc8c8"/><stop offset="0.883" stop-color="#1ec4c6"/></linearGradient>
<linearGradient id="c104" gradientUnits="userSpaceOnUse" x1="0" y1="300.0" x2="0" y2="430.0"><stop offset="0.270" stop-color="#5c3270"/><stop offset="0.347" stop-color="#5c3270"/><stop offset="0.366" stop-color="#6a5a62"/><stop offset="0.385" stop-color="#878454"/><stop offset="0.416" stop-color="#b1b076"/><stop offset="0.462" stop-color="#afae74"/><stop offset="0.508" stop-color="#aead72"/><stop offset="0.555" stop-color="#aead73"/><stop offset="0.601" stop-color="#aead73"/><stop offset="0.619" stop-color="#aead73"/><stop offset="0.711" stop-color="#878454"/><stop offset="0.765" stop-color="#625d42"/><stop offset="0.796" stop-color="#4a8277"/><stop offset="0.827" stop-color="#3f9a96"/><stop offset="0.862" stop-color="#1cc8c8"/><stop offset="0.881" stop-color="#1ec4c6"/></linearGradient>
<linearGradient id="c105" gradientUnits="userSpaceOnUse" x1="0" y1="300.0" x2="0" y2="430.0"><stop offset="0.270" stop-color="#5c3270"/><stop offset="0.344" stop-color="#5c3270"/><stop offset="0.363" stop-color="#6a5a62"/><stop offset="0.382" stop-color="#878454"/><stop offset="0.413" stop-color="#b0af75"/><stop offset="0.459" stop-color="#afae73"/><stop offset="0.506" stop-color="#afae73"/><stop offset="0.552" stop-color="#afae74"/><stop offset="0.598" stop-color="#b0af75"/><stop offset="0.617" stop-color="#b0af75"/><stop offset="0.709" stop-color="#878454"/><stop offset="0.763" stop-color="#625d42"/><stop offset="0.794" stop-color="#4a8277"/><stop offset="0.824" stop-color="#24b4b6"/><stop offset="0.862" stop-color="#1cc8c8"/><stop offset="0.878" stop-color="#1ec4c6"/></linearGradient>
<linearGradient id="c106" gradientUnits="userSpaceOnUse" x1="0" y1="300.0" x2="0" y2="430.0"><stop offset="0.269" stop-color="#5c3270"/><stop offset="0.343" stop-color="#5c3270"/><stop offset="0.362" stop-color="#6a5a62"/><stop offset="0.381" stop-color="#878454"/><stop offset="0.412" stop-color="#afae74"/><stop offset="0.458" stop-color="#afae73"/><stop offset="0.504" stop-color="#afae74"/><stop offset="0.551" stop-color="#b0af75"/><stop offset="0.597" stop-color="#b1b075"/><stop offset="0.612" stop-color="#b1b075"/><stop offset="0.704" stop-color="#878454"/><stop offset="0.758" stop-color="#625d42"/><stop offset="0.788" stop-color="#4a8277"/><stop offset="0.819" stop-color="#24b4b6"/><stop offset="0.862" stop-color="#1cc8c8"/><stop offset="0.873" stop-color="#1ec4c6"/></linearGradient>
<linearGradient id="c107" gradientUnits="userSpaceOnUse" x1="0" y1="300.0" x2="0" y2="430.0"><stop offset="0.269" stop-color="#5c3270"/><stop offset="0.319" stop-color="#5c3270"/><stop offset="0.338" stop-color="#6a5a62"/><stop offset="0.357" stop-color="#878454"/><stop offset="0.388" stop-color="#aead73"/><stop offset="0.434" stop-color="#aead73"/><stop offset="0.480" stop-color="#afae74"/><stop offset="0.526" stop-color="#b0af74"/><stop offset="0.573" stop-color="#b1b075"/><stop offset="0.604" stop-color="#b1b075"/><stop offset="0.696" stop-color="#878454"/><stop offset="0.750" stop-color="#625d42"/><stop offset="0.781" stop-color="#4a8277"/><stop offset="0.812" stop-color="#24b4b6"/><stop offset="0.862" stop-color="#1cc8c8"/><stop offset="0.865" stop-color="#1ec4c6"/></linearGradient>
<linearGradient id="c108" gradientUnits="userSpaceOnUse" x1="0" y1="300.0" x2="0" y2="430.0"><stop offset="0.266" stop-color="#5c3270"/><stop offset="0.311" stop-color="#5c3270"/><stop offset="0.330" stop-color="#6a5a62"/><stop offset="0.349" stop-color="#878454"/><stop offset="0.380" stop-color="#a3a26a"/><stop offset="0.426" stop-color="#a4a36a"/><stop offset="0.473" stop-color="#a5a46b"/><stop offset="0.519" stop-color="#a7a66c"/><stop offset="0.565" stop-color="#a8a76e"/><stop offset="0.596" stop-color="#a8a76e"/><stop offset="0.688" stop-color="#878454"/><stop offset="0.742" stop-color="#625d42"/><stop offset="0.773" stop-color="#4a8277"/><stop offset="0.804" stop-color="#24b4b6"/><stop offset="0.858" stop-color="#1ec4c6"/><stop offset="0.862" stop-color="#1cc8c8"/></linearGradient>
<linearGradient id="c109" gradientUnits="userSpaceOnUse" x1="0" y1="300.0" x2="0" y2="430.0"><stop offset="0.264" stop-color="#5c3270"/><stop offset="0.316" stop-color="#5c3270"/><stop offset="0.336" stop-color="#6a5a62"/><stop offset="0.355" stop-color="#878454"/><stop offset="0.386" stop-color="#adac72"/><stop offset="0.432" stop-color="#aead73"/><stop offset="0.478" stop-color="#afae73"/><stop offset="0.524" stop-color="#b0af74"/><stop offset="0.570" stop-color="#b0af75"/><stop offset="0.588" stop-color="#b0af75"/><stop offset="0.681" stop-color="#878454"/><stop offset="0.735" stop-color="#625d42"/><stop offset="0.765" stop-color="#4a8277"/><stop offset="0.796" stop-color="#24b4b6"/><stop offset="0.850" stop-color="#1ec4c6"/><stop offset="0.862" stop-color="#1cc8c8"/></linearGradient>
<linearGradient id="c110" gradientUnits="userSpaceOnUse" x1="0" y1="300.0" x2="0" y2="430.0"><stop offset="0.261" stop-color="#5c3270"/><stop offset="0.311" stop-color="#5c3270"/><stop offset="0.330" stop-color="#6a5a62"/><stop offset="0.349" stop-color="#878454"/><stop offset="0.380" stop-color="#acab71"/><stop offset="0.426" stop-color="#adac71"/><stop offset="0.472" stop-color="#aead72"/><stop offset="0.519" stop-color="#aead73"/><stop offset="0.565" stop-color="#afae73"/><stop offset="0.581" stop-color="#afae73"/><stop offset="0.673" stop-color="#878454"/><stop offset="0.727" stop-color="#625d42"/><stop offset="0.758" stop-color="#4a8277"/><stop offset="0.788" stop-color="#24b4b6"/><stop offset="0.842" stop-color="#1ec4c6"/><stop offset="0.862" stop-color="#1cc8c8"/></linearGradient>
<linearGradient id="c111" gradientUnits="userSpaceOnUse" x1="0" y1="300.0" x2="0" y2="430.0"><stop offset="0.258" stop-color="#5c3270"/><stop offset="0.300" stop-color="#5c3270"/><stop offset="0.319" stop-color="#6a5a62"/><stop offset="0.338" stop-color="#878454"/><stop offset="0.369" stop-color="#afae73"/><stop offset="0.415" stop-color="#b0af74"/><stop offset="0.461" stop-color="#b1b075"/><stop offset="0.508" stop-color="#b1b076"/><stop offset="0.554" stop-color="#b1b076"/><stop offset="0.573" stop-color="#b1b076"/><stop offset="0.665" stop-color="#878454"/><stop offset="0.719" stop-color="#625d42"/><stop offset="0.750" stop-color="#4a8277"/><stop offset="0.781" stop-color="#24b4b6"/><stop offset="0.835" stop-color="#1ec4c6"/><stop offset="0.862" stop-color="#1cc8c8"/></linearGradient>
<linearGradient id="c112" gradientUnits="userSpaceOnUse" x1="0" y1="300.0" x2="0" y2="430.0"><stop offset="0.255" stop-color="#5c3270"/><stop offset="0.306" stop-color="#5c3270"/><stop offset="0.326" stop-color="#6a5a62"/><stop offset="0.345" stop-color="#878454"/><stop offset="0.376" stop-color="#adac71"/><stop offset="0.422" stop-color="#adac72"/><stop offset="0.468" stop-color="#aead73"/><stop offset="0.514" stop-color="#aead73"/><stop offset="0.560" stop-color="#adac71"/><stop offset="0.565" stop-color="#adac71"/><stop offset="0.658" stop-color="#878454"/><stop offset="0.712" stop-color="#625d42"/><stop offset="0.742" stop-color="#4a8277"/><stop offset="0.773" stop-color="#24b4b6"/><stop offset="0.827" stop-color="#1ec4c6"/><stop offset="0.862" stop-color="#1cc8c8"/></linearGradient>
<linearGradient id="c113" gradientUnits="userSpaceOnUse" x1="0" y1="300.0" x2="0" y2="430.0"><stop offset="0.253" stop-color="#5c3270"/><stop offset="0.296" stop-color="#5c3270"/><stop offset="0.315" stop-color="#6a5a62"/><stop offset="0.334" stop-color="#878454"/><stop offset="0.365" stop-color="#b0af74"/><stop offset="0.411" stop-color="#b0af75"/><stop offset="0.457" stop-color="#b1b075"/><stop offset="0.503" stop-color="#b0af75"/><stop offset="0.549" stop-color="#aead72"/><stop offset="0.558" stop-color="#aead72"/><stop offset="0.650" stop-color="#878454"/><stop offset="0.704" stop-color="#625d42"/><stop offset="0.735" stop-color="#4a8277"/><stop offset="0.765" stop-color="#24b4b6"/><stop offset="0.819" stop-color="#1ec4c6"/><stop offset="0.862" stop-color="#1cc8c8"/></linearGradient>
<linearGradient id="c114" gradientUnits="userSpaceOnUse" x1="0" y1="300.0" x2="0" y2="430.0"><stop offset="0.251" stop-color="#5c3270"/><stop offset="0.343" stop-color="#5c3270"/><stop offset="0.362" stop-color="#6a5a62"/><stop offset="0.381" stop-color="#878454"/><stop offset="0.412" stop-color="#b1b076"/><stop offset="0.458" stop-color="#b1b076"/><stop offset="0.504" stop-color="#afae74"/><stop offset="0.550" stop-color="#afae74"/><stop offset="0.642" stop-color="#878454"/><stop offset="0.696" stop-color="#625d42"/><stop offset="0.727" stop-color="#4a8277"/><stop offset="0.758" stop-color="#24b4b6"/><stop offset="0.812" stop-color="#1ec4c6"/><stop offset="0.862" stop-color="#1cc8c8"/></linearGradient>
<linearGradient id="c115" gradientUnits="userSpaceOnUse" x1="0" y1="300.0" x2="0" y2="430.0"><stop offset="0.250" stop-color="#5c3270"/><stop offset="0.295" stop-color="#5c3270"/><stop offset="0.315" stop-color="#6a5a62"/><stop offset="0.334" stop-color="#878454"/><stop offset="0.365" stop-color="#aaa96f"/><stop offset="0.411" stop-color="#aaa96f"/><stop offset="0.457" stop-color="#a8a66d"/><stop offset="0.503" stop-color="#a3a26a"/><stop offset="0.542" stop-color="#a3a26a"/><stop offset="0.635" stop-color="#878454"/><stop offset="0.688" stop-color="#625d42"/><stop offset="0.719" stop-color="#4a8277"/><stop offset="0.750" stop-color="#3f9a96"/><stop offset="0.804" stop-color="#1ec4c6"/><stop offset="0.862" stop-color="#1cc8c8"/></linearGradient>
<linearGradient id="c116" gradientUnits="userSpaceOnUse" x1="0" y1="300.0" x2="0" y2="430.0"><stop offset="0.248" stop-color="#5c3270"/><stop offset="0.301" stop-color="#5c3270"/><stop offset="0.321" stop-color="#6a5a62"/><stop offset="0.340" stop-color="#878454"/><stop offset="0.371" stop-color="#afae74"/><stop offset="0.417" stop-color="#aead72"/><stop offset="0.463" stop-color="#abaa70"/><stop offset="0.509" stop-color="#a6a56c"/><stop offset="0.535" stop-color="#a6a56c"/><stop offset="0.627" stop-color="#878454"/><stop offset="0.681" stop-color="#625d42"/><stop offset="0.712" stop-color="#4a8277"/><stop offset="0.742" stop-color="#3f9a96"/><stop offset="0.796" stop-color="#1ec4c6"/><stop offset="0.862" stop-color="#1cc8c8"/></linearGradient>
<linearGradient id="c117" gradientUnits="userSpaceOnUse" x1="0" y1="300.0" x2="0" y2="430.0"><stop offset="0.246" stop-color="#5c3270"/><stop offset="0.290" stop-color="#5c3270"/><stop offset="0.309" stop-color="#6a5a62"/><stop offset="0.328" stop-color="#878454"/><stop offset="0.359" stop-color="#b1b075"/><stop offset="0.405" stop-color="#aead73"/><stop offset="0.451" stop-color="#abaa70"/><stop offset="0.498" stop-color="#a7a66d"/><stop offset="0.528" stop-color="#a7a66d"/><stop offset="0.621" stop-color="#878454"/><stop offset="0.674" stop-color="#625d42"/><stop offset="0.705" stop-color="#4a8277"/><stop offset="0.736" stop-color="#24b4b6"/><stop offset="0.790" stop-color="#1ec4c6"/><stop offset="0.862" stop-color="#1cc8c8"/></linearGradient>
<linearGradient id="c118" gradientUnits="userSpaceOnUse" x1="0" y1="300.0" x2="0" y2="430.0"><stop offset="0.245" stop-color="#5c3270"/><stop offset="0.300" stop-color="#5c3270"/><stop offset="0.319" stop-color="#6a5a62"/><stop offset="0.339" stop-color="#878454"/><stop offset="0.369" stop-color="#b0af75"/><stop offset="0.416" stop-color="#adac72"/><stop offset="0.462" stop-color="#aaa96f"/><stop offset="0.508" stop-color="#a6a56c"/><stop offset="0.523" stop-color="#a6a56c"/><stop offset="0.615" stop-color="#878454"/><stop offset="0.669" stop-color="#625d42"/><stop offset="0.700" stop-color="#4a8277"/><stop offset="0.731" stop-color="#24b4b6"/><stop offset="0.785" stop-color="#1ec4c6"/><stop offset="0.862" stop-color="#1cc8c8"/></linearGradient>
<linearGradient id="c119" gradientUnits="userSpaceOnUse" x1="0" y1="300.0" x2="0" y2="430.0"><stop offset="0.248" stop-color="#5c3270"/><stop offset="0.312" stop-color="#5c3270"/><stop offset="0.331" stop-color="#6a5a62"/><stop offset="0.351" stop-color="#878454"/><stop offset="0.381" stop-color="#abaa70"/><stop offset="0.427" stop-color="#a7a66d"/><stop offset="0.474" stop-color="#a4a26a"/><stop offset="0.518" stop-color="#a4a26a"/><stop offset="0.610" stop-color="#878454"/><stop offset="0.664" stop-color="#625d42"/><stop offset="0.695" stop-color="#4a8277"/><stop offset="0.726" stop-color="#3f9a96"/><stop offset="0.779" stop-color="#1ec4c6"/><stop offset="0.862" stop-color="#1cc8c8"/></linearGradient>
<linearGradient id="c120" gradientUnits="userSpaceOnUse" x1="0" y1="300.0" x2="0" y2="430.0"><stop offset="0.251" stop-color="#5c3270"/><stop offset="0.333" stop-color="#5c3270"/><stop offset="0.352" stop-color="#6a5a62"/><stop offset="0.371" stop-color="#878454"/><stop offset="0.402" stop-color="#a5a46b"/><stop offset="0.448" stop-color="#a2a069"/><stop offset="0.494" stop-color="#a1a068"/><stop offset="0.513" stop-color="#a1a068"/><stop offset="0.605" stop-color="#878454"/><stop offset="0.659" stop-color="#625d42"/><stop offset="0.690" stop-color="#4a8277"/><stop offset="0.721" stop-color="#3f9a96"/><stop offset="0.774" stop-color="#1ec4c6"/><stop offset="0.862" stop-color="#1cc8c8"/></linearGradient>
<linearGradient id="c121" gradientUnits="userSpaceOnUse" x1="0" y1="300.0" x2="0" y2="430.0"><stop offset="0.254" stop-color="#5c3270"/><stop offset="0.296" stop-color="#5c3270"/><stop offset="0.316" stop-color="#6a5a62"/><stop offset="0.335" stop-color="#878454"/><stop offset="0.366" stop-color="#a6a46c"/><stop offset="0.412" stop-color="#a2a169"/><stop offset="0.458" stop-color="#a2a069"/><stop offset="0.504" stop-color="#a6a46c"/><stop offset="0.508" stop-color="#a6a46c"/><stop offset="0.600" stop-color="#878454"/><stop offset="0.654" stop-color="#625d42"/><stop offset="0.685" stop-color="#4a8277"/><stop offset="0.715" stop-color="#24b4b6"/><stop offset="0.769" stop-color="#1ec4c6"/><stop offset="0.862" stop-color="#1cc8c8"/></linearGradient>
<linearGradient id="c122" gradientUnits="userSpaceOnUse" x1="0" y1="300.0" x2="0" y2="430.0"><stop offset="0.257" stop-color="#5c3270"/><stop offset="0.305" stop-color="#5c3270"/><stop offset="0.324" stop-color="#6a5a62"/><stop offset="0.343" stop-color="#878454"/><stop offset="0.374" stop-color="#a4a26a"/><stop offset="0.420" stop-color="#a3a26a"/><stop offset="0.467" stop-color="#a7a66d"/><stop offset="0.503" stop-color="#a7a66d"/><stop offset="0.595" stop-color="#878454"/><stop offset="0.649" stop-color="#625d42"/><stop offset="0.679" stop-color="#4a8277"/><stop offset="0.710" stop-color="#24b4b6"/><stop offset="0.764" stop-color="#1ec4c6"/><stop offset="0.862" stop-color="#1cc8c8"/></linearGradient>
<linearGradient id="c123" gradientUnits="userSpaceOnUse" x1="0" y1="300.0" x2="0" y2="430.0"><stop offset="0.260" stop-color="#5c3270"/><stop offset="0.316" stop-color="#5c3270"/><stop offset="0.335" stop-color="#6a5a62"/><stop offset="0.354" stop-color="#878454"/><stop offset="0.385" stop-color="#a4a36b"/><stop offset="0.431" stop-color="#a8a76e"/><stop offset="0.478" stop-color="#adac72"/><stop offset="0.497" stop-color="#adac72"/><stop offset="0.590" stop-color="#878454"/><stop offset="0.644" stop-color="#625d42"/><stop offset="0.674" stop-color="#4a8277"/><stop offset="0.705" stop-color="#24b4b6"/><stop offset="0.759" stop-color="#1ec4c6"/><stop offset="0.862" stop-color="#1cc8c8"/></linearGradient>
<linearGradient id="c124" gradientUnits="userSpaceOnUse" x1="0" y1="300.0" x2="0" y2="430.0"><stop offset="0.259" stop-color="#5c3270"/><stop offset="0.313" stop-color="#5c3270"/><stop offset="0.332" stop-color="#6a5a62"/><stop offset="0.351" stop-color="#878454"/><stop offset="0.382" stop-color="#9d9b65"/><stop offset="0.428" stop-color="#a3a26a"/><stop offset="0.474" stop-color="#abaa70"/><stop offset="0.492" stop-color="#abaa70"/><stop offset="0.585" stop-color="#878454"/><stop offset="0.638" stop-color="#625d42"/><stop offset="0.669" stop-color="#4a8277"/><stop offset="0.700" stop-color="#24b4b6"/><stop offset="0.754" stop-color="#1ec4c6"/><stop offset="0.862" stop-color="#1cc8c8"/></linearGradient>
<linearGradient id="c125" gradientUnits="userSpaceOnUse" x1="0" y1="300.0" x2="0" y2="430.0"><stop offset="0.254" stop-color="#5c3270"/><stop offset="0.309" stop-color="#5c3270"/><stop offset="0.328" stop-color="#6a5a62"/><stop offset="0.347" stop-color="#878454"/><stop offset="0.378" stop-color="#a7a66d"/><stop offset="0.424" stop-color="#adac72"/><stop offset="0.470" stop-color="#b2b176"/><stop offset="0.487" stop-color="#b2b176"/><stop offset="0.579" stop-color="#878454"/><stop offset="0.633" stop-color="#625d42"/><stop offset="0.664" stop-color="#4a8277"/><stop offset="0.695" stop-color="#24b4b6"/><stop offset="0.749" stop-color="#1ec4c6"/><stop offset="0.862" stop-color="#1cc8c8"/></linearGradient>
<linearGradient id="c126" gradientUnits="userSpaceOnUse" x1="0" y1="300.0" x2="0" y2="430.0"><stop offset="0.249" stop-color="#5c3270"/><stop offset="0.304" stop-color="#5c3270"/><stop offset="0.323" stop-color="#6a5a62"/><stop offset="0.342" stop-color="#878454"/><stop offset="0.373" stop-color="#aead73"/><stop offset="0.419" stop-color="#b3b277"/><stop offset="0.465" stop-color="#b7b67b"/><stop offset="0.487" stop-color="#b7b67b"/><stop offset="0.579" stop-color="#878454"/><stop offset="0.633" stop-color="#625d42"/><stop offset="0.664" stop-color="#4a8277"/><stop offset="0.695" stop-color="#24b4b6"/><stop offset="0.748" stop-color="#1ec4c6"/><stop offset="0.862" stop-color="#1cc8c8"/></linearGradient>
<linearGradient id="c127" gradientUnits="userSpaceOnUse" x1="0" y1="300.0" x2="0" y2="430.0"><stop offset="0.247" stop-color="#5c3270"/><stop offset="0.294" stop-color="#5c3270"/><stop offset="0.313" stop-color="#6a5a62"/><stop offset="0.332" stop-color="#878454"/><stop offset="0.363" stop-color="#b1b075"/><stop offset="0.409" stop-color="#b6b57a"/><stop offset="0.455" stop-color="#b9b87d"/><stop offset="0.492" stop-color="#b9b87d"/><stop offset="0.584" stop-color="#878454"/><stop offset="0.638" stop-color="#625d42"/><stop offset="0.668" stop-color="#4a8277"/><stop offset="0.699" stop-color="#24b4b6"/><stop offset="0.753" stop-color="#1ec4c6"/><stop offset="0.862" stop-color="#1cc8c8"/></linearGradient>
<linearGradient id="c128" gradientUnits="userSpaceOnUse" x1="0" y1="300.0" x2="0" y2="430.0"><stop offset="0.260" stop-color="#5c3270"/><stop offset="0.316" stop-color="#5c3270"/><stop offset="0.335" stop-color="#6a5a62"/><stop offset="0.354" stop-color="#878454"/><stop offset="0.385" stop-color="#b4b378"/><stop offset="0.431" stop-color="#b7b67b"/><stop offset="0.477" stop-color="#b8b77c"/><stop offset="0.496" stop-color="#b8b77c"/><stop offset="0.588" stop-color="#878454"/><stop offset="0.642" stop-color="#625d42"/><stop offset="0.673" stop-color="#4a8277"/><stop offset="0.704" stop-color="#24b4b6"/><stop offset="0.758" stop-color="#1ec4c6"/><stop offset="0.862" stop-color="#1cc8c8"/></linearGradient>
<linearGradient id="c129" gradientUnits="userSpaceOnUse" x1="0" y1="300.0" x2="0" y2="430.0"><stop offset="0.273" stop-color="#5c3270"/><stop offset="0.316" stop-color="#5c3270"/><stop offset="0.336" stop-color="#6a5a62"/><stop offset="0.355" stop-color="#878454"/><stop offset="0.386" stop-color="#b5b47a"/><stop offset="0.432" stop-color="#b6b57b"/><stop offset="0.478" stop-color="#b6b57a"/><stop offset="0.501" stop-color="#b6b57a"/><stop offset="0.593" stop-color="#878454"/><stop offset="0.647" stop-color="#625d42"/><stop offset="0.678" stop-color="#4a8277"/><stop offset="0.708" stop-color="#3f9a96"/><stop offset="0.762" stop-color="#1ec4c6"/><stop offset="0.862" stop-color="#1cc8c8"/></linearGradient>
<linearGradient id="c130" gradientUnits="userSpaceOnUse" x1="0" y1="300.0" x2="0" y2="430.0"><stop offset="0.286" stop-color="#5c3270"/><stop offset="0.331" stop-color="#5c3270"/><stop offset="0.350" stop-color="#6a5a62"/><stop offset="0.369" stop-color="#878454"/><stop offset="0.400" stop-color="#bab97e"/><stop offset="0.446" stop-color="#b9b87d"/><stop offset="0.492" stop-color="#b7b67c"/><stop offset="0.505" stop-color="#b7b67c"/><stop offset="0.598" stop-color="#878454"/><stop offset="0.652" stop-color="#625d42"/><stop offset="0.682" stop-color="#4a8277"/><stop offset="0.713" stop-color="#3f9a96"/><stop offset="0.767" stop-color="#1ec4c6"/><stop offset="0.862" stop-color="#1cc8c8"/></linearGradient>
<linearGradient id="c131" gradientUnits="userSpaceOnUse" x1="0" y1="300.0" x2="0" y2="430.0"><stop offset="0.292" stop-color="#5c3270"/><stop offset="0.336" stop-color="#5c3270"/><stop offset="0.355" stop-color="#6a5a62"/><stop offset="0.375" stop-color="#878454"/><stop offset="0.405" stop-color="#bab97e"/><stop offset="0.452" stop-color="#b8b77c"/><stop offset="0.498" stop-color="#b7b67b"/><stop offset="0.518" stop-color="#b7b67b"/><stop offset="0.611" stop-color="#878454"/><stop offset="0.664" stop-color="#625d42"/><stop offset="0.695" stop-color="#4a8277"/><stop offset="0.726" stop-color="#3f9a96"/><stop offset="0.780" stop-color="#1ec4c6"/><stop offset="0.862" stop-color="#1cc8c8"/></linearGradient>
<linearGradient id="c132" gradientUnits="userSpaceOnUse" x1="0" y1="300.0" x2="0" y2="430.0"><stop offset="0.298" stop-color="#5c3270"/><stop offset="0.343" stop-color="#5c3270"/><stop offset="0.362" stop-color="#6a5a62"/><stop offset="0.381" stop-color="#878454"/><stop offset="0.412" stop-color="#b5b479"/><stop offset="0.458" stop-color="#b3b278"/><stop offset="0.504" stop-color="#b2b176"/><stop offset="0.539" stop-color="#b2b176"/><stop offset="0.632" stop-color="#878454"/><stop offset="0.686" stop-color="#625d42"/><stop offset="0.716" stop-color="#4a8277"/><stop offset="0.747" stop-color="#3f9a96"/><stop offset="0.801" stop-color="#1ec4c6"/><stop offset="0.862" stop-color="#1cc8c8"/></linearGradient>
<linearGradient id="c133" gradientUnits="userSpaceOnUse" x1="0" y1="300.0" x2="0" y2="430.0"><stop offset="0.304" stop-color="#5c3270"/><stop offset="0.350" stop-color="#5c3270"/><stop offset="0.369" stop-color="#6a5a62"/><stop offset="0.388" stop-color="#878454"/><stop offset="0.419" stop-color="#b4b378"/><stop offset="0.465" stop-color="#b2b177"/><stop offset="0.511" stop-color="#b1b076"/><stop offset="0.558" stop-color="#b1b075"/><stop offset="0.561" stop-color="#b1b075"/><stop offset="0.653" stop-color="#878454"/><stop offset="0.707" stop-color="#625d42"/><stop offset="0.738" stop-color="#4a8277"/><stop offset="0.768" stop-color="#24b4b6"/><stop offset="0.822" stop-color="#1ec4c6"/><stop offset="0.862" stop-color="#1cc8c8"/></linearGradient>
<linearGradient id="c134" gradientUnits="userSpaceOnUse" x1="0" y1="300.0" x2="0" y2="430.0"><stop offset="0.309" stop-color="#5c3270"/><stop offset="0.382" stop-color="#5c3270"/><stop offset="0.402" stop-color="#6a5a62"/><stop offset="0.421" stop-color="#878454"/><stop offset="0.452" stop-color="#afae74"/><stop offset="0.498" stop-color="#afae73"/><stop offset="0.544" stop-color="#afae73"/><stop offset="0.582" stop-color="#afae73"/><stop offset="0.674" stop-color="#878454"/><stop offset="0.728" stop-color="#625d42"/><stop offset="0.759" stop-color="#4a8277"/><stop offset="0.789" stop-color="#24b4b6"/><stop offset="0.843" stop-color="#1ec4c6"/><stop offset="0.862" stop-color="#1cc8c8"/></linearGradient>
<linearGradient id="c135" gradientUnits="userSpaceOnUse" x1="0" y1="300.0" x2="0" y2="430.0"><stop offset="0.314" stop-color="#5c3270"/><stop offset="0.361" stop-color="#5c3270"/><stop offset="0.380" stop-color="#6a5a62"/><stop offset="0.400" stop-color="#878454"/><stop offset="0.430" stop-color="#b0af74"/><stop offset="0.476" stop-color="#afae74"/><stop offset="0.523" stop-color="#b0af74"/><stop offset="0.569" stop-color="#b1b076"/><stop offset="0.615" stop-color="#b3b277"/><stop offset="0.615" stop-color="#b3b277"/><stop offset="0.708" stop-color="#878454"/><stop offset="0.762" stop-color="#625d42"/><stop offset="0.792" stop-color="#4a8277"/><stop offset="0.823" stop-color="#3f9a96"/><stop offset="0.862" stop-color="#1cc8c8"/><stop offset="0.877" stop-color="#1ec4c6"/></linearGradient>
<linearGradient id="c136" gradientUnits="userSpaceOnUse" x1="0" y1="300.0" x2="0" y2="430.0"><stop offset="0.318" stop-color="#5c3270"/><stop offset="0.363" stop-color="#5c3270"/><stop offset="0.383" stop-color="#6a5a62"/><stop offset="0.402" stop-color="#878454"/><stop offset="0.433" stop-color="#b0af75"/><stop offset="0.479" stop-color="#b1b075"/><stop offset="0.525" stop-color="#b2b176"/><stop offset="0.571" stop-color="#b4b378"/><stop offset="0.617" stop-color="#b5b47a"/><stop offset="0.662" stop-color="#b5b47a"/><stop offset="0.754" stop-color="#878454"/><stop offset="0.808" stop-color="#625d42"/><stop offset="0.838" stop-color="#4a8277"/><stop offset="0.862" stop-color="#1cc8c8"/><stop offset="0.869" stop-color="#3f9a96"/><stop offset="0.923" stop-color="#1ec4c6"/></linearGradient>
<linearGradient id="c137" gradientUnits="userSpaceOnUse" x1="0" y1="300.0" x2="0" y2="430.0"><stop offset="0.322" stop-color="#5c3270"/><stop offset="0.375" stop-color="#5c3270"/><stop offset="0.394" stop-color="#6a5a62"/><stop offset="0.413" stop-color="#878454"/><stop offset="0.444" stop-color="#b0af74"/><stop offset="0.490" stop-color="#b1b075"/><stop offset="0.536" stop-color="#b3b277"/><stop offset="0.582" stop-color="#b4b379"/><stop offset="0.629" stop-color="#b6b57a"/><stop offset="0.666" stop-color="#b6b57a"/><stop offset="0.758" stop-color="#878454"/><stop offset="0.812" stop-color="#625d42"/><stop offset="0.843" stop-color="#4a8277"/><stop offset="0.862" stop-color="#1cc8c8"/><stop offset="0.874" stop-color="#24b4b6"/><stop offset="0.928" stop-color="#1ec4c6"/></linearGradient>
<linearGradient id="c138" gradientUnits="userSpaceOnUse" x1="0" y1="300.0" x2="0" y2="430.0"><stop offset="0.326" stop-color="#5c3270"/><stop offset="0.370" stop-color="#5c3270"/><stop offset="0.389" stop-color="#6a5a62"/><stop offset="0.409" stop-color="#878454"/><stop offset="0.439" stop-color="#acab71"/><stop offset="0.486" stop-color="#aead72"/><stop offset="0.532" stop-color="#afae74"/><stop offset="0.578" stop-color="#b1b076"/><stop offset="0.624" stop-color="#b2b177"/><stop offset="0.670" stop-color="#b2b177"/><stop offset="0.671" stop-color="#b2b177"/><stop offset="0.763" stop-color="#878454"/><stop offset="0.817" stop-color="#625d42"/><stop offset="0.848" stop-color="#4a8277"/><stop offset="0.862" stop-color="#1cc8c8"/><stop offset="0.878" stop-color="#24b4b6"/><stop offset="0.932" stop-color="#1ec4c6"/></linearGradient>
<linearGradient id="c139" gradientUnits="userSpaceOnUse" x1="0" y1="300.0" x2="0" y2="430.0"><stop offset="0.331" stop-color="#5c3270"/><stop offset="0.387" stop-color="#5c3270"/><stop offset="0.406" stop-color="#6a5a62"/><stop offset="0.425" stop-color="#878454"/><stop offset="0.456" stop-color="#b4b378"/><stop offset="0.502" stop-color="#b6b57a"/><stop offset="0.548" stop-color="#b7b67c"/><stop offset="0.594" stop-color="#b8b77c"/><stop offset="0.640" stop-color="#b8b77c"/><stop offset="0.675" stop-color="#b8b77c"/><stop offset="0.768" stop-color="#878454"/><stop offset="0.822" stop-color="#625d42"/><stop offset="0.852" stop-color="#4a8277"/><stop offset="0.862" stop-color="#1cc8c8"/><stop offset="0.883" stop-color="#3f9a96"/><stop offset="0.937" stop-color="#1ec4c6"/></linearGradient>
<linearGradient id="c140" gradientUnits="userSpaceOnUse" x1="0" y1="300.0" x2="0" y2="430.0"><stop offset="0.345" stop-color="#5c3270"/><stop offset="0.400" stop-color="#5c3270"/><stop offset="0.419" stop-color="#6a5a62"/><stop offset="0.438" stop-color="#878454"/><stop offset="0.469" stop-color="#bab97e"/><stop offset="0.515" stop-color="#bcbb80"/><stop offset="0.561" stop-color="#bcbb80"/><stop offset="0.607" stop-color="#bcbb80"/><stop offset="0.653" stop-color="#bcbb80"/><stop offset="0.680" stop-color="#bcbb80"/><stop offset="0.772" stop-color="#878454"/><stop offset="0.826" stop-color="#625d42"/><stop offset="0.857" stop-color="#4a8277"/><stop offset="0.862" stop-color="#1cc8c8"/><stop offset="0.888" stop-color="#3f9a96"/><stop offset="0.942" stop-color="#1ec4c6"/></linearGradient>
<linearGradient id="c141" gradientUnits="userSpaceOnUse" x1="0" y1="300.0" x2="0" y2="430.0"><stop offset="0.360" stop-color="#5c3270"/><stop offset="0.409" stop-color="#5c3270"/><stop offset="0.428" stop-color="#6a5a62"/><stop offset="0.448" stop-color="#878454"/><stop offset="0.478" stop-color="#bbba7f"/><stop offset="0.525" stop-color="#bbba7f"/><stop offset="0.571" stop-color="#bbba7f"/><stop offset="0.617" stop-color="#bbba7f"/><stop offset="0.663" stop-color="#bbba7f"/><stop offset="0.685" stop-color="#bbba7f"/><stop offset="0.777" stop-color="#878454"/><stop offset="0.831" stop-color="#625d42"/><stop offset="0.862" stop-color="#4a8277"/><stop offset="0.862" stop-color="#1cc8c8"/><stop offset="0.892" stop-color="#3f9a96"/><stop offset="0.946" stop-color="#1ec4c6"/></linearGradient>
</defs>
<g mask="url(#bandmask)"><g clip-path="url(#echoclip)">
<rect x="148" y="300.0" width="2.05" height="130.0" fill="url(#c0)"/>
<rect x="150" y="300.0" width="2.05" height="130.0" fill="url(#c1)"/>
<rect x="152" y="300.0" width="2.05" height="130.0" fill="url(#c2)"/>
<rect x="154" y="300.0" width="2.05" height="130.0" fill="url(#c3)"/>
<rect x="156" y="300.0" width="2.05" height="130.0" fill="url(#c4)"/>
<rect x="158" y="300.0" width="2.05" height="130.0" fill="url(#c5)"/>
<rect x="160" y="300.0" width="2.05" height="130.0" fill="url(#c6)"/>
<rect x="162" y="300.0" width="2.05" height="130.0" fill="url(#c7)"/>
<rect x="164" y="300.0" width="2.05" height="130.0" fill="url(#c8)"/>
<rect x="166" y="300.0" width="2.05" height="130.0" fill="url(#c9)"/>
<rect x="168" y="300.0" width="2.05" height="130.0" fill="url(#c10)"/>
<rect x="170" y="300.0" width="2.05" height="130.0" fill="url(#c11)"/>
<rect x="172" y="300.0" width="2.05" height="130.0" fill="url(#c12)"/>
<rect x="174" y="300.0" width="2.05" height="130.0" fill="url(#c13)"/>
<rect x="176" y="300.0" width="2.05" height="130.0" fill="url(#c14)"/>
<rect x="178" y="300.0" width="2.05" height="130.0" fill="url(#c15)"/>
<rect x="180" y="300.0" width="2.05" height="130.0" fill="url(#c16)"/>
<rect x="182" y="300.0" width="2.05" height="130.0" fill="url(#c17)"/>
<rect x="184" y="300.0" width="2.05" height="130.0" fill="url(#c18)"/>
<rect x="186" y="300.0" width="2.05" height="130.0" fill="url(#c19)"/>
<rect x="188" y="300.0" width="2.05" height="130.0" fill="url(#c20)"/>
<rect x="190" y="300.0" width="2.05" height="130.0" fill="url(#c21)"/>
<rect x="192" y="300.0" width="2.05" height="130.0" fill="url(#c22)"/>
<rect x="194" y="300.0" width="2.05" height="130.0" fill="url(#c23)"/>
<rect x="196" y="300.0" width="2.05" height="130.0" fill="url(#c24)"/>
<rect x="198" y="300.0" width="2.05" height="130.0" fill="url(#c25)"/>
<rect x="200" y="300.0" width="2.05" height="130.0" fill="url(#c26)"/>
<rect x="202" y="300.0" width="2.05" height="130.0" fill="url(#c27)"/>
<rect x="204" y="300.0" width="2.05" height="130.0" fill="url(#c28)"/>
<rect x="206" y="300.0" width="2.05" height="130.0" fill="url(#c29)"/>
<rect x="208" y="300.0" width="2.05" height="130.0" fill="url(#c30)"/>
<rect x="210" y="300.0" width="2.05" height="130.0" fill="url(#c31)"/>
<rect x="212" y="300.0" width="2.05" height="130.0" fill="url(#c32)"/>
<rect x="214" y="300.0" width="2.05" height="130.0" fill="url(#c33)"/>
<rect x="216" y="300.0" width="2.05" height="130.0" fill="url(#c34)"/>
<rect x="218" y="300.0" width="2.05" height="130.0" fill="url(#c35)"/>
<rect x="220" y="300.0" width="2.05" height="130.0" fill="url(#c36)"/>
<rect x="222" y="300.0" width="2.05" height="130.0" fill="url(#c37)"/>
<rect x="224" y="300.0" width="2.05" height="130.0" fill="url(#c38)"/>
<rect x="226" y="300.0" width="2.05" height="130.0" fill="url(#c39)"/>
<rect x="228" y="300.0" width="2.05" height="130.0" fill="url(#c40)"/>
<rect x="230" y="300.0" width="2.05" height="130.0" fill="url(#c41)"/>
<rect x="232" y="300.0" width="2.05" height="130.0" fill="url(#c42)"/>
<rect x="234" y="300.0" width="2.05" height="130.0" fill="url(#c43)"/>
<rect x="236" y="300.0" width="2.05" height="130.0" fill="url(#c44)"/>
<rect x="238" y="300.0" width="2.05" height="130.0" fill="url(#c45)"/>
<rect x="240" y="300.0" width="2.05" height="130.0" fill="url(#c46)"/>
<rect x="242" y="300.0" width="2.05" height="130.0" fill="url(#c47)"/>
<rect x="244" y="300.0" width="2.05" height="130.0" fill="url(#c48)"/>
<rect x="246" y="300.0" width="2.05" height="130.0" fill="url(#c49)"/>
<rect x="248" y="300.0" width="2.05" height="130.0" fill="url(#c50)"/>
<rect x="250" y="300.0" width="2.05" height="130.0" fill="url(#c51)"/>
<rect x="252" y="300.0" width="2.05" height="130.0" fill="url(#c52)"/>
<rect x="254" y="300.0" width="2.05" height="130.0" fill="url(#c53)"/>
<rect x="256" y="300.0" width="2.05" height="130.0" fill="url(#c54)"/>
<rect x="258" y="300.0" width="2.05" height="130.0" fill="url(#c55)"/>
<rect x="260" y="300.0" width="2.05" height="130.0" fill="url(#c56)"/>
<rect x="262" y="300.0" width="2.05" height="130.0" fill="url(#c57)"/>
<rect x="264" y="300.0" width="2.05" height="130.0" fill="url(#c58)"/>
<rect x="266" y="300.0" width="2.05" height="130.0" fill="url(#c59)"/>
<rect x="268" y="300.0" width="2.05" height="130.0" fill="url(#c60)"/>
<rect x="270" y="300.0" width="2.05" height="130.0" fill="url(#c61)"/>
<rect x="272" y="300.0" width="2.05" height="130.0" fill="url(#c62)"/>
<rect x="274" y="300.0" width="2.05" height="130.0" fill="url(#c63)"/>
<rect x="276" y="300.0" width="2.05" height="130.0" fill="url(#c64)"/>
<rect x="278" y="300.0" width="2.05" height="130.0" fill="url(#c65)"/>
<rect x="280" y="300.0" width="2.05" height="130.0" fill="url(#c66)"/>
<rect x="282" y="300.0" width="2.05" height="130.0" fill="url(#c67)"/>
<rect x="284" y="300.0" width="2.05" height="130.0" fill="url(#c68)"/>
<rect x="286" y="300.0" width="2.05" height="130.0" fill="url(#c69)"/>
<rect x="288" y="300.0" width="2.05" height="130.0" fill="url(#c70)"/>
<rect x="290" y="300.0" width="2.05" height="130.0" fill="url(#c71)"/>
<rect x="292" y="300.0" width="2.05" height="130.0" fill="url(#c72)"/>
<rect x="294" y="300.0" width="2.05" height="130.0" fill="url(#c73)"/>
<rect x="296" y="300.0" width="2.05" height="130.0" fill="url(#c74)"/>
<rect x="298" y="300.0" width="2.05" height="130.0" fill="url(#c75)"/>
<rect x="300" y="300.0" width="2.05" height="130.0" fill="url(#c76)"/>
<rect x="302" y="300.0" width="2.05" height="130.0" fill="url(#c77)"/>
<rect x="304" y="300.0" width="2.05" height="130.0" fill="url(#c78)"/>
<rect x="306" y="300.0" width="2.05" height="130.0" fill="url(#c79)"/>
<rect x="308" y="300.0" width="2.05" height="130.0" fill="url(#c80)"/>
<rect x="310" y="300.0" width="2.05" height="130.0" fill="url(#c81)"/>
<rect x="312" y="300.0" width="2.05" height="130.0" fill="url(#c82)"/>
<rect x="314" y="300.0" width="2.05" height="130.0" fill="url(#c83)"/>
<rect x="316" y="300.0" width="2.05" height="130.0" fill="url(#c84)"/>
<rect x="318" y="300.0" width="2.05" height="130.0" fill="url(#c85)"/>
<rect x="320" y="300.0" width="2.05" height="130.0" fill="url(#c86)"/>
<rect x="322" y="300.0" width="2.05" height="130.0" fill="url(#c87)"/>
<rect x="324" y="300.0" width="2.05" height="130.0" fill="url(#c88)"/>
<rect x="326" y="300.0" width="2.05" height="130.0" fill="url(#c89)"/>
<rect x="328" y="300.0" width="2.05" height="130.0" fill="url(#c90)"/>
<rect x="330" y="300.0" width="2.05" height="130.0" fill="url(#c91)"/>
<rect x="332" y="300.0" width="2.05" height="130.0" fill="url(#c92)"/>
<rect x="334" y="300.0" width="2.05" height="130.0" fill="url(#c93)"/>
<rect x="336" y="300.0" width="2.05" height="130.0" fill="url(#c94)"/>
<rect x="338" y="300.0" width="2.05" height="130.0" fill="url(#c95)"/>
<rect x="340" y="300.0" width="2.05" height="130.0" fill="url(#c96)"/>
<rect x="342" y="300.0" width="2.05" height="130.0" fill="url(#c97)"/>
<rect x="344" y="300.0" width="2.05" height="130.0" fill="url(#c98)"/>
<rect x="346" y="300.0" width="2.05" height="130.0" fill="url(#c99)"/>
<rect x="348" y="300.0" width="2.05" height="130.0" fill="url(#c100)"/>
<rect x="350" y="300.0" width="2.05" height="130.0" fill="url(#c101)"/>
<rect x="352" y="300.0" width="2.05" height="130.0" fill="url(#c102)"/>
<rect x="354" y="300.0" width="2.05" height="130.0" fill="url(#c103)"/>
<rect x="356" y="300.0" width="2.05" height="130.0" fill="url(#c104)"/>
<rect x="358" y="300.0" width="2.05" height="130.0" fill="url(#c105)"/>
<rect x="360" y="300.0" width="2.05" height="130.0" fill="url(#c106)"/>
<rect x="362" y="300.0" width="2.05" height="130.0" fill="url(#c107)"/>
<rect x="364" y="300.0" width="2.05" height="130.0" fill="url(#c108)"/>
<rect x="366" y="300.0" width="2.05" height="130.0" fill="url(#c109)"/>
<rect x="368" y="300.0" width="2.05" height="130.0" fill="url(#c110)"/>
<rect x="370" y="300.0" width="2.05" height="130.0" fill="url(#c111)"/>
<rect x="372" y="300.0" width="2.05" height="130.0" fill="url(#c112)"/>
<rect x="374" y="300.0" width="2.05" height="130.0" fill="url(#c113)"/>
<rect x="376" y="300.0" width="2.05" height="130.0" fill="url(#c114)"/>
<rect x="378" y="300.0" width="2.05" height="130.0" fill="url(#c115)"/>
<rect x="380" y="300.0" width="2.05" height="130.0" fill="url(#c116)"/>
<rect x="382" y="300.0" width="2.05" height="130.0" fill="url(#c117)"/>
<rect x="384" y="300.0" width="2.05" height="130.0" fill="url(#c118)"/>
<rect x="386" y="300.0" width="2.05" height="130.0" fill="url(#c119)"/>
<rect x="388" y="300.0" width="2.05" height="130.0" fill="url(#c120)"/>
<rect x="390" y="300.0" width="2.05" height="130.0" fill="url(#c121)"/>
<rect x="392" y="300.0" width="2.05" height="130.0" fill="url(#c122)"/>
<rect x="394" y="300.0" width="2.05" height="130.0" fill="url(#c123)"/>
<rect x="396" y="300.0" width="2.05" height="130.0" fill="url(#c124)"/>
<rect x="398" y="300.0" width="2.05" height="130.0" fill="url(#c125)"/>
<rect x="400" y="300.0" width="2.05" height="130.0" fill="url(#c126)"/>
<rect x="402" y="300.0" width="2.05" height="130.0" fill="url(#c127)"/>
<rect x="404" y="300.0" width="2.05" height="130.0" fill="url(#c128)"/>
<rect x="406" y="300.0" width="2.05" height="130.0" fill="url(#c129)"/>
<rect x="408" y="300.0" width="2.05" height="130.0" fill="url(#c130)"/>
<rect x="410" y="300.0" width="2.05" height="130.0" fill="url(#c131)"/>
<rect x="412" y="300.0" width="2.05" height="130.0" fill="url(#c132)"/>
<rect x="414" y="300.0" width="2.05" height="130.0" fill="url(#c133)"/>
<rect x="416" y="300.0" width="2.05" height="130.0" fill="url(#c134)"/>
<rect x="418" y="300.0" width="2.05" height="130.0" fill="url(#c135)"/>
<rect x="420" y="300.0" width="2.05" height="130.0" fill="url(#c136)"/>
<rect x="422" y="300.0" width="2.05" height="130.0" fill="url(#c137)"/>
<rect x="424" y="300.0" width="2.05" height="130.0" fill="url(#c138)"/>
<rect x="426" y="300.0" width="2.05" height="130.0" fill="url(#c139)"/>
<rect x="428" y="300.0" width="2.05" height="130.0" fill="url(#c140)"/>
<rect x="430" y="300.0" width="2.05" height="130.0" fill="url(#c141)"/>
<g filter="url(#blur3)" fill="#5e5a3c" opacity="0.25">
<polygon points="205,338 240,345 270,352 300,360 330,366 330,376 300,372 265,365 235,356 205,350"/>
<polygon points="300,334 318,338 322,360 314,372 306,356"/>
<polygon points="230,372 260,380 300,392 330,396 341,380 380,372 420,368 431,372 431,390 400,380 360,386 330,400 290,398 250,386 225,378"/>
<polygon points="186,382 215,382 215,405 186,406"/>
</g>
<polygon points="235,381 241,368 246,360 249,362 247,372 244,381" fill="#2fb6c8" opacity="0.9"/>
<polygon points="256,362 258,360 261,361 260,365 257,365" fill="#efe8f0" stroke="#6a4a7a" stroke-width="0.8"/>
<rect x="149" y="326.1" width="1.05" height="15.1" fill="#6a3c7c"/>
<rect x="150" y="325.8" width="1.05" height="15.7" fill="#643676"/>
<rect x="151" y="325.5" width="1.05" height="15.6" fill="#6e4284"/>
<rect x="152" y="325.3" width="1.05" height="14.3" fill="#5c306e"/>
<rect x="153" y="325.0" width="1.05" height="14.9" fill="#6a3c7c"/>
<rect x="154" y="324.7" width="1.05" height="10.9" fill="#5c306e"/>
<rect x="155" y="324.4" width="1.05" height="10.5" fill="#643676"/>
<rect x="156" y="324.1" width="1.05" height="12.8" fill="#5c306e"/>
<rect x="157" y="301.8" width="1.05" height="11.2" fill="#5c306e"/>
<rect x="157" y="323.8" width="1.05" height="15.9" fill="#6e4284"/>
<rect x="157" y="308.5" width="1.05" height="6.6" fill="#6e4284"/>
<rect x="157" y="360.8" width="1.05" height="2.9" fill="#5e2c72"/>
<rect x="158" y="302.1" width="1.05" height="11.0" fill="#6a3c7c"/>
<rect x="158" y="323.5" width="1.05" height="14.5" fill="#6a3c7c"/>
<rect x="158" y="307.3" width="1.05" height="7.8" fill="#6a3c7c"/>
<rect x="158" y="361.3" width="1.05" height="3.8" fill="#5e2c72"/>
<rect x="159" y="302.4" width="1.05" height="11.1" fill="#6e4284"/>
<rect x="159" y="323.6" width="1.05" height="10.5" fill="#643676"/>
<rect x="159" y="310.0" width="1.05" height="5.4" fill="#643676"/>
<rect x="159" y="361.8" width="1.05" height="3.7" fill="#5e2c72"/>
<rect x="160" y="302.7" width="1.05" height="11.2" fill="#643676"/>
<rect x="160" y="324.0" width="1.05" height="13.8" fill="#6e4284"/>
<rect x="160" y="308.5" width="1.05" height="7.5" fill="#6e4284"/>
<rect x="160" y="362.2" width="1.05" height="2.8" fill="#5e2c72"/>
<rect x="161" y="303.1" width="1.05" height="11.3" fill="#643676"/>
<rect x="161" y="324.4" width="1.05" height="10.8" fill="#6a3c7c"/>
<rect x="161" y="309.6" width="1.05" height="6.8" fill="#6a3c7c"/>
<rect x="161" y="362.7" width="1.05" height="3.3" fill="#5e2c72"/>
<rect x="162" y="303.5" width="1.05" height="11.4" fill="#6a3c7c"/>
<rect x="162" y="324.8" width="1.05" height="12.5" fill="#5c306e"/>
<rect x="162" y="309.6" width="1.05" height="7.3" fill="#5c306e"/>
<rect x="162" y="363.2" width="1.05" height="4.1" fill="#5e2c72"/>
<rect x="163" y="303.8" width="1.05" height="11.6" fill="#6a3c7c"/>
<rect x="163" y="325.2" width="1.05" height="14.1" fill="#643676"/>
<rect x="163" y="310.7" width="1.05" height="6.8" fill="#643676"/>
<rect x="163" y="363.7" width="1.05" height="2.6" fill="#5e2c72"/>
<rect x="164" y="303.8" width="1.05" height="12.1" fill="#6e4284"/>
<rect x="164" y="325.6" width="1.05" height="12.3" fill="#643676"/>
<rect x="164" y="312.4" width="1.05" height="5.5" fill="#643676"/>
<rect x="164" y="364.2" width="1.05" height="2.6" fill="#5e2c72"/>
<rect x="165" y="303.8" width="1.05" height="12.6" fill="#6e4284"/>
<rect x="165" y="326.0" width="1.05" height="11.4" fill="#6a3c7c"/>
<rect x="165" y="311.5" width="1.05" height="7.0" fill="#6a3c7c"/>
<rect x="165" y="364.6" width="1.05" height="3.1" fill="#5e2c72"/>
<rect x="166" y="303.8" width="1.05" height="13.1" fill="#6a3c7c"/>
<rect x="166" y="326.3" width="1.05" height="14.6" fill="#6a3c7c"/>
<rect x="166" y="312.8" width="1.05" height="6.2" fill="#6a3c7c"/>
<rect x="166" y="365.1" width="1.05" height="3.4" fill="#5e2c72"/>
<rect x="167" y="303.8" width="1.05" height="13.6" fill="#6e4284"/>
<rect x="167" y="326.5" width="1.05" height="19.8" fill="#5c306e"/>
<rect x="167" y="312.1" width="1.05" height="7.4" fill="#5c306e"/>
<rect x="167" y="365.6" width="1.05" height="3.6" fill="#5e2c72"/>
<rect x="168" y="303.8" width="1.05" height="14.1" fill="#5c306e"/>
<rect x="168" y="326.7" width="1.05" height="12.5" fill="#6a3c7c"/>
<rect x="168" y="314.1" width="1.05" height="5.8" fill="#6a3c7c"/>
<rect x="168" y="366.1" width="1.05" height="3.9" fill="#5e2c72"/>
<rect x="169" y="303.8" width="1.05" height="14.6" fill="#6e4284"/>
<rect x="169" y="326.9" width="1.05" height="11.2" fill="#6a3c7c"/>
<rect x="169" y="314.4" width="1.05" height="6.0" fill="#6a3c7c"/>
<rect x="169" y="366.6" width="1.05" height="3.8" fill="#5e2c72"/>
<rect x="170" y="303.8" width="1.05" height="15.1" fill="#6a3c7c"/>
<rect x="170" y="327.1" width="1.05" height="15.3" fill="#5c306e"/>
<rect x="170" y="314.0" width="1.05" height="7.0" fill="#5c306e"/>
<rect x="170" y="367.0" width="1.05" height="4.0" fill="#5e2c72"/>
<rect x="171" y="303.8" width="1.05" height="15.6" fill="#5c306e"/>
<rect x="171" y="327.3" width="1.05" height="17.9" fill="#6a3c7c"/>
<rect x="171" y="316.4" width="1.05" height="5.0" fill="#6a3c7c"/>
<rect x="171" y="367.5" width="1.05" height="3.1" fill="#5e2c72"/>
<rect x="172" y="303.8" width="1.05" height="16.1" fill="#6a3c7c"/>
<rect x="172" y="327.5" width="1.05" height="13.1" fill="#6a3c7c"/>
<rect x="172" y="316.2" width="1.05" height="5.8" fill="#6a3c7c"/>
<rect x="172" y="368.0" width="1.05" height="4.2" fill="#5e2c72"/>
<rect x="173" y="304.0" width="1.05" height="16.4" fill="#5c306e"/>
<rect x="173" y="327.7" width="1.05" height="13.6" fill="#5c306e"/>
<rect x="173" y="317.2" width="1.05" height="5.2" fill="#5c306e"/>
<rect x="173" y="368.5" width="1.05" height="2.6" fill="#5e2c72"/>
<rect x="174" y="304.4" width="1.05" height="16.5" fill="#5c306e"/>
<rect x="174" y="327.9" width="1.05" height="16.6" fill="#6e4284"/>
<rect x="174" y="316.7" width="1.05" height="6.2" fill="#6e4284"/>
<rect x="174" y="369.0" width="1.05" height="2.8" fill="#5e2c72"/>
<rect x="175" y="304.8" width="1.05" height="16.5" fill="#6e4284"/>
<rect x="175" y="328.1" width="1.05" height="15.2" fill="#6e4284"/>
<rect x="175" y="317.1" width="1.05" height="6.3" fill="#6e4284"/>
<rect x="175" y="369.4" width="1.05" height="4.4" fill="#5e2c72"/>
<rect x="176" y="305.2" width="1.05" height="16.6" fill="#5c306e"/>
<rect x="176" y="328.3" width="1.05" height="12.8" fill="#6e4284"/>
<rect x="176" y="318.2" width="1.05" height="5.6" fill="#6e4284"/>
<rect x="176" y="369.9" width="1.05" height="4.3" fill="#5e2c72"/>
<rect x="177" y="305.6" width="1.05" height="16.6" fill="#6e4284"/>
<rect x="177" y="328.5" width="1.05" height="14.0" fill="#6a3c7c"/>
<rect x="177" y="316.2" width="1.05" height="8.0" fill="#6a3c7c"/>
<rect x="177" y="370.4" width="1.05" height="9.2" fill="#5e2c72"/>
<rect x="178" y="306.0" width="1.05" height="16.7" fill="#643676"/>
<rect x="178" y="328.7" width="1.05" height="12.0" fill="#5c306e"/>
<rect x="178" y="317.8" width="1.05" height="6.9" fill="#5c306e"/>
<rect x="178" y="370.9" width="1.05" height="9.7" fill="#5e2c72"/>
<rect x="179" y="306.4" width="1.05" height="16.7" fill="#643676"/>
<rect x="179" y="328.9" width="1.05" height="16.4" fill="#5c306e"/>
<rect x="179" y="319.6" width="1.05" height="5.5" fill="#5c306e"/>
<rect x="179" y="371.4" width="1.05" height="8.5" fill="#5e2c72"/>
<rect x="180" y="306.7" width="1.05" height="16.9" fill="#6a3c7c"/>
<rect x="180" y="329.2" width="1.05" height="13.8" fill="#5c306e"/>
<rect x="180" y="320.4" width="1.05" height="5.2" fill="#5c306e"/>
<rect x="180" y="371.8" width="1.05" height="12.4" fill="#5e2c72"/>
<rect x="181" y="306.9" width="1.05" height="17.1" fill="#643676"/>
<rect x="181" y="329.6" width="1.05" height="17.0" fill="#6a3c7c"/>
<rect x="181" y="320.6" width="1.05" height="5.5" fill="#6a3c7c"/>
<rect x="181" y="372.3" width="1.05" height="5.7" fill="#5e2c72"/>
<rect x="182" y="307.1" width="1.05" height="17.4" fill="#6a3c7c"/>
<rect x="182" y="329.9" width="1.05" height="12.1" fill="#6a3c7c"/>
<rect x="182" y="319.6" width="1.05" height="6.8" fill="#6a3c7c"/>
<rect x="182" y="372.8" width="1.05" height="11.1" fill="#5e2c72"/>
<rect x="183" y="307.3" width="1.05" height="17.6" fill="#643676"/>
<rect x="183" y="330.3" width="1.05" height="15.4" fill="#6e4284"/>
<rect x="183" y="321.4" width="1.05" height="5.6" fill="#6e4284"/>
<rect x="183" y="373.3" width="1.05" height="6.4" fill="#5e2c72"/>
<rect x="184" y="307.5" width="1.05" height="17.9" fill="#643676"/>
<rect x="184" y="330.7" width="1.05" height="11.4" fill="#643676"/>
<rect x="184" y="320.0" width="1.05" height="7.3" fill="#643676"/>
<rect x="184" y="373.8" width="1.05" height="12.9" fill="#5e2c72"/>
<rect x="185" y="307.7" width="1.05" height="18.1" fill="#643676"/>
<rect x="185" y="331.1" width="1.05" height="20.8" fill="#6a3c7c"/>
<rect x="185" y="320.5" width="1.05" height="7.3" fill="#6a3c7c"/>
<rect x="185" y="374.2" width="1.05" height="8.0" fill="#5e2c72"/>
<rect x="186" y="307.9" width="1.05" height="18.4" fill="#5c306e"/>
<rect x="186" y="331.4" width="1.05" height="17.7" fill="#5c306e"/>
<rect x="186" y="320.8" width="1.05" height="7.4" fill="#5c306e"/>
<rect x="186" y="374.7" width="1.05" height="7.4" fill="#5e2c72"/>
<rect x="187" y="307.9" width="1.05" height="18.9" fill="#643676"/>
<rect x="187" y="331.8" width="1.05" height="15.0" fill="#5c306e"/>
<rect x="187" y="321.8" width="1.05" height="7.0" fill="#5c306e"/>
<rect x="187" y="375.2" width="1.05" height="11.4" fill="#5e2c72"/>
<rect x="188" y="307.6" width="1.05" height="19.8" fill="#5c306e"/>
<rect x="188" y="332.2" width="1.05" height="13.7" fill="#643676"/>
<rect x="188" y="322.1" width="1.05" height="7.3" fill="#643676"/>
<rect x="188" y="375.7" width="1.05" height="12.5" fill="#5e2c72"/>
<rect x="189" y="307.4" width="1.05" height="20.6" fill="#6a3c7c"/>
<rect x="189" y="332.6" width="1.05" height="11.0" fill="#643676"/>
<rect x="189" y="324.3" width="1.05" height="5.6" fill="#643676"/>
<rect x="189" y="376.2" width="1.05" height="10.2" fill="#5e2c72"/>
<rect x="190" y="307.1" width="1.05" height="21.4" fill="#6e4284"/>
<rect x="190" y="332.9" width="1.05" height="10.0" fill="#6a3c7c"/>
<rect x="190" y="325.1" width="1.05" height="5.4" fill="#6a3c7c"/>
<rect x="191" y="306.9" width="1.05" height="22.2" fill="#643676"/>
<rect x="191" y="333.1" width="1.05" height="20.3" fill="#6e4284"/>
<rect x="191" y="325.7" width="1.05" height="5.4" fill="#6e4284"/>
<rect x="192" y="306.6" width="1.05" height="23.1" fill="#6e4284"/>
<rect x="192" y="332.6" width="1.05" height="10.4" fill="#5c306e"/>
<rect x="192" y="325.4" width="1.05" height="6.3" fill="#5c306e"/>
<rect x="193" y="306.4" width="1.05" height="23.9" fill="#5c306e"/>
<rect x="193" y="332.2" width="1.05" height="17.3" fill="#6a3c7c"/>
<rect x="193" y="325.1" width="1.05" height="7.1" fill="#6a3c7c"/>
<rect x="194" y="306.1" width="1.05" height="24.8" fill="#6a3c7c"/>
<rect x="194" y="331.8" width="1.05" height="10.8" fill="#6a3c7c"/>
<rect x="194" y="327.4" width="1.05" height="5.5" fill="#6a3c7c"/>
<rect x="195" y="305.9" width="1.05" height="25.6" fill="#643676"/>
<rect x="195" y="331.4" width="1.05" height="11.4" fill="#6e4284"/>
<rect x="195" y="327.3" width="1.05" height="6.2" fill="#6e4284"/>
<rect x="196" y="305.6" width="1.05" height="13.8" fill="#5c306e"/>
<rect x="196" y="330.9" width="1.05" height="17.5" fill="#643676"/>
<rect x="196" y="327.6" width="1.05" height="6.3" fill="#643676"/>
<rect x="197" y="305.4" width="1.05" height="9.6" fill="#5c306e"/>
<rect x="197" y="330.5" width="1.05" height="11.1" fill="#5c306e"/>
<rect x="197" y="329.4" width="1.05" height="5.0" fill="#5c306e"/>
<rect x="198" y="305.0" width="1.05" height="13.7" fill="#6a3c7c"/>
<rect x="198" y="330.1" width="1.05" height="15.3" fill="#5c306e"/>
<rect x="198" y="329.4" width="1.05" height="5.6" fill="#5c306e"/>
<rect x="199" y="304.5" width="1.05" height="8.3" fill="#5c306e"/>
<rect x="199" y="329.6" width="1.05" height="11.4" fill="#6e4284"/>
<rect x="199" y="330.4" width="1.05" height="5.1" fill="#6e4284"/>
<rect x="200" y="304.0" width="1.05" height="12.7" fill="#6a3c7c"/>
<rect x="200" y="329.2" width="1.05" height="13.2" fill="#643676"/>
<rect x="200" y="330.9" width="1.05" height="5.1" fill="#643676"/>
<rect x="201" y="303.5" width="1.05" height="9.1" fill="#5c306e"/>
<rect x="201" y="329.3" width="1.05" height="16.6" fill="#643676"/>
<rect x="201" y="329.5" width="1.05" height="7.0" fill="#643676"/>
<rect x="202" y="303.0" width="1.05" height="8.4" fill="#5c306e"/>
<rect x="202" y="330.0" width="1.05" height="13.0" fill="#6e4284"/>
<rect x="202" y="329.6" width="1.05" height="7.3" fill="#6e4284"/>
<rect x="203" y="302.5" width="1.05" height="12.5" fill="#5c306e"/>
<rect x="203" y="330.7" width="1.05" height="17.8" fill="#643676"/>
<rect x="203" y="331.8" width="1.05" height="5.7" fill="#643676"/>
<rect x="204" y="302.5" width="1.05" height="14.3" fill="#6a3c7c"/>
<rect x="204" y="331.3" width="1.05" height="11.3" fill="#643676"/>
<rect x="204" y="331.7" width="1.05" height="6.8" fill="#643676"/>
<rect x="205" y="302.6" width="1.05" height="9.3" fill="#643676"/>
<rect x="205" y="332.0" width="1.05" height="19.5" fill="#6e4284"/>
<rect x="205" y="333.4" width="1.05" height="6.3" fill="#6e4284"/>
<rect x="206" y="302.7" width="1.05" height="12.6" fill="#6a3c7c"/>
<rect x="206" y="332.7" width="1.05" height="13.6" fill="#643676"/>
<rect x="206" y="333.2" width="1.05" height="7.7" fill="#643676"/>
<rect x="207" y="302.8" width="1.05" height="13.8" fill="#5c306e"/>
<rect x="207" y="333.3" width="1.05" height="12.7" fill="#643676"/>
<rect x="207" y="335.1" width="1.05" height="7.1" fill="#643676"/>
<rect x="208" y="302.9" width="1.05" height="10.6" fill="#6e4284"/>
<rect x="208" y="334.0" width="1.05" height="11.2" fill="#643676"/>
<rect x="208" y="338.4" width="1.05" height="5.1" fill="#643676"/>
<rect x="209" y="303.1" width="1.05" height="16.0" fill="#643676"/>
<rect x="209" y="334.6" width="1.05" height="10.1" fill="#5c306e"/>
<rect x="209" y="339.1" width="1.05" height="5.5" fill="#5c306e"/>
<rect x="210" y="303.6" width="1.05" height="8.7" fill="#5c306e"/>
<rect x="211" y="304.1" width="1.05" height="13.0" fill="#643676"/>
<rect x="212" y="304.6" width="1.05" height="12.8" fill="#643676"/>
<rect x="213" y="305.2" width="1.05" height="8.4" fill="#5c306e"/>
<rect x="214" y="305.7" width="1.05" height="9.3" fill="#6a3c7c"/>
<rect x="215" y="306.2" width="1.05" height="11.8" fill="#643676"/>
<rect x="216" y="306.8" width="1.05" height="11.7" fill="#5c306e"/>
<rect x="217" y="307.3" width="1.05" height="13.2" fill="#6e4284"/>
<rect x="218" y="307.8" width="1.05" height="9.1" fill="#5c306e"/>
<rect x="219" y="308.5" width="1.05" height="12.1" fill="#5c306e"/>
<rect x="220" y="309.5" width="1.05" height="11.2" fill="#6a3c7c"/>
<rect x="221" y="310.5" width="1.05" height="9.0" fill="#6a3c7c"/>
<rect x="222" y="311.5" width="1.05" height="11.1" fill="#643676"/>
<rect x="223" y="312.5" width="1.05" height="9.1" fill="#6a3c7c"/>
<rect x="224" y="313.5" width="1.05" height="10.9" fill="#6e4284"/>
<rect x="225" y="314.5" width="1.05" height="14.2" fill="#6e4284"/>
<rect x="226" y="315.3" width="1.05" height="12.9" fill="#643676"/>
<rect x="227" y="316.0" width="1.05" height="11.9" fill="#643676"/>
<rect x="228" y="316.8" width="1.05" height="8.7" fill="#5c306e"/>
<rect x="229" y="317.5" width="1.05" height="8.9" fill="#6a3c7c"/>
<rect x="230" y="318.3" width="1.05" height="10.5" fill="#6a3c7c"/>
<rect x="231" y="319.0" width="1.05" height="9.5" fill="#643676"/>
<rect x="232" y="319.6" width="1.05" height="10.2" fill="#6e4284"/>
<rect x="233" y="319.9" width="1.05" height="10.7" fill="#5c306e"/>
<rect x="234" y="320.2" width="1.05" height="8.7" fill="#6a3c7c"/>
<rect x="235" y="320.6" width="1.05" height="12.3" fill="#6e4284"/>
<rect x="236" y="320.9" width="1.05" height="11.6" fill="#5c306e"/>
<rect x="237" y="321.2" width="1.05" height="10.8" fill="#5c306e"/>
<rect x="238" y="321.6" width="1.05" height="8.1" fill="#5c306e"/>
<rect x="239" y="321.9" width="1.05" height="8.8" fill="#643676"/>
<rect x="240" y="322.2" width="1.05" height="10.7" fill="#5c306e"/>
<rect x="241" y="322.6" width="1.05" height="15.2" fill="#643676"/>
<rect x="242" y="322.5" width="1.05" height="11.6" fill="#5c306e"/>
<rect x="243" y="322.3" width="1.05" height="10.1" fill="#643676"/>
<rect x="244" y="322.1" width="1.05" height="12.1" fill="#6e4284"/>
<rect x="245" y="321.9" width="1.05" height="9.9" fill="#6e4284"/>
<rect x="246" y="321.8" width="1.05" height="9.3" fill="#5c306e"/>
<rect x="247" y="321.6" width="1.05" height="8.7" fill="#643676"/>
<rect x="248" y="321.4" width="1.05" height="12.6" fill="#5c306e"/>
<rect x="249" y="321.3" width="1.05" height="11.0" fill="#5c306e"/>
<rect x="250" y="321.1" width="1.05" height="13.0" fill="#6a3c7c"/>
<rect x="251" y="321.0" width="1.05" height="8.7" fill="#6a3c7c"/>
<rect x="252" y="321.0" width="1.05" height="9.4" fill="#643676"/>
<rect x="253" y="321.0" width="1.05" height="10.7" fill="#6a3c7c"/>
<rect x="254" y="321.0" width="1.05" height="9.2" fill="#6a3c7c"/>
<rect x="255" y="321.0" width="1.05" height="9.3" fill="#6e4284"/>
<rect x="256" y="321.0" width="1.05" height="8.5" fill="#643676"/>
<rect x="257" y="321.0" width="1.05" height="16.4" fill="#6e4284"/>
<rect x="258" y="321.0" width="1.05" height="15.9" fill="#643676"/>
<rect x="259" y="321.0" width="1.05" height="8.6" fill="#643676"/>
<rect x="260" y="321.0" width="1.05" height="12.6" fill="#6a3c7c"/>
<rect x="261" y="320.5" width="1.05" height="12.8" fill="#5c306e"/>
<rect x="262" y="319.7" width="1.05" height="11.7" fill="#643676"/>
<rect x="263" y="319.0" width="1.05" height="8.1" fill="#643676"/>
<rect x="264" y="318.2" width="1.05" height="9.5" fill="#6e4284"/>
<rect x="265" y="317.5" width="1.05" height="9.3" fill="#6a3c7c"/>
<rect x="266" y="316.7" width="1.05" height="9.7" fill="#6a3c7c"/>
<rect x="267" y="316.1" width="1.05" height="10.1" fill="#6a3c7c"/>
<rect x="268" y="315.7" width="1.05" height="9.5" fill="#6e4284"/>
<rect x="269" y="315.3" width="1.05" height="7.5" fill="#643676"/>
<rect x="270" y="314.9" width="1.05" height="7.4" fill="#6a3c7c"/>
<rect x="271" y="314.5" width="1.05" height="7.9" fill="#6e4284"/>
<rect x="272" y="314.1" width="1.05" height="8.3" fill="#5c306e"/>
<rect x="273" y="313.7" width="1.05" height="13.0" fill="#5c306e"/>
<rect x="274" y="313.3" width="1.05" height="8.0" fill="#6a3c7c"/>
<rect x="275" y="313.1" width="1.05" height="8.1" fill="#5c306e"/>
<rect x="276" y="313.3" width="1.05" height="7.2" fill="#643676"/>
<rect x="277" y="313.5" width="1.05" height="7.6" fill="#5c306e"/>
<rect x="278" y="313.7" width="1.05" height="8.7" fill="#643676"/>
<rect x="279" y="313.9" width="1.05" height="7.9" fill="#643676"/>
<rect x="280" y="314.1" width="1.05" height="12.9" fill="#643676"/>
<rect x="281" y="314.3" width="1.05" height="7.1" fill="#5c306e"/>
<rect x="282" y="314.5" width="1.05" height="7.3" fill="#6e4284"/>
<rect x="283" y="314.8" width="1.05" height="7.1" fill="#6a3c7c"/>
<rect x="284" y="315.2" width="1.05" height="6.8" fill="#6e4284"/>
<rect x="285" y="315.8" width="1.05" height="7.4" fill="#5c306e"/>
<rect x="286" y="316.2" width="1.05" height="12.0" fill="#643676"/>
<rect x="287" y="316.8" width="1.05" height="7.8" fill="#6a3c7c"/>
<rect x="288" y="317.2" width="1.05" height="8.4" fill="#643676"/>
<rect x="289" y="317.8" width="1.05" height="8.4" fill="#5c306e"/>
<rect x="290" y="318.2" width="1.05" height="8.3" fill="#5c306e"/>
<rect x="291" y="318.8" width="1.05" height="8.8" fill="#643676"/>
<rect x="292" y="319.2" width="1.05" height="7.2" fill="#6a3c7c"/>
<rect x="293" y="319.5" width="1.05" height="8.4" fill="#6a3c7c"/>
<rect x="294" y="319.7" width="1.05" height="8.2" fill="#6a3c7c"/>
<rect x="295" y="319.8" width="1.05" height="11.7" fill="#643676"/>
<rect x="296" y="320.0" width="1.05" height="8.1" fill="#5c306e"/>
<rect x="297" y="320.2" width="1.05" height="7.7" fill="#6a3c7c"/>
<rect x="298" y="320.3" width="1.05" height="8.1" fill="#6e4284"/>
<rect x="299" y="320.5" width="1.05" height="8.0" fill="#5c306e"/>
<rect x="300" y="320.7" width="1.05" height="7.4" fill="#6a3c7c"/>
<rect x="301" y="320.9" width="1.05" height="7.9" fill="#6a3c7c"/>
<rect x="302" y="321.0" width="1.05" height="9.0" fill="#6e4284"/>
<rect x="303" y="321.2" width="1.05" height="7.4" fill="#6e4284"/>
<rect x="304" y="321.4" width="1.05" height="8.4" fill="#6e4284"/>
<rect x="305" y="321.5" width="1.05" height="8.6" fill="#6e4284"/>
<rect x="306" y="321.7" width="1.05" height="7.1" fill="#6e4284"/>
<rect x="307" y="321.9" width="1.05" height="7.6" fill="#643676"/>
<rect x="308" y="322.0" width="1.05" height="8.2" fill="#5c306e"/>
<rect x="309" y="322.2" width="1.05" height="9.6" fill="#6a3c7c"/>
<rect x="310" y="322.4" width="1.05" height="14.6" fill="#6e4284"/>
<rect x="311" y="322.5" width="1.05" height="10.1" fill="#643676"/>
<rect x="312" y="322.4" width="1.05" height="7.5" fill="#6a3c7c"/>
<rect x="313" y="322.1" width="1.05" height="11.9" fill="#643676"/>
<rect x="314" y="321.8" width="1.05" height="8.2" fill="#643676"/>
<rect x="315" y="321.4" width="1.05" height="12.2" fill="#6a3c7c"/>
<rect x="316" y="321.1" width="1.05" height="7.8" fill="#6a3c7c"/>
<rect x="317" y="320.8" width="1.05" height="8.6" fill="#5c306e"/>
<rect x="318" y="320.4" width="1.05" height="8.2" fill="#6a3c7c"/>
<rect x="319" y="320.1" width="1.05" height="8.1" fill="#643676"/>
<rect x="320" y="319.8" width="1.05" height="7.7" fill="#6a3c7c"/>
<rect x="321" y="319.4" width="1.05" height="9.6" fill="#5c306e"/>
<rect x="322" y="319.1" width="1.05" height="9.5" fill="#5c306e"/>
<rect x="323" y="318.8" width="1.05" height="7.8" fill="#5c306e"/>
<rect x="324" y="318.5" width="1.05" height="9.2" fill="#6e4284"/>
<rect x="325" y="318.2" width="1.05" height="11.2" fill="#643676"/>
<rect x="326" y="316.8" width="1.05" height="8.2" fill="#643676"/>
<rect x="327" y="314.4" width="1.05" height="10.1" fill="#5c306e"/>
<rect x="328" y="312.0" width="1.05" height="9.3" fill="#643676"/>
<rect x="329" y="308.8" width="1.05" height="7.7" fill="#5c306e"/>
<rect x="330" y="305.6" width="1.05" height="9.2" fill="#5c306e"/>
<rect x="331" y="304.8" width="1.05" height="8.3" fill="#6a3c7c"/>
<rect x="332" y="309.6" width="1.05" height="9.0" fill="#643676"/>
<rect x="333" y="318.6" width="1.05" height="7.3" fill="#643676"/>
<rect x="334" y="330.6" width="1.05" height="12.0" fill="#5c306e"/>
<rect x="335" y="330.3" width="1.05" height="9.4" fill="#643676"/>
<rect x="336" y="330.1" width="1.05" height="9.0" fill="#6e4284"/>
<rect x="337" y="329.8" width="1.05" height="7.3" fill="#5c306e"/>
<rect x="338" y="329.6" width="1.05" height="7.5" fill="#6e4284"/>
<rect x="339" y="329.3" width="1.05" height="13.0" fill="#643676"/>
<rect x="340" y="329.1" width="1.05" height="11.0" fill="#5c306e"/>
<rect x="341" y="329.2" width="1.05" height="10.6" fill="#5c306e"/>
<rect x="342" y="329.6" width="1.05" height="12.7" fill="#643676"/>
<rect x="343" y="329.9" width="1.05" height="7.3" fill="#643676"/>
<rect x="344" y="330.2" width="1.05" height="12.1" fill="#643676"/>
<rect x="345" y="330.6" width="1.05" height="8.1" fill="#5c306e"/>
<rect x="346" y="330.9" width="1.05" height="7.8" fill="#6a3c7c"/>
<rect x="347" y="331.2" width="1.05" height="7.2" fill="#6e4284"/>
<rect x="348" y="331.6" width="1.05" height="7.4" fill="#6a3c7c"/>
<rect x="349" y="331.9" width="1.05" height="12.0" fill="#643676"/>
<rect x="350" y="332.2" width="1.05" height="8.2" fill="#6e4284"/>
<rect x="351" y="332.2" width="1.05" height="12.0" fill="#643676"/>
<rect x="352" y="332.2" width="1.05" height="7.1" fill="#5c306e"/>
<rect x="353" y="332.2" width="1.05" height="8.5" fill="#643676"/>
<rect x="354" y="332.1" width="1.05" height="9.2" fill="#643676"/>
<rect x="355" y="332.1" width="1.05" height="11.5" fill="#5c306e"/>
<rect x="356" y="332.1" width="1.05" height="8.4" fill="#5c306e"/>
<rect x="357" y="332.1" width="1.05" height="7.1" fill="#643676"/>
<rect x="358" y="332.1" width="1.05" height="7.7" fill="#6e4284"/>
<rect x="359" y="332.1" width="1.05" height="10.0" fill="#5c306e"/>
<rect x="360" y="332.0" width="1.05" height="8.1" fill="#643676"/>
<rect x="361" y="332.0" width="1.05" height="8.1" fill="#643676"/>
<rect x="362" y="332.0" width="1.05" height="7.8" fill="#6a3c7c"/>
<rect x="363" y="331.9" width="1.05" height="12.6" fill="#6e4284"/>
<rect x="364" y="331.7" width="1.05" height="10.8" fill="#643676"/>
<rect x="365" y="331.5" width="1.05" height="10.8" fill="#6e4284"/>
<rect x="366" y="331.4" width="1.05" height="8.5" fill="#5c306e"/>
<rect x="367" y="331.2" width="1.05" height="11.5" fill="#643676"/>
<rect x="368" y="331.0" width="1.05" height="8.2" fill="#6e4284"/>
<rect x="369" y="330.8" width="1.05" height="8.0" fill="#5c306e"/>
<rect x="370" y="330.6" width="1.05" height="12.1" fill="#6e4284"/>
<rect x="371" y="330.5" width="1.05" height="7.9" fill="#6e4284"/>
<rect x="372" y="330.3" width="1.05" height="8.3" fill="#643676"/>
<rect x="373" y="330.1" width="1.05" height="13.3" fill="#643676"/>
<rect x="374" y="329.9" width="1.05" height="11.8" fill="#6a3c7c"/>
<rect x="375" y="329.8" width="1.05" height="7.8" fill="#5c306e"/>
<rect x="376" y="329.7" width="1.05" height="8.4" fill="#6a3c7c"/>
<rect x="377" y="329.6" width="1.05" height="8.1" fill="#643676"/>
<rect x="378" y="329.5" width="1.05" height="10.5" fill="#5c306e"/>
<rect x="379" y="329.4" width="1.05" height="7.5" fill="#6e4284"/>
<rect x="380" y="329.3" width="1.05" height="7.5" fill="#6a3c7c"/>
<rect x="381" y="329.2" width="1.05" height="7.5" fill="#6a3c7c"/>
<rect x="382" y="329.1" width="1.05" height="8.1" fill="#643676"/>
<rect x="383" y="329.0" width="1.05" height="8.3" fill="#6a3c7c"/>
<rect x="384" y="328.9" width="1.05" height="7.8" fill="#6e4284"/>
<rect x="385" y="328.9" width="1.05" height="8.7" fill="#6a3c7c"/>
<rect x="386" y="329.1" width="1.05" height="8.7" fill="#643676"/>
<rect x="387" y="329.3" width="1.05" height="7.8" fill="#5c306e"/>
<rect x="388" y="329.5" width="1.05" height="6.8" fill="#6a3c7c"/>
<rect x="389" y="329.7" width="1.05" height="8.0" fill="#643676"/>
<rect x="390" y="329.9" width="1.05" height="7.1" fill="#6a3c7c"/>
<rect x="391" y="330.1" width="1.05" height="12.4" fill="#643676"/>
<rect x="392" y="330.3" width="1.05" height="7.8" fill="#6e4284"/>
<rect x="393" y="330.5" width="1.05" height="7.4" fill="#6e4284"/>
<rect x="394" y="330.7" width="1.05" height="8.4" fill="#6e4284"/>
<rect x="395" y="330.9" width="1.05" height="8.8" fill="#6e4284"/>
<rect x="396" y="330.8" width="1.05" height="8.0" fill="#5c306e"/>
<rect x="397" y="330.5" width="1.05" height="7.3" fill="#643676"/>
<rect x="398" y="330.2" width="1.05" height="10.6" fill="#6a3c7c"/>
<rect x="399" y="329.8" width="1.05" height="8.2" fill="#6a3c7c"/>
<rect x="400" y="329.5" width="1.05" height="8.4" fill="#643676"/>
<rect x="401" y="329.2" width="1.05" height="7.4" fill="#6e4284"/>
<rect x="402" y="328.8" width="1.05" height="8.5" fill="#643676"/>
<rect x="403" y="329.6" width="1.05" height="7.2" fill="#643676"/>
<rect x="404" y="330.4" width="1.05" height="7.6" fill="#6a3c7c"/>
<rect x="405" y="331.2" width="1.05" height="7.2" fill="#5c306e"/>
<rect x="406" y="332.1" width="1.05" height="10.6" fill="#5c306e"/>
<rect x="407" y="332.9" width="1.05" height="12.9" fill="#643676"/>
<rect x="408" y="333.7" width="1.05" height="9.8" fill="#6a3c7c"/>
<rect x="409" y="334.4" width="1.05" height="8.5" fill="#5c306e"/>
<rect x="410" y="334.8" width="1.05" height="8.0" fill="#5c306e"/>
<rect x="411" y="335.2" width="1.05" height="8.3" fill="#6a3c7c"/>
<rect x="412" y="335.5" width="1.05" height="7.1" fill="#5c306e"/>
<rect x="413" y="335.9" width="1.05" height="8.6" fill="#5c306e"/>
<rect x="414" y="336.3" width="1.05" height="7.0" fill="#6a3c7c"/>
<rect x="415" y="336.7" width="1.05" height="7.8" fill="#643676"/>
<rect x="416" y="337.0" width="1.05" height="7.7" fill="#643676"/>
<rect x="417" y="337.4" width="1.05" height="8.1" fill="#6e4284"/>
<rect x="418" y="337.7" width="1.05" height="8.0" fill="#6e4284"/>
<rect x="419" y="338.0" width="1.05" height="9.6" fill="#6e4284"/>
<rect x="420" y="338.2" width="1.05" height="7.1" fill="#5c306e"/>
<rect x="421" y="338.5" width="1.05" height="7.6" fill="#5c306e"/>
<rect x="422" y="338.7" width="1.05" height="8.2" fill="#6e4284"/>
<rect x="423" y="339.0" width="1.05" height="10.5" fill="#6a3c7c"/>
<rect x="424" y="339.2" width="1.05" height="6.8" fill="#5c306e"/>
<rect x="425" y="339.5" width="1.05" height="7.2" fill="#6a3c7c"/>
<rect x="426" y="339.7" width="1.05" height="7.7" fill="#6e4284"/>
<rect x="427" y="340.5" width="1.05" height="8.6" fill="#6a3c7c"/>
<rect x="428" y="341.4" width="1.05" height="13.1" fill="#643676"/>
<rect x="429" y="342.4" width="1.05" height="7.8" fill="#5c306e"/>
<rect x="430" y="343.3" width="1.05" height="7.8" fill="#643676"/>
<rect x="431" y="344.0" width="1.05" height="8.5" fill="#6e4284"/>
</g></g>
<polyline points="51.4,310.6 123.1,334.9 135.0,340.8 145.0,344.8 180.0,361.6 215.0,378.4 230.0,386.6 251.0,397.0 272.0,406.7 298.4,419.6 324.2,423.4 330.8,421.8 418.0,421.0 426.8,422.8 431.2,425.0" fill="none" stroke="#000" stroke-width="2.2" stroke-linejoin="round" stroke-linecap="round" opacity="1.0"/>
<rect x="431.2" y="283" width="26.6" height="144.6" fill="#fff"/>
<defs><linearGradient id="cbg" x1="0" y1="0" x2="0" y2="1"><stop offset="0" stop-color="#8a38c8"/><stop offset="0.04" stop-color="#c020e8"/><stop offset="0.07" stop-color="#e010e8"/><stop offset="0.1" stop-color="#b01050"/><stop offset="0.12" stop-color="#a00000"/><stop offset="0.2" stop-color="#ff0000"/><stop offset="0.25" stop-color="#ff3000"/><stop offset="0.31" stop-color="#f08000"/><stop offset="0.36" stop-color="#f0c000"/><stop offset="0.4" stop-color="#f0e800"/><stop offset="0.44" stop-color="#88a000"/><stop offset="0.47" stop-color="#007800"/><stop offset="0.52" stop-color="#00a000"/><stop offset="0.56" stop-color="#00e000"/><stop offset="0.59" stop-color="#00c040"/><stop offset="0.62" stop-color="#0020f0"/><stop offset="0.68" stop-color="#0050f0"/><stop offset="0.72" stop-color="#0090e0"/><stop offset="0.75" stop-color="#10c8c8"/><stop offset="0.79" stop-color="#3a7070"/><stop offset="0.81" stop-color="#505044"/><stop offset="0.86" stop-color="#857d55"/><stop offset="0.89" stop-color="#a09870"/><stop offset="0.91" stop-color="#604840"/><stop offset="0.93" stop-color="#3c2040"/><stop offset="0.96" stop-color="#5a3860"/><stop offset="1.0" stop-color="#9a70a8"/></linearGradient></defs>
<rect x="445.2" y="287" width="9.8" height="136.8" fill="url(#cbg)" stroke="#555" stroke-width="0.6"/>
<text x="443.9" y="291.8" font-size="9" fill="#3a3a3a"  text-anchor="end" >40</text>
<text x="443.9" y="314.2" font-size="9" fill="#3a3a3a"  text-anchor="end" >30</text>
<text x="443.9" y="336.6" font-size="9" fill="#3a3a3a"  text-anchor="end" >20</text>
<text x="443.9" y="359.0" font-size="9" fill="#3a3a3a"  text-anchor="end" >10</text>
<text x="443.9" y="381.4" font-size="9" fill="#3a3a3a"  text-anchor="end" >0</text>
<text x="443.9" y="403.8" font-size="9" fill="#3a3a3a"  text-anchor="end" >-10</text>
<text x="443.9" y="426.2" font-size="9" fill="#3a3a3a"  text-anchor="end" >-20</text>
<line x1="57.6" y1="282.3" x2="57.6" y2="286.8" stroke="#8c8c8c" stroke-width="1.1"/>
<line x1="57.6" y1="428.2" x2="57.6" y2="423.7" stroke="#8c8c8c" stroke-width="1.1"/>
<line x1="71.0" y1="282.3" x2="71.0" y2="286.8" stroke="#8c8c8c" stroke-width="1.1"/>
<line x1="71.0" y1="428.2" x2="71.0" y2="423.7" stroke="#8c8c8c" stroke-width="1.1"/>
<line x1="84.4" y1="282.3" x2="84.4" y2="286.8" stroke="#8c8c8c" stroke-width="1.1"/>
<line x1="84.4" y1="428.2" x2="84.4" y2="423.7" stroke="#8c8c8c" stroke-width="1.1"/>
<line x1="97.7" y1="282.3" x2="97.7" y2="286.8" stroke="#8c8c8c" stroke-width="1.1"/>
<line x1="97.7" y1="428.2" x2="97.7" y2="423.7" stroke="#8c8c8c" stroke-width="1.1"/>
<line x1="111.1" y1="282.3" x2="111.1" y2="286.8" stroke="#8c8c8c" stroke-width="1.1"/>
<line x1="111.1" y1="428.2" x2="111.1" y2="423.7" stroke="#8c8c8c" stroke-width="1.1"/>
<line x1="124.5" y1="282.3" x2="124.5" y2="286.8" stroke="#8c8c8c" stroke-width="1.1"/>
<line x1="124.5" y1="428.2" x2="124.5" y2="423.7" stroke="#8c8c8c" stroke-width="1.1"/>
<line x1="137.9" y1="282.3" x2="137.9" y2="286.8" stroke="#8c8c8c" stroke-width="1.1"/>
<line x1="137.9" y1="428.2" x2="137.9" y2="423.7" stroke="#8c8c8c" stroke-width="1.1"/>
<line x1="151.3" y1="282.3" x2="151.3" y2="286.8" stroke="#8c8c8c" stroke-width="1.1"/>
<line x1="151.3" y1="428.2" x2="151.3" y2="423.7" stroke="#8c8c8c" stroke-width="1.1"/>
<line x1="164.6" y1="282.3" x2="164.6" y2="286.8" stroke="#8c8c8c" stroke-width="1.1"/>
<line x1="164.6" y1="428.2" x2="164.6" y2="423.7" stroke="#8c8c8c" stroke-width="1.1"/>
<line x1="178.0" y1="282.3" x2="178.0" y2="286.8" stroke="#8c8c8c" stroke-width="1.1"/>
<line x1="178.0" y1="428.2" x2="178.0" y2="423.7" stroke="#8c8c8c" stroke-width="1.1"/>
<line x1="191.4" y1="282.3" x2="191.4" y2="286.8" stroke="#8c8c8c" stroke-width="1.1"/>
<line x1="191.4" y1="428.2" x2="191.4" y2="423.7" stroke="#8c8c8c" stroke-width="1.1"/>
<line x1="204.8" y1="282.3" x2="204.8" y2="286.8" stroke="#8c8c8c" stroke-width="1.1"/>
<line x1="204.8" y1="428.2" x2="204.8" y2="423.7" stroke="#8c8c8c" stroke-width="1.1"/>
<line x1="218.2" y1="282.3" x2="218.2" y2="286.8" stroke="#8c8c8c" stroke-width="1.1"/>
<line x1="218.2" y1="428.2" x2="218.2" y2="423.7" stroke="#8c8c8c" stroke-width="1.1"/>
<line x1="231.5" y1="282.3" x2="231.5" y2="286.8" stroke="#8c8c8c" stroke-width="1.1"/>
<line x1="231.5" y1="428.2" x2="231.5" y2="423.7" stroke="#8c8c8c" stroke-width="1.1"/>
<line x1="244.9" y1="282.3" x2="244.9" y2="286.8" stroke="#8c8c8c" stroke-width="1.1"/>
<line x1="244.9" y1="428.2" x2="244.9" y2="423.7" stroke="#8c8c8c" stroke-width="1.1"/>
<line x1="258.3" y1="282.3" x2="258.3" y2="286.8" stroke="#8c8c8c" stroke-width="1.1"/>
<line x1="258.3" y1="428.2" x2="258.3" y2="423.7" stroke="#8c8c8c" stroke-width="1.1"/>
<line x1="271.7" y1="282.3" x2="271.7" y2="286.8" stroke="#8c8c8c" stroke-width="1.1"/>
<line x1="271.7" y1="428.2" x2="271.7" y2="423.7" stroke="#8c8c8c" stroke-width="1.1"/>
<line x1="285.1" y1="282.3" x2="285.1" y2="286.8" stroke="#8c8c8c" stroke-width="1.1"/>
<line x1="285.1" y1="428.2" x2="285.1" y2="423.7" stroke="#8c8c8c" stroke-width="1.1"/>
<line x1="298.4" y1="282.3" x2="298.4" y2="286.8" stroke="#8c8c8c" stroke-width="1.1"/>
<line x1="298.4" y1="428.2" x2="298.4" y2="423.7" stroke="#8c8c8c" stroke-width="1.1"/>
<line x1="311.8" y1="282.3" x2="311.8" y2="286.8" stroke="#8c8c8c" stroke-width="1.1"/>
<line x1="311.8" y1="428.2" x2="311.8" y2="423.7" stroke="#8c8c8c" stroke-width="1.1"/>
<line x1="325.2" y1="282.3" x2="325.2" y2="286.8" stroke="#8c8c8c" stroke-width="1.1"/>
<line x1="325.2" y1="428.2" x2="325.2" y2="423.7" stroke="#8c8c8c" stroke-width="1.1"/>
<line x1="338.6" y1="282.3" x2="338.6" y2="286.8" stroke="#8c8c8c" stroke-width="1.1"/>
<line x1="338.6" y1="428.2" x2="338.6" y2="423.7" stroke="#8c8c8c" stroke-width="1.1"/>
<line x1="352.0" y1="282.3" x2="352.0" y2="286.8" stroke="#8c8c8c" stroke-width="1.1"/>
<line x1="352.0" y1="428.2" x2="352.0" y2="423.7" stroke="#8c8c8c" stroke-width="1.1"/>
<line x1="365.3" y1="282.3" x2="365.3" y2="286.8" stroke="#8c8c8c" stroke-width="1.1"/>
<line x1="365.3" y1="428.2" x2="365.3" y2="423.7" stroke="#8c8c8c" stroke-width="1.1"/>
<line x1="378.7" y1="282.3" x2="378.7" y2="286.8" stroke="#8c8c8c" stroke-width="1.1"/>
<line x1="378.7" y1="428.2" x2="378.7" y2="423.7" stroke="#8c8c8c" stroke-width="1.1"/>
<line x1="392.1" y1="282.3" x2="392.1" y2="286.8" stroke="#8c8c8c" stroke-width="1.1"/>
<line x1="392.1" y1="428.2" x2="392.1" y2="423.7" stroke="#8c8c8c" stroke-width="1.1"/>
<line x1="405.5" y1="282.3" x2="405.5" y2="286.8" stroke="#8c8c8c" stroke-width="1.1"/>
<line x1="405.5" y1="428.2" x2="405.5" y2="423.7" stroke="#8c8c8c" stroke-width="1.1"/>
<line x1="418.9" y1="282.3" x2="418.9" y2="286.8" stroke="#8c8c8c" stroke-width="1.1"/>
<line x1="418.9" y1="428.2" x2="418.9" y2="423.7" stroke="#8c8c8c" stroke-width="1.1"/>
<line x1="432.2" y1="282.3" x2="432.2" y2="286.8" stroke="#8c8c8c" stroke-width="1.1"/>
<line x1="432.2" y1="428.2" x2="432.2" y2="423.7" stroke="#8c8c8c" stroke-width="1.1"/>
<line x1="445.6" y1="282.3" x2="445.6" y2="286.8" stroke="#8c8c8c" stroke-width="1.1"/>
<line x1="445.6" y1="428.2" x2="445.6" y2="423.7" stroke="#8c8c8c" stroke-width="1.1"/>
<line x1="51.4" y1="292.5" x2="55.9" y2="292.5" stroke="#8c8c8c" stroke-width="1.1"/>
<line x1="458.4" y1="292.5" x2="453.9" y2="292.5" stroke="#8c8c8c" stroke-width="1.1"/>
<line x1="51.4" y1="308.3" x2="55.9" y2="308.3" stroke="#8c8c8c" stroke-width="1.1"/>
<line x1="458.4" y1="308.3" x2="453.9" y2="308.3" stroke="#8c8c8c" stroke-width="1.1"/>
<line x1="51.4" y1="324.1" x2="55.9" y2="324.1" stroke="#8c8c8c" stroke-width="1.1"/>
<line x1="458.4" y1="324.1" x2="453.9" y2="324.1" stroke="#8c8c8c" stroke-width="1.1"/>
<line x1="51.4" y1="339.8" x2="55.9" y2="339.8" stroke="#8c8c8c" stroke-width="1.1"/>
<line x1="458.4" y1="339.8" x2="453.9" y2="339.8" stroke="#8c8c8c" stroke-width="1.1"/>
<line x1="51.4" y1="355.6" x2="55.9" y2="355.6" stroke="#8c8c8c" stroke-width="1.1"/>
<line x1="458.4" y1="355.6" x2="453.9" y2="355.6" stroke="#8c8c8c" stroke-width="1.1"/>
<line x1="51.4" y1="371.4" x2="55.9" y2="371.4" stroke="#8c8c8c" stroke-width="1.1"/>
<line x1="458.4" y1="371.4" x2="453.9" y2="371.4" stroke="#8c8c8c" stroke-width="1.1"/>
<line x1="51.4" y1="387.1" x2="55.9" y2="387.1" stroke="#8c8c8c" stroke-width="1.1"/>
<line x1="458.4" y1="387.1" x2="453.9" y2="387.1" stroke="#8c8c8c" stroke-width="1.1"/>
<line x1="51.4" y1="402.9" x2="55.9" y2="402.9" stroke="#8c8c8c" stroke-width="1.1"/>
<line x1="458.4" y1="402.9" x2="453.9" y2="402.9" stroke="#8c8c8c" stroke-width="1.1"/>
<line x1="51.4" y1="418.7" x2="55.9" y2="418.7" stroke="#8c8c8c" stroke-width="1.1"/>
<line x1="458.4" y1="418.7" x2="453.9" y2="418.7" stroke="#8c8c8c" stroke-width="1.1"/>
<rect x="51.4" y="282.3" width="407.0" height="145.9" fill="none" stroke="#8c8c8c" stroke-width="1.1"/>
<line x1="52.0" y1="428.2" x2="457.79999999999995" y2="428.2" stroke="#e9dfe2" stroke-width="1.2"/>
<line x1="57.6" y1="427.59999999999997" x2="57.6" y2="423.7" stroke="#8c8c8c" stroke-width="1.1"/>
<line x1="71.0" y1="427.59999999999997" x2="71.0" y2="423.7" stroke="#8c8c8c" stroke-width="1.1"/>
<line x1="84.4" y1="427.59999999999997" x2="84.4" y2="423.7" stroke="#8c8c8c" stroke-width="1.1"/>
<line x1="97.7" y1="427.59999999999997" x2="97.7" y2="423.7" stroke="#8c8c8c" stroke-width="1.1"/>
<line x1="111.1" y1="427.59999999999997" x2="111.1" y2="423.7" stroke="#8c8c8c" stroke-width="1.1"/>
<line x1="124.5" y1="427.59999999999997" x2="124.5" y2="423.7" stroke="#8c8c8c" stroke-width="1.1"/>
<line x1="137.9" y1="427.59999999999997" x2="137.9" y2="423.7" stroke="#8c8c8c" stroke-width="1.1"/>
<line x1="151.3" y1="427.59999999999997" x2="151.3" y2="423.7" stroke="#8c8c8c" stroke-width="1.1"/>
<line x1="164.6" y1="427.59999999999997" x2="164.6" y2="423.7" stroke="#8c8c8c" stroke-width="1.1"/>
<line x1="178.0" y1="427.59999999999997" x2="178.0" y2="423.7" stroke="#8c8c8c" stroke-width="1.1"/>
<line x1="191.4" y1="427.59999999999997" x2="191.4" y2="423.7" stroke="#8c8c8c" stroke-width="1.1"/>
<line x1="204.8" y1="427.59999999999997" x2="204.8" y2="423.7" stroke="#8c8c8c" stroke-width="1.1"/>
<line x1="218.2" y1="427.59999999999997" x2="218.2" y2="423.7" stroke="#8c8c8c" stroke-width="1.1"/>
<line x1="231.5" y1="427.59999999999997" x2="231.5" y2="423.7" stroke="#8c8c8c" stroke-width="1.1"/>
<line x1="244.9" y1="427.59999999999997" x2="244.9" y2="423.7" stroke="#8c8c8c" stroke-width="1.1"/>
<line x1="258.3" y1="427.59999999999997" x2="258.3" y2="423.7" stroke="#8c8c8c" stroke-width="1.1"/>
<line x1="271.7" y1="427.59999999999997" x2="271.7" y2="423.7" stroke="#8c8c8c" stroke-width="1.1"/>
<line x1="285.1" y1="427.59999999999997" x2="285.1" y2="423.7" stroke="#8c8c8c" stroke-width="1.1"/>
<line x1="298.4" y1="427.59999999999997" x2="298.4" y2="423.7" stroke="#8c8c8c" stroke-width="1.1"/>
<line x1="311.8" y1="427.59999999999997" x2="311.8" y2="423.7" stroke="#8c8c8c" stroke-width="1.1"/>
<line x1="325.2" y1="427.59999999999997" x2="325.2" y2="423.7" stroke="#8c8c8c" stroke-width="1.1"/>
<line x1="338.6" y1="427.59999999999997" x2="338.6" y2="423.7" stroke="#8c8c8c" stroke-width="1.1"/>
<line x1="352.0" y1="427.59999999999997" x2="352.0" y2="423.7" stroke="#8c8c8c" stroke-width="1.1"/>
<line x1="365.3" y1="427.59999999999997" x2="365.3" y2="423.7" stroke="#8c8c8c" stroke-width="1.1"/>
<line x1="378.7" y1="427.59999999999997" x2="378.7" y2="423.7" stroke="#8c8c8c" stroke-width="1.1"/>
<line x1="392.1" y1="427.59999999999997" x2="392.1" y2="423.7" stroke="#8c8c8c" stroke-width="1.1"/>
<line x1="405.5" y1="427.59999999999997" x2="405.5" y2="423.7" stroke="#8c8c8c" stroke-width="1.1"/>
<line x1="418.9" y1="427.59999999999997" x2="418.9" y2="423.7" stroke="#8c8c8c" stroke-width="1.1"/>
<line x1="432.2" y1="427.59999999999997" x2="432.2" y2="423.7" stroke="#8c8c8c" stroke-width="1.1"/>
<line x1="445.6" y1="427.59999999999997" x2="445.6" y2="423.7" stroke="#8c8c8c" stroke-width="1.1"/>
<text x="48.3" y="295.5" font-size="10" fill="#000" font-weight="bold" text-anchor="end" >1800</text>
<text x="48.3" y="311.3" font-size="10" fill="#000" font-weight="bold" text-anchor="end" >1600</text>
<text x="48.3" y="327.1" font-size="10" fill="#000" font-weight="bold" text-anchor="end" >1400</text>
<text x="48.3" y="342.8" font-size="10" fill="#000" font-weight="bold" text-anchor="end" >1200</text>
<text x="48.3" y="358.6" font-size="10" fill="#000" font-weight="bold" text-anchor="end" >1000</text>
<text x="48.3" y="374.4" font-size="10" fill="#000" font-weight="bold" text-anchor="end" >800</text>
<text x="48.3" y="390.1" font-size="10" fill="#000" font-weight="bold" text-anchor="end" >600</text>
<text x="48.3" y="405.9" font-size="10" fill="#000" font-weight="bold" text-anchor="end" >400</text>
<text x="48.3" y="421.7" font-size="10" fill="#000" font-weight="bold" text-anchor="end" >200</text>
<text x="84.4" y="440.3" font-size="10" fill="#000" font-weight="bold" text-anchor="middle" >1324</text>
<text x="164.7" y="440.3" font-size="10" fill="#000" font-weight="bold" text-anchor="middle" >1325</text>
<text x="244.9" y="440.3" font-size="10" fill="#000" font-weight="bold" text-anchor="middle" >1326</text>
<text x="325.1" y="440.3" font-size="10" fill="#000" font-weight="bold" text-anchor="middle" >1327</text>
<text x="405.4" y="440.3" font-size="10" fill="#000" font-weight="bold" text-anchor="middle" >1328</text>
<text x="211.3" y="455.8" font-size="13" fill="#000" font-weight="bold" textLength="72.9" lengthAdjust="spacingAndGlyphs" >Time (UTC)</text>
<text x="295.8" y="303.0" font-size="10.5" fill="#000" font-weight="bold" textLength="130.5" lengthAdjust="spacingAndGlyphs" >Ka-band Reflectivity (dBZ)</text>
<text x="59.0" y="361.0" font-size="10.5" fill="#000" font-weight="bold" >e)</text>
<text x="0" y="0" font-size="10.5" font-weight="bold" transform="translate(53.4,325.5) rotate(17.5)" textLength="78.3" lengthAdjust="spacingAndGlyphs">Learjet Descent</text>
<text x="0" y="0" font-size="16" font-weight="bold" transform="translate(21.3,398.9) rotate(-90)" textLength="88.7" lengthAdjust="spacingAndGlyphs">Altitude (m)</text>
<text x="0" y="0" font-size="16" font-weight="bold" transform="translate(481.4,290.3) rotate(90)" textLength="128.7" lengthAdjust="spacingAndGlyphs">Temperature (°C)</text>
<text x="462.0" y="300.0" font-size="10.5" fill="#000" font-weight="bold" >-8</text>
<text x="462.0" y="364.0" font-size="10.5" fill="#000" font-weight="bold" >-6</text>
<text x="465.3" y="430.3" font-size="10.5" fill="#000" font-weight="bold" >-2</text>
<line x1="87.8" y1="466.4" x2="87.8" y2="660.4" stroke="#ececec" stroke-width="0.8"/>
<line x1="109.7" y1="466.4" x2="109.7" y2="660.4" stroke="#ececec" stroke-width="0.8"/>
<line x1="125.2" y1="466.4" x2="125.2" y2="660.4" stroke="#ececec" stroke-width="0.8"/>
<line x1="137.2" y1="466.4" x2="137.2" y2="660.4" stroke="#ececec" stroke-width="0.8"/>
<line x1="147.0" y1="466.4" x2="147.0" y2="660.4" stroke="#ececec" stroke-width="0.8"/>
<line x1="155.4" y1="466.4" x2="155.4" y2="660.4" stroke="#ececec" stroke-width="0.8"/>
<line x1="162.6" y1="466.4" x2="162.6" y2="660.4" stroke="#ececec" stroke-width="0.8"/>
<line x1="168.9" y1="466.4" x2="168.9" y2="660.4" stroke="#ececec" stroke-width="0.8"/>
<line x1="174.6" y1="466.4" x2="174.6" y2="660.4" stroke="#ececec" stroke-width="0.8"/>
<line x1="212.0" y1="466.4" x2="212.0" y2="660.4" stroke="#ececec" stroke-width="0.8"/>
<line x1="233.9" y1="466.4" x2="233.9" y2="660.4" stroke="#ececec" stroke-width="0.8"/>
<line x1="249.4" y1="466.4" x2="249.4" y2="660.4" stroke="#ececec" stroke-width="0.8"/>
<line x1="261.4" y1="466.4" x2="261.4" y2="660.4" stroke="#ececec" stroke-width="0.8"/>
<line x1="271.2" y1="466.4" x2="271.2" y2="660.4" stroke="#ececec" stroke-width="0.8"/>
<line x1="279.6" y1="466.4" x2="279.6" y2="660.4" stroke="#ececec" stroke-width="0.8"/>
<line x1="286.8" y1="466.4" x2="286.8" y2="660.4" stroke="#ececec" stroke-width="0.8"/>
<line x1="293.1" y1="466.4" x2="293.1" y2="660.4" stroke="#ececec" stroke-width="0.8"/>
<line x1="298.8" y1="466.4" x2="298.8" y2="660.4" stroke="#ececec" stroke-width="0.8"/>
<line x1="336.2" y1="466.4" x2="336.2" y2="660.4" stroke="#ececec" stroke-width="0.8"/>
<line x1="358.1" y1="466.4" x2="358.1" y2="660.4" stroke="#ececec" stroke-width="0.8"/>
<line x1="373.6" y1="466.4" x2="373.6" y2="660.4" stroke="#ececec" stroke-width="0.8"/>
<line x1="385.6" y1="466.4" x2="385.6" y2="660.4" stroke="#ececec" stroke-width="0.8"/>
<line x1="395.4" y1="466.4" x2="395.4" y2="660.4" stroke="#ececec" stroke-width="0.8"/>
<line x1="403.8" y1="466.4" x2="403.8" y2="660.4" stroke="#ececec" stroke-width="0.8"/>
<line x1="411.0" y1="466.4" x2="411.0" y2="660.4" stroke="#ececec" stroke-width="0.8"/>
<line x1="417.3" y1="466.4" x2="417.3" y2="660.4" stroke="#ececec" stroke-width="0.8"/>
<line x1="423.0" y1="466.4" x2="423.0" y2="660.4" stroke="#ececec" stroke-width="0.8"/>
<line x1="50.4" y1="648.7" x2="460.3" y2="648.7" stroke="#ececec" stroke-width="0.8"/>
<line x1="50.4" y1="641.9" x2="460.3" y2="641.9" stroke="#ececec" stroke-width="0.8"/>
<line x1="50.4" y1="637.0" x2="460.3" y2="637.0" stroke="#ececec" stroke-width="0.8"/>
<line x1="50.4" y1="633.3" x2="460.3" y2="633.3" stroke="#ececec" stroke-width="0.8"/>
<line x1="50.4" y1="630.2" x2="460.3" y2="630.2" stroke="#ececec" stroke-width="0.8"/>
<line x1="50.4" y1="627.6" x2="460.3" y2="627.6" stroke="#ececec" stroke-width="0.8"/>
<line x1="50.4" y1="625.4" x2="460.3" y2="625.4" stroke="#ececec" stroke-width="0.8"/>
<line x1="50.4" y1="623.4" x2="460.3" y2="623.4" stroke="#ececec" stroke-width="0.8"/>
<line x1="50.4" y1="621.6" x2="460.3" y2="621.6" stroke="#ececec" stroke-width="0.8"/>
<line x1="50.4" y1="609.9" x2="460.3" y2="609.9" stroke="#ececec" stroke-width="0.8"/>
<line x1="50.4" y1="603.1" x2="460.3" y2="603.1" stroke="#ececec" stroke-width="0.8"/>
<line x1="50.4" y1="598.2" x2="460.3" y2="598.2" stroke="#ececec" stroke-width="0.8"/>
<line x1="50.4" y1="594.5" x2="460.3" y2="594.5" stroke="#ececec" stroke-width="0.8"/>
<line x1="50.4" y1="591.4" x2="460.3" y2="591.4" stroke="#ececec" stroke-width="0.8"/>
<line x1="50.4" y1="588.8" x2="460.3" y2="588.8" stroke="#ececec" stroke-width="0.8"/>
<line x1="50.4" y1="586.6" x2="460.3" y2="586.6" stroke="#ececec" stroke-width="0.8"/>
<line x1="50.4" y1="584.6" x2="460.3" y2="584.6" stroke="#ececec" stroke-width="0.8"/>
<line x1="50.4" y1="582.8" x2="460.3" y2="582.8" stroke="#ececec" stroke-width="0.8"/>
<line x1="50.4" y1="571.1" x2="460.3" y2="571.1" stroke="#ececec" stroke-width="0.8"/>
<line x1="50.4" y1="564.3" x2="460.3" y2="564.3" stroke="#ececec" stroke-width="0.8"/>
<line x1="50.4" y1="559.4" x2="460.3" y2="559.4" stroke="#ececec" stroke-width="0.8"/>
<line x1="50.4" y1="555.7" x2="460.3" y2="555.7" stroke="#ececec" stroke-width="0.8"/>
<line x1="50.4" y1="552.6" x2="460.3" y2="552.6" stroke="#ececec" stroke-width="0.8"/>
<line x1="50.4" y1="550.0" x2="460.3" y2="550.0" stroke="#ececec" stroke-width="0.8"/>
<line x1="50.4" y1="547.8" x2="460.3" y2="547.8" stroke="#ececec" stroke-width="0.8"/>
<line x1="50.4" y1="545.8" x2="460.3" y2="545.8" stroke="#ececec" stroke-width="0.8"/>
<line x1="50.4" y1="544.0" x2="460.3" y2="544.0" stroke="#ececec" stroke-width="0.8"/>
<line x1="50.4" y1="532.3" x2="460.3" y2="532.3" stroke="#ececec" stroke-width="0.8"/>
<line x1="50.4" y1="525.5" x2="460.3" y2="525.5" stroke="#ececec" stroke-width="0.8"/>
<line x1="50.4" y1="520.6" x2="460.3" y2="520.6" stroke="#ececec" stroke-width="0.8"/>
<line x1="50.4" y1="516.9" x2="460.3" y2="516.9" stroke="#ececec" stroke-width="0.8"/>
<line x1="50.4" y1="513.8" x2="460.3" y2="513.8" stroke="#ececec" stroke-width="0.8"/>
<line x1="50.4" y1="511.2" x2="460.3" y2="511.2" stroke="#ececec" stroke-width="0.8"/>
<line x1="50.4" y1="509.0" x2="460.3" y2="509.0" stroke="#ececec" stroke-width="0.8"/>
<line x1="50.4" y1="507.0" x2="460.3" y2="507.0" stroke="#ececec" stroke-width="0.8"/>
<line x1="50.4" y1="505.2" x2="460.3" y2="505.2" stroke="#ececec" stroke-width="0.8"/>
<line x1="50.4" y1="493.5" x2="460.3" y2="493.5" stroke="#ececec" stroke-width="0.8"/>
<line x1="50.4" y1="486.7" x2="460.3" y2="486.7" stroke="#ececec" stroke-width="0.8"/>
<line x1="50.4" y1="481.8" x2="460.3" y2="481.8" stroke="#ececec" stroke-width="0.8"/>
<line x1="50.4" y1="478.1" x2="460.3" y2="478.1" stroke="#ececec" stroke-width="0.8"/>
<line x1="50.4" y1="475.0" x2="460.3" y2="475.0" stroke="#ececec" stroke-width="0.8"/>
<line x1="50.4" y1="472.4" x2="460.3" y2="472.4" stroke="#ececec" stroke-width="0.8"/>
<line x1="50.4" y1="470.2" x2="460.3" y2="470.2" stroke="#ececec" stroke-width="0.8"/>
<line x1="50.4" y1="468.2" x2="460.3" y2="468.2" stroke="#ececec" stroke-width="0.8"/>
<line x1="100" y1="680.2" x2="440.3" y2="680.2" stroke="#ececec" stroke-width="0.8"/>
<line x1="100" y1="687.2" x2="440.3" y2="687.2" stroke="#ececec" stroke-width="0.8"/>
<line x1="109.7" y1="675" x2="109.7" y2="694" stroke="#eeeeee" stroke-width="0.8"/>
<line x1="125.2" y1="675" x2="125.2" y2="694" stroke="#eeeeee" stroke-width="0.8"/>
<line x1="137.2" y1="675" x2="137.2" y2="694" stroke="#eeeeee" stroke-width="0.8"/>
<line x1="147.0" y1="675" x2="147.0" y2="694" stroke="#eeeeee" stroke-width="0.8"/>
<line x1="155.4" y1="675" x2="155.4" y2="694" stroke="#eeeeee" stroke-width="0.8"/>
<line x1="162.6" y1="675" x2="162.6" y2="694" stroke="#eeeeee" stroke-width="0.8"/>
<line x1="168.9" y1="675" x2="168.9" y2="694" stroke="#eeeeee" stroke-width="0.8"/>
<line x1="174.6" y1="675" x2="174.6" y2="694" stroke="#eeeeee" stroke-width="0.8"/>
<line x1="212.0" y1="675" x2="212.0" y2="694" stroke="#eeeeee" stroke-width="0.8"/>
<line x1="233.9" y1="675" x2="233.9" y2="694" stroke="#eeeeee" stroke-width="0.8"/>
<line x1="249.4" y1="675" x2="249.4" y2="694" stroke="#eeeeee" stroke-width="0.8"/>
<line x1="261.4" y1="675" x2="261.4" y2="694" stroke="#eeeeee" stroke-width="0.8"/>
<line x1="271.2" y1="675" x2="271.2" y2="694" stroke="#eeeeee" stroke-width="0.8"/>
<line x1="279.6" y1="675" x2="279.6" y2="694" stroke="#eeeeee" stroke-width="0.8"/>
<line x1="286.8" y1="675" x2="286.8" y2="694" stroke="#eeeeee" stroke-width="0.8"/>
<line x1="293.1" y1="675" x2="293.1" y2="694" stroke="#eeeeee" stroke-width="0.8"/>
<line x1="298.8" y1="675" x2="298.8" y2="694" stroke="#eeeeee" stroke-width="0.8"/>
<line x1="336.2" y1="675" x2="336.2" y2="694" stroke="#eeeeee" stroke-width="0.8"/>
<line x1="358.1" y1="675" x2="358.1" y2="694" stroke="#eeeeee" stroke-width="0.8"/>
<line x1="373.6" y1="675" x2="373.6" y2="694" stroke="#eeeeee" stroke-width="0.8"/>
<line x1="385.6" y1="675" x2="385.6" y2="694" stroke="#eeeeee" stroke-width="0.8"/>
<line x1="395.4" y1="675" x2="395.4" y2="694" stroke="#eeeeee" stroke-width="0.8"/>
<line x1="403.8" y1="675" x2="403.8" y2="694" stroke="#eeeeee" stroke-width="0.8"/>
<line x1="411.0" y1="675" x2="411.0" y2="694" stroke="#eeeeee" stroke-width="0.8"/>
<line x1="417.3" y1="675" x2="417.3" y2="694" stroke="#eeeeee" stroke-width="0.8"/>
<line x1="423.0" y1="675" x2="423.0" y2="694" stroke="#eeeeee" stroke-width="0.8"/>
<line x1="50.4" y1="660.4" x2="50.4" y2="655.9" stroke="#777" stroke-width="0.9"/>
<line x1="50.4" y1="466.4" x2="50.4" y2="470.9" stroke="#777" stroke-width="0.9"/>
<line x1="87.8" y1="660.4" x2="87.8" y2="657.9" stroke="#777" stroke-width="0.9"/>
<line x1="87.8" y1="466.4" x2="87.8" y2="468.9" stroke="#777" stroke-width="0.9"/>
<line x1="109.7" y1="660.4" x2="109.7" y2="657.9" stroke="#777" stroke-width="0.9"/>
<line x1="109.7" y1="466.4" x2="109.7" y2="468.9" stroke="#777" stroke-width="0.9"/>
<line x1="125.2" y1="660.4" x2="125.2" y2="657.9" stroke="#777" stroke-width="0.9"/>
<line x1="125.2" y1="466.4" x2="125.2" y2="468.9" stroke="#777" stroke-width="0.9"/>
<line x1="137.2" y1="660.4" x2="137.2" y2="657.9" stroke="#777" stroke-width="0.9"/>
<line x1="137.2" y1="466.4" x2="137.2" y2="468.9" stroke="#777" stroke-width="0.9"/>
<line x1="147.0" y1="660.4" x2="147.0" y2="657.9" stroke="#777" stroke-width="0.9"/>
<line x1="147.0" y1="466.4" x2="147.0" y2="468.9" stroke="#777" stroke-width="0.9"/>
<line x1="155.4" y1="660.4" x2="155.4" y2="657.9" stroke="#777" stroke-width="0.9"/>
<line x1="155.4" y1="466.4" x2="155.4" y2="468.9" stroke="#777" stroke-width="0.9"/>
<line x1="162.6" y1="660.4" x2="162.6" y2="657.9" stroke="#777" stroke-width="0.9"/>
<line x1="162.6" y1="466.4" x2="162.6" y2="468.9" stroke="#777" stroke-width="0.9"/>
<line x1="168.9" y1="660.4" x2="168.9" y2="657.9" stroke="#777" stroke-width="0.9"/>
<line x1="168.9" y1="466.4" x2="168.9" y2="468.9" stroke="#777" stroke-width="0.9"/>
<line x1="174.6" y1="660.4" x2="174.6" y2="655.9" stroke="#777" stroke-width="0.9"/>
<line x1="174.6" y1="466.4" x2="174.6" y2="470.9" stroke="#777" stroke-width="0.9"/>
<line x1="212.0" y1="660.4" x2="212.0" y2="657.9" stroke="#777" stroke-width="0.9"/>
<line x1="212.0" y1="466.4" x2="212.0" y2="468.9" stroke="#777" stroke-width="0.9"/>
<line x1="233.9" y1="660.4" x2="233.9" y2="657.9" stroke="#777" stroke-width="0.9"/>
<line x1="233.9" y1="466.4" x2="233.9" y2="468.9" stroke="#777" stroke-width="0.9"/>
<line x1="249.4" y1="660.4" x2="249.4" y2="657.9" stroke="#777" stroke-width="0.9"/>
<line x1="249.4" y1="466.4" x2="249.4" y2="468.9" stroke="#777" stroke-width="0.9"/>
<line x1="261.4" y1="660.4" x2="261.4" y2="657.9" stroke="#777" stroke-width="0.9"/>
<line x1="261.4" y1="466.4" x2="261.4" y2="468.9" stroke="#777" stroke-width="0.9"/>
<line x1="271.2" y1="660.4" x2="271.2" y2="657.9" stroke="#777" stroke-width="0.9"/>
<line x1="271.2" y1="466.4" x2="271.2" y2="468.9" stroke="#777" stroke-width="0.9"/>
<line x1="279.6" y1="660.4" x2="279.6" y2="657.9" stroke="#777" stroke-width="0.9"/>
<line x1="279.6" y1="466.4" x2="279.6" y2="468.9" stroke="#777" stroke-width="0.9"/>
<line x1="286.8" y1="660.4" x2="286.8" y2="657.9" stroke="#777" stroke-width="0.9"/>
<line x1="286.8" y1="466.4" x2="286.8" y2="468.9" stroke="#777" stroke-width="0.9"/>
<line x1="293.1" y1="660.4" x2="293.1" y2="657.9" stroke="#777" stroke-width="0.9"/>
<line x1="293.1" y1="466.4" x2="293.1" y2="468.9" stroke="#777" stroke-width="0.9"/>
<line x1="298.8" y1="660.4" x2="298.8" y2="655.9" stroke="#777" stroke-width="0.9"/>
<line x1="298.8" y1="466.4" x2="298.8" y2="470.9" stroke="#777" stroke-width="0.9"/>
<line x1="336.2" y1="660.4" x2="336.2" y2="657.9" stroke="#777" stroke-width="0.9"/>
<line x1="336.2" y1="466.4" x2="336.2" y2="468.9" stroke="#777" stroke-width="0.9"/>
<line x1="358.1" y1="660.4" x2="358.1" y2="657.9" stroke="#777" stroke-width="0.9"/>
<line x1="358.1" y1="466.4" x2="358.1" y2="468.9" stroke="#777" stroke-width="0.9"/>
<line x1="373.6" y1="660.4" x2="373.6" y2="657.9" stroke="#777" stroke-width="0.9"/>
<line x1="373.6" y1="466.4" x2="373.6" y2="468.9" stroke="#777" stroke-width="0.9"/>
<line x1="385.6" y1="660.4" x2="385.6" y2="657.9" stroke="#777" stroke-width="0.9"/>
<line x1="385.6" y1="466.4" x2="385.6" y2="468.9" stroke="#777" stroke-width="0.9"/>
<line x1="395.4" y1="660.4" x2="395.4" y2="657.9" stroke="#777" stroke-width="0.9"/>
<line x1="395.4" y1="466.4" x2="395.4" y2="468.9" stroke="#777" stroke-width="0.9"/>
<line x1="403.8" y1="660.4" x2="403.8" y2="657.9" stroke="#777" stroke-width="0.9"/>
<line x1="403.8" y1="466.4" x2="403.8" y2="468.9" stroke="#777" stroke-width="0.9"/>
<line x1="411.0" y1="660.4" x2="411.0" y2="657.9" stroke="#777" stroke-width="0.9"/>
<line x1="411.0" y1="466.4" x2="411.0" y2="468.9" stroke="#777" stroke-width="0.9"/>
<line x1="417.3" y1="660.4" x2="417.3" y2="657.9" stroke="#777" stroke-width="0.9"/>
<line x1="417.3" y1="466.4" x2="417.3" y2="468.9" stroke="#777" stroke-width="0.9"/>
<line x1="423.0" y1="660.4" x2="423.0" y2="655.9" stroke="#777" stroke-width="0.9"/>
<line x1="423.0" y1="466.4" x2="423.0" y2="470.9" stroke="#777" stroke-width="0.9"/>
<line x1="50.4" y1="660.4" x2="54.9" y2="660.4" stroke="#777" stroke-width="0.9"/>
<line x1="460.3" y1="660.4" x2="455.8" y2="660.4" stroke="#777" stroke-width="0.9"/>
<line x1="50.4" y1="648.7" x2="52.9" y2="648.7" stroke="#777" stroke-width="0.9"/>
<line x1="460.3" y1="648.7" x2="457.8" y2="648.7" stroke="#777" stroke-width="0.9"/>
<line x1="50.4" y1="641.9" x2="52.9" y2="641.9" stroke="#777" stroke-width="0.9"/>
<line x1="460.3" y1="641.9" x2="457.8" y2="641.9" stroke="#777" stroke-width="0.9"/>
<line x1="50.4" y1="637.0" x2="52.9" y2="637.0" stroke="#777" stroke-width="0.9"/>
<line x1="460.3" y1="637.0" x2="457.8" y2="637.0" stroke="#777" stroke-width="0.9"/>
<line x1="50.4" y1="633.3" x2="52.9" y2="633.3" stroke="#777" stroke-width="0.9"/>
<line x1="460.3" y1="633.3" x2="457.8" y2="633.3" stroke="#777" stroke-width="0.9"/>
<line x1="50.4" y1="630.2" x2="52.9" y2="630.2" stroke="#777" stroke-width="0.9"/>
<line x1="460.3" y1="630.2" x2="457.8" y2="630.2" stroke="#777" stroke-width="0.9"/>
<line x1="50.4" y1="627.6" x2="52.9" y2="627.6" stroke="#777" stroke-width="0.9"/>
<line x1="460.3" y1="627.6" x2="457.8" y2="627.6" stroke="#777" stroke-width="0.9"/>
<line x1="50.4" y1="625.4" x2="52.9" y2="625.4" stroke="#777" stroke-width="0.9"/>
<line x1="460.3" y1="625.4" x2="457.8" y2="625.4" stroke="#777" stroke-width="0.9"/>
<line x1="50.4" y1="623.4" x2="52.9" y2="623.4" stroke="#777" stroke-width="0.9"/>
<line x1="460.3" y1="623.4" x2="457.8" y2="623.4" stroke="#777" stroke-width="0.9"/>
<line x1="50.4" y1="621.6" x2="54.9" y2="621.6" stroke="#777" stroke-width="0.9"/>
<line x1="460.3" y1="621.6" x2="455.8" y2="621.6" stroke="#777" stroke-width="0.9"/>
<line x1="50.4" y1="609.9" x2="52.9" y2="609.9" stroke="#777" stroke-width="0.9"/>
<line x1="460.3" y1="609.9" x2="457.8" y2="609.9" stroke="#777" stroke-width="0.9"/>
<line x1="50.4" y1="603.1" x2="52.9" y2="603.1" stroke="#777" stroke-width="0.9"/>
<line x1="460.3" y1="603.1" x2="457.8" y2="603.1" stroke="#777" stroke-width="0.9"/>
<line x1="50.4" y1="598.2" x2="52.9" y2="598.2" stroke="#777" stroke-width="0.9"/>
<line x1="460.3" y1="598.2" x2="457.8" y2="598.2" stroke="#777" stroke-width="0.9"/>
<line x1="50.4" y1="594.5" x2="52.9" y2="594.5" stroke="#777" stroke-width="0.9"/>
<line x1="460.3" y1="594.5" x2="457.8" y2="594.5" stroke="#777" stroke-width="0.9"/>
<line x1="50.4" y1="591.4" x2="52.9" y2="591.4" stroke="#777" stroke-width="0.9"/>
<line x1="460.3" y1="591.4" x2="457.8" y2="591.4" stroke="#777" stroke-width="0.9"/>
<line x1="50.4" y1="588.8" x2="52.9" y2="588.8" stroke="#777" stroke-width="0.9"/>
<line x1="460.3" y1="588.8" x2="457.8" y2="588.8" stroke="#777" stroke-width="0.9"/>
<line x1="50.4" y1="586.6" x2="52.9" y2="586.6" stroke="#777" stroke-width="0.9"/>
<line x1="460.3" y1="586.6" x2="457.8" y2="586.6" stroke="#777" stroke-width="0.9"/>
<line x1="50.4" y1="584.6" x2="52.9" y2="584.6" stroke="#777" stroke-width="0.9"/>
<line x1="460.3" y1="584.6" x2="457.8" y2="584.6" stroke="#777" stroke-width="0.9"/>
<line x1="50.4" y1="582.8" x2="54.9" y2="582.8" stroke="#777" stroke-width="0.9"/>
<line x1="460.3" y1="582.8" x2="455.8" y2="582.8" stroke="#777" stroke-width="0.9"/>
<line x1="50.4" y1="571.1" x2="52.9" y2="571.1" stroke="#777" stroke-width="0.9"/>
<line x1="460.3" y1="571.1" x2="457.8" y2="571.1" stroke="#777" stroke-width="0.9"/>
<line x1="50.4" y1="564.3" x2="52.9" y2="564.3" stroke="#777" stroke-width="0.9"/>
<line x1="460.3" y1="564.3" x2="457.8" y2="564.3" stroke="#777" stroke-width="0.9"/>
<line x1="50.4" y1="559.4" x2="52.9" y2="559.4" stroke="#777" stroke-width="0.9"/>
<line x1="460.3" y1="559.4" x2="457.8" y2="559.4" stroke="#777" stroke-width="0.9"/>
<line x1="50.4" y1="555.7" x2="52.9" y2="555.7" stroke="#777" stroke-width="0.9"/>
<line x1="460.3" y1="555.7" x2="457.8" y2="555.7" stroke="#777" stroke-width="0.9"/>
<line x1="50.4" y1="552.6" x2="52.9" y2="552.6" stroke="#777" stroke-width="0.9"/>
<line x1="460.3" y1="552.6" x2="457.8" y2="552.6" stroke="#777" stroke-width="0.9"/>
<line x1="50.4" y1="550.0" x2="52.9" y2="550.0" stroke="#777" stroke-width="0.9"/>
<line x1="460.3" y1="550.0" x2="457.8" y2="550.0" stroke="#777" stroke-width="0.9"/>
<line x1="50.4" y1="547.8" x2="52.9" y2="547.8" stroke="#777" stroke-width="0.9"/>
<line x1="460.3" y1="547.8" x2="457.8" y2="547.8" stroke="#777" stroke-width="0.9"/>
<line x1="50.4" y1="545.8" x2="52.9" y2="545.8" stroke="#777" stroke-width="0.9"/>
<line x1="460.3" y1="545.8" x2="457.8" y2="545.8" stroke="#777" stroke-width="0.9"/>
<line x1="50.4" y1="544.0" x2="54.9" y2="544.0" stroke="#777" stroke-width="0.9"/>
<line x1="460.3" y1="544.0" x2="455.8" y2="544.0" stroke="#777" stroke-width="0.9"/>
<line x1="50.4" y1="532.3" x2="52.9" y2="532.3" stroke="#777" stroke-width="0.9"/>
<line x1="460.3" y1="532.3" x2="457.8" y2="532.3" stroke="#777" stroke-width="0.9"/>
<line x1="50.4" y1="525.5" x2="52.9" y2="525.5" stroke="#777" stroke-width="0.9"/>
<line x1="460.3" y1="525.5" x2="457.8" y2="525.5" stroke="#777" stroke-width="0.9"/>
<line x1="50.4" y1="520.6" x2="52.9" y2="520.6" stroke="#777" stroke-width="0.9"/>
<line x1="460.3" y1="520.6" x2="457.8" y2="520.6" stroke="#777" stroke-width="0.9"/>
<line x1="50.4" y1="516.9" x2="52.9" y2="516.9" stroke="#777" stroke-width="0.9"/>
<line x1="460.3" y1="516.9" x2="457.8" y2="516.9" stroke="#777" stroke-width="0.9"/>
<line x1="50.4" y1="513.8" x2="52.9" y2="513.8" stroke="#777" stroke-width="0.9"/>
<line x1="460.3" y1="513.8" x2="457.8" y2="513.8" stroke="#777" stroke-width="0.9"/>
<line x1="50.4" y1="511.2" x2="52.9" y2="511.2" stroke="#777" stroke-width="0.9"/>
<line x1="460.3" y1="511.2" x2="457.8" y2="511.2" stroke="#777" stroke-width="0.9"/>
<line x1="50.4" y1="509.0" x2="52.9" y2="509.0" stroke="#777" stroke-width="0.9"/>
<line x1="460.3" y1="509.0" x2="457.8" y2="509.0" stroke="#777" stroke-width="0.9"/>
<line x1="50.4" y1="507.0" x2="52.9" y2="507.0" stroke="#777" stroke-width="0.9"/>
<line x1="460.3" y1="507.0" x2="457.8" y2="507.0" stroke="#777" stroke-width="0.9"/>
<line x1="50.4" y1="505.2" x2="54.9" y2="505.2" stroke="#777" stroke-width="0.9"/>
<line x1="460.3" y1="505.2" x2="455.8" y2="505.2" stroke="#777" stroke-width="0.9"/>
<line x1="50.4" y1="493.5" x2="52.9" y2="493.5" stroke="#777" stroke-width="0.9"/>
<line x1="460.3" y1="493.5" x2="457.8" y2="493.5" stroke="#777" stroke-width="0.9"/>
<line x1="50.4" y1="486.7" x2="52.9" y2="486.7" stroke="#777" stroke-width="0.9"/>
<line x1="460.3" y1="486.7" x2="457.8" y2="486.7" stroke="#777" stroke-width="0.9"/>
<line x1="50.4" y1="481.8" x2="52.9" y2="481.8" stroke="#777" stroke-width="0.9"/>
<line x1="460.3" y1="481.8" x2="457.8" y2="481.8" stroke="#777" stroke-width="0.9"/>
<line x1="50.4" y1="478.1" x2="52.9" y2="478.1" stroke="#777" stroke-width="0.9"/>
<line x1="460.3" y1="478.1" x2="457.8" y2="478.1" stroke="#777" stroke-width="0.9"/>
<line x1="50.4" y1="475.0" x2="52.9" y2="475.0" stroke="#777" stroke-width="0.9"/>
<line x1="460.3" y1="475.0" x2="457.8" y2="475.0" stroke="#777" stroke-width="0.9"/>
<line x1="50.4" y1="472.4" x2="52.9" y2="472.4" stroke="#777" stroke-width="0.9"/>
<line x1="460.3" y1="472.4" x2="457.8" y2="472.4" stroke="#777" stroke-width="0.9"/>
<line x1="50.4" y1="470.2" x2="52.9" y2="470.2" stroke="#777" stroke-width="0.9"/>
<line x1="460.3" y1="470.2" x2="457.8" y2="470.2" stroke="#777" stroke-width="0.9"/>
<line x1="50.4" y1="468.2" x2="52.9" y2="468.2" stroke="#777" stroke-width="0.9"/>
<line x1="460.3" y1="468.2" x2="457.8" y2="468.2" stroke="#777" stroke-width="0.9"/>
<line x1="50.4" y1="466.4" x2="54.9" y2="466.4" stroke="#777" stroke-width="0.9"/>
<line x1="460.3" y1="466.4" x2="455.8" y2="466.4" stroke="#777" stroke-width="0.9"/>
<rect x="50.4" y="466.4" width="409.9" height="194.0" fill="none" stroke="#888" stroke-width="1"/>
<polyline points="110.0,566.6 131.6,566.6 131.6,553.6 147.4,553.6 147.4,545.6 162.6,545.6 162.6,513.0 174.6,513.0 174.6,515.0 185.0,515.0 185.0,523.4 192.6,523.4 192.6,510.3 200.0,510.3 200.0,502.0 206.0,502.0 206.0,484.6 214.0,484.6 214.0,483.0 222.0,483.0 222.0,491.0 227.0,491.0 227.0,492.4 233.0,492.4 233.0,480.0 239.0,480.0 239.0,487.0 244.0,487.0 244.0,497.4 251.0,497.4 251.0,507.0 257.0,507.0 257.0,512.0" fill="none" stroke="#ff0000" stroke-width="2.8" stroke-linejoin="miter" stroke-linecap="square"/>
<polyline points="370.0,590.0 370.0,601.6 376.0,601.6 376.0,606.0 382.0,606.0 382.0,603.0 388.0,603.0 388.0,607.0 397.0,607.0 397.0,609.0 401.0,609.0 401.0,614.0 406.0,614.0 406.0,607.6 410.0,607.6 410.0,612.4 413.0,612.4 413.0,609.0 417.0,609.0 417.0,612.4 422.0,612.4 422.0,628.0 424.4,628.0 424.4,622.0 430.0,622.0 430.0,624.0 434.0,624.0 434.0,635.0 438.0,635.0 438.0,629.0 442.4,629.0 442.4,648.0 445.6,648.0" fill="none" stroke="#ff00ff" stroke-width="2.8" stroke-linejoin="miter" stroke-linecap="square"/>
<polyline points="257.0,512.0 257.0,513.6 267.0,513.6 267.0,533.6 275.6,533.6 275.6,546.6 283.0,546.6 283.0,555.0 289.6,555.0 289.6,562.4 295.0,562.4 295.0,567.0 301.0,567.0 301.0,569.6 306.0,569.6 306.0,561.6 310.0,561.6 310.0,553.0 314.0,553.0 314.0,546.4 318.0,546.4 318.0,538.0 321.0,538.0 321.0,532.0 325.0,532.0 325.0,525.6 329.0,525.6 329.0,523.6 333.0,523.6 333.0,524.4 338.0,524.4 338.0,525.0 342.0,525.0 342.0,522.0 348.0,522.0 348.0,524.4 351.0,524.4 351.0,536.0 355.0,536.0 355.0,546.4 359.6,546.4 359.6,555.0 362.0,555.0 362.0,563.6 365.6,563.6 365.6,572.0 368.0,572.0 368.0,579.0 371.0,579.0 371.0,589.0 372.0,589.0 372.0,600.0" fill="none" stroke="#0000ff" stroke-width="2.8" stroke-linejoin="miter" stroke-linecap="square"/>
<line x1="115.6" y1="575.2" x2="288.1" y2="575.2" stroke="#000" stroke-width="1.8"/>
<polygon points="109.6,575.2 121.2,572.3 118.8,575.2 121.2,578.1" fill="#000"/>
<polygon points="294.1,575.2 282.5,572.3 284.9,575.2 282.5,578.1" fill="#000"/>
<line x1="305.8" y1="575.2" x2="356.5" y2="575.2" stroke="#000" stroke-width="1.8"/>
<polygon points="299.8,575.2 311.4,572.3 309.0,575.2 311.4,578.1" fill="#000"/>
<polygon points="362.5,575.2 350.9,572.3 353.3,575.2 350.9,578.1" fill="#000"/>
<line x1="381" y1="575.2" x2="442" y2="575.2" stroke="#000" stroke-width="1.8"/>
<polygon points="375.0,575.2 386.6,572.3 384.2,575.2 386.6,578.1" fill="#000"/>
<polygon points="448.0,575.2 436.4,572.3 438.8,575.2 436.4,578.1" fill="#000"/>
<text x="190.0" y="589.3" font-size="9.7" fill="#000" font-weight="bold" textLength="58.0" lengthAdjust="spacingAndGlyphs" >Cloud Drops</text>
<text x="218.5" y="601.3" font-size="9.7" fill="#000" font-weight="bold" text-anchor="middle" >0.08 g m<tspan dy="-3" font-size="6">-3</tspan></text>
<text x="333.0" y="589.3" font-size="9.7" fill="#000" font-weight="bold" text-anchor="middle" >Drizzle</text>
<text x="333.0" y="600.5" font-size="9.7" fill="#000" font-weight="bold" text-anchor="middle" >0.16 g m<tspan dy="-3" font-size="6">-3</tspan></text>
<text x="408.0" y="589.0" font-size="11" fill="#000" font-weight="bold" text-anchor="middle" >Ice</text>
<text x="64.0" y="621.3" font-size="9.3" fill="#000"  textLength="92.0" lengthAdjust="spacingAndGlyphs" >Lear RF-07 20240808</text>
<text x="64.0" y="632.3" font-size="9.3" fill="#000"  textLength="89.0" lengthAdjust="spacingAndGlyphs" >132544 -132614 UTC</text>
<text x="63.0" y="493.8" font-size="13.5" fill="#000" font-weight="bold" >f)</text>
<rect x="355.6" y="476" width="87.1" height="42" fill="#fff" stroke="#444" stroke-width="0.8"/>
<line x1="358" y1="484.4" x2="380.8" y2="484.4" stroke="#ff0000" stroke-width="2.8"/>
<text x="383.2" y="488.3" font-size="11" fill="#000"  >FCDP</text>
<line x1="358" y1="497.3" x2="380.8" y2="497.3" stroke="#0000ff" stroke-width="2.8"/>
<text x="383.2" y="501.2" font-size="11" fill="#000"  >2D-S</text>
<line x1="358" y1="510.3" x2="380.8" y2="510.3" stroke="#ff00ff" stroke-width="2.8"/>
<text x="383.2" y="514.2" font-size="11" fill="#000"  >HVPS4H50</text>
<text x="24.6" y="471.9" font-size="12" fill="#333"  >10<tspan dy="-5" font-size="8.5">-2</tspan></text>
<text x="24.6" y="510.7" font-size="12" fill="#333"  >10<tspan dy="-5" font-size="8.5">-3</tspan></text>
<text x="24.6" y="549.5" font-size="12" fill="#333"  >10<tspan dy="-5" font-size="8.5">-4</tspan></text>
<text x="24.6" y="588.3" font-size="12" fill="#333"  >10<tspan dy="-5" font-size="8.5">-5</tspan></text>
<text x="24.6" y="627.1" font-size="12" fill="#333"  >10<tspan dy="-5" font-size="8.5">-6</tspan></text>
<text x="24.6" y="665.9" font-size="12" fill="#333"  >10<tspan dy="-5" font-size="8.5">-7</tspan></text>
<text x="41.4" y="679.5" font-size="12" fill="#333"  >10<tspan dy="-5" font-size="8.5">0</tspan></text>
<text x="165.6" y="679.5" font-size="12" fill="#333"  >10<tspan dy="-5" font-size="8.5">1</tspan></text>
<text x="289.8" y="679.5" font-size="12" fill="#333"  >10<tspan dy="-5" font-size="8.5">2</tspan></text>
<text x="414.0" y="679.5" font-size="12" fill="#333"  >10<tspan dy="-5" font-size="8.5">3</tspan></text>
<text x="179.0" y="691.0" font-size="13.5" fill="#000" font-weight="bold" textLength="114.5" lengthAdjust="spacingAndGlyphs" >Particle Size (μm)</text>
<text x="0" y="0" font-size="12.5" font-weight="bold" transform="translate(18.3,662.5) rotate(-90)" textLength="196" lengthAdjust="spacingAndGlyphs">Mass Concentration (g m<tspan dy="-4" font-size="8">-3</tspan><tspan dy="4"> μm</tspan><tspan dy="-4" font-size="8">-1</tspan><tspan dy="4">)</tspan></text>
</svg></body></html>
